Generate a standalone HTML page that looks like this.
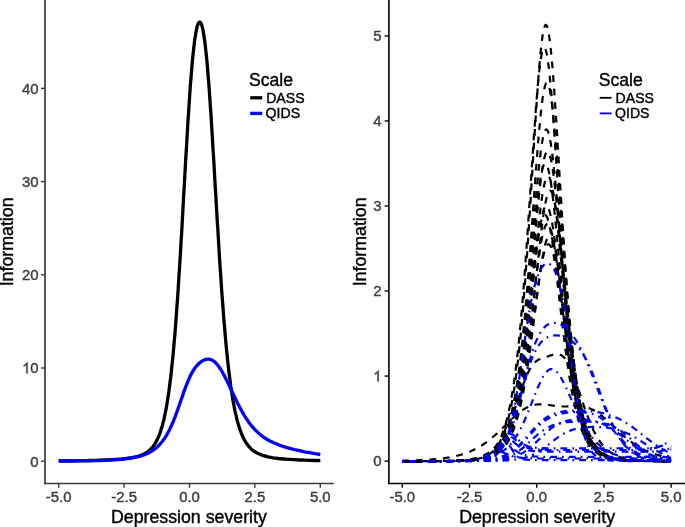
<!DOCTYPE html>
<html><head><meta charset="utf-8"><style>
html,body{margin:0;padding:0;background:#fff;width:685px;height:527px;overflow:hidden}
svg{display:block;font-family:"Liberation Sans", sans-serif}
text{filter:grayscale(1);stroke-width:0.4px}
</style></head><body>
<svg width="685" height="527" viewBox="0 0 685 527">
<rect width="685" height="527" fill="#fff"/>
<line x1="45.0" y1="0" x2="45.0" y2="484.3" stroke="#3a3a3a" stroke-width="1.7"/>
<line x1="44.15" y1="483.5" x2="333.8" y2="483.5" stroke="#3a3a3a" stroke-width="1.6"/>
<line x1="41" y1="461.20" x2="45.0" y2="461.20" stroke="#3a3a3a" stroke-width="1.4"/>
<text x="30.31" y="466.50" font-size="14.9" fill="#3d3d3d" stroke="#3d3d3d" text-anchor="start" >0</text>
<line x1="41" y1="368.00" x2="45.0" y2="368.00" stroke="#3a3a3a" stroke-width="1.4"/>
<path d="M763 0H583V1147Q518 1085 412 1023Q306 961 222 930V1104Q373 1175 486 1276Q599 1377 646 1472H763Z" transform="translate(22.03,373.30) scale(0.00728,-0.00728)" fill="#3d3d3d" stroke="#3d3d3d" stroke-width="0.4" vector-effect="non-scaling-stroke"/><text x="30.31" y="373.30" font-size="14.9" fill="#3d3d3d" stroke="#3d3d3d" text-anchor="start" >0</text>
<line x1="41" y1="274.80" x2="45.0" y2="274.80" stroke="#3a3a3a" stroke-width="1.4"/>
<text x="22.03" y="280.10" font-size="14.9" fill="#3d3d3d" stroke="#3d3d3d" text-anchor="start" >2</text><text x="30.31" y="280.10" font-size="14.9" fill="#3d3d3d" stroke="#3d3d3d" text-anchor="start" >0</text>
<line x1="41" y1="181.60" x2="45.0" y2="181.60" stroke="#3a3a3a" stroke-width="1.4"/>
<text x="22.03" y="186.90" font-size="14.9" fill="#3d3d3d" stroke="#3d3d3d" text-anchor="start" >3</text><text x="30.31" y="186.90" font-size="14.9" fill="#3d3d3d" stroke="#3d3d3d" text-anchor="start" >0</text>
<line x1="41" y1="88.40" x2="45.0" y2="88.40" stroke="#3a3a3a" stroke-width="1.4"/>
<text x="22.03" y="93.70" font-size="14.9" fill="#3d3d3d" stroke="#3d3d3d" text-anchor="start" >4</text><text x="30.31" y="93.70" font-size="14.9" fill="#3d3d3d" stroke="#3d3d3d" text-anchor="start" >0</text>
<line x1="58.70" y1="483.5" x2="58.70" y2="487.8" stroke="#3a3a3a" stroke-width="1.4"/>
<text x="58.70" y="502.0" font-size="14.9" fill="#3d3d3d" stroke="#3d3d3d" text-anchor="middle" >-5.0</text>
<line x1="124.10" y1="483.5" x2="124.10" y2="487.8" stroke="#3a3a3a" stroke-width="1.4"/>
<text x="124.10" y="502.0" font-size="14.9" fill="#3d3d3d" stroke="#3d3d3d" text-anchor="middle" >-2.5</text>
<line x1="189.50" y1="483.5" x2="189.50" y2="487.8" stroke="#3a3a3a" stroke-width="1.4"/>
<text x="189.50" y="502.0" font-size="14.9" fill="#3d3d3d" stroke="#3d3d3d" text-anchor="middle" >0.0</text>
<line x1="254.90" y1="483.5" x2="254.90" y2="487.8" stroke="#3a3a3a" stroke-width="1.4"/>
<text x="254.90" y="502.0" font-size="14.9" fill="#3d3d3d" stroke="#3d3d3d" text-anchor="middle" >2.5</text>
<line x1="320.30" y1="483.5" x2="320.30" y2="487.8" stroke="#3a3a3a" stroke-width="1.4"/>
<text x="320.30" y="502.0" font-size="14.9" fill="#3d3d3d" stroke="#3d3d3d" text-anchor="middle" >5.0</text>
<text x="188.9" y="523.2" font-size="17.75" fill="#000" stroke="#000" text-anchor="middle" >Depression severity</text>
<text transform="translate(13.4,241.9) rotate(-90)" font-size="17.8" fill="#000" stroke="#000" text-anchor="middle">Information</text>
<path d="M58.7 461.0L63.9 460.9L69.2 460.9L74.4 460.8L79.6 460.7L84.9 460.6L90.1 460.5L95.3 460.4L100.6 460.2L105.8 460.0L111.0 459.7L116.3 459.4L121.5 459.0L126.7 458.4L131.9 457.7L137.2 456.5L137.7 456.4L138.2 456.2L138.7 456.1L139.3 455.9L139.8 455.7L140.3 455.5L140.8 455.4L141.4 455.2L141.9 454.9L142.4 454.7L142.9 454.5L143.5 454.2L144.0 454.0L144.5 453.7L145.0 453.4L145.6 453.1L146.1 452.8L146.6 452.5L147.1 452.1L147.6 451.8L148.2 451.4L148.7 451.0L149.2 450.5L149.7 450.1L150.3 449.6L150.8 449.0L151.3 448.5L151.8 447.9L152.4 447.3L152.9 446.7L153.4 446.0L153.9 445.2L154.4 444.5L155.0 443.7L155.5 442.8L156.0 441.9L156.5 440.9L157.1 439.9L157.6 438.8L158.1 437.6L158.6 436.4L159.2 435.1L159.7 433.8L160.2 432.3L160.7 430.8L161.2 429.1L161.8 427.4L162.3 425.6L162.8 423.6L163.3 421.6L163.9 419.4L164.4 417.1L164.9 414.7L165.4 412.1L166.0 409.4L166.5 406.6L167.0 403.6L167.5 400.4L168.0 397.0L168.6 393.5L169.1 389.7L169.6 385.8L170.1 381.7L170.7 377.3L171.2 372.8L171.7 368.0L172.2 363.0L172.8 357.7L173.3 352.2L173.8 346.5L174.3 340.5L174.9 334.3L175.4 327.8L175.9 321.1L176.4 314.1L176.9 306.8L177.5 299.4L178.0 291.7L178.5 283.7L179.0 275.5L179.6 267.2L180.1 258.6L180.6 249.9L181.1 241.0L181.7 231.9L182.2 222.8L182.7 213.5L183.2 204.2L183.7 194.8L184.3 185.5L184.8 176.1L185.3 166.8L185.8 157.6L186.4 148.5L186.9 139.6L187.4 130.8L187.9 122.2L188.5 113.9L189.0 105.8L189.5 98.1L190.0 90.6L190.5 83.5L191.1 76.7L191.6 70.3L192.1 64.2L192.6 58.6L193.2 53.3L193.7 48.5L194.2 44.1L194.7 40.0L195.3 36.4L195.8 33.2L196.3 30.4L196.8 28.0L197.3 26.0L197.9 24.4L198.4 23.3L198.9 22.5L199.4 22.1L200.0 22.1L200.5 22.5L201.0 23.4L201.5 24.6L202.1 26.3L202.6 28.3L203.1 30.8L203.6 33.7L204.1 37.0L204.7 40.7L205.2 44.8L205.7 49.4L206.2 54.3L206.8 59.7L207.3 65.4L207.8 71.5L208.3 78.0L208.9 84.8L209.4 91.9L209.9 99.3L210.4 107.0L211.0 115.0L211.5 123.2L212.0 131.5L212.5 140.1L213.0 148.8L213.6 157.6L214.1 166.5L214.6 175.5L215.1 184.5L215.7 193.5L216.2 202.5L216.7 211.4L217.2 220.2L217.8 229.0L218.3 237.6L218.8 246.2L219.3 254.5L219.8 262.7L220.4 270.8L220.9 278.6L221.4 286.2L221.9 293.7L222.5 300.9L223.0 307.9L223.5 314.6L224.0 321.2L224.6 327.5L225.1 333.6L225.6 339.5L226.1 345.1L226.6 350.5L227.2 355.7L227.7 360.7L228.2 365.5L228.7 370.1L229.3 374.4L229.8 378.6L230.3 382.6L230.8 386.4L231.4 390.0L231.9 393.5L232.4 396.8L232.9 399.9L233.4 402.9L234.0 405.7L234.5 408.4L235.0 411.0L235.5 413.4L236.1 415.7L236.6 417.9L237.1 420.0L237.6 421.9L238.2 423.8L238.7 425.6L239.2 427.3L239.7 428.9L240.3 430.4L240.8 431.8L241.3 433.2L241.8 434.4L242.3 435.7L242.9 436.8L243.4 437.9L243.9 439.0L244.4 439.9L245.0 440.9L245.5 441.7L246.0 442.6L246.5 443.4L247.1 444.1L247.6 444.8L248.1 445.5L248.6 446.2L249.1 446.8L249.7 447.3L250.2 447.9L250.7 448.4L251.2 448.9L251.8 449.4L252.3 449.8L252.8 450.3L253.3 450.7L253.9 451.0L254.4 451.4L254.9 451.8L257.5 453.3L262.7 455.4L268.0 456.8L273.2 457.8L278.4 458.5L283.7 459.0L288.9 459.4L294.1 459.7L299.4 460.0L304.6 460.2L309.8 460.4L315.1 460.5L320.3 460.6" fill="none" stroke="#000" stroke-width="3.3" stroke-linejoin="round"/>
<path d="M58.7 461.0L63.9 461.0L69.2 461.0L74.4 460.9L79.6 460.9L84.9 460.8L90.1 460.7L95.3 460.6L100.6 460.5L105.8 460.3L111.0 460.0L116.3 459.7L121.5 459.3L126.7 458.7L131.9 458.0L137.2 456.9L137.7 456.8L138.2 456.6L138.7 456.5L139.3 456.4L139.8 456.2L140.3 456.1L140.8 455.9L141.4 455.7L141.9 455.6L142.4 455.4L142.9 455.2L143.5 455.0L144.0 454.9L144.5 454.7L145.0 454.5L145.6 454.2L146.1 454.0L146.6 453.8L147.1 453.6L147.6 453.3L148.2 453.1L148.7 452.8L149.2 452.5L149.7 452.3L150.3 452.0L150.8 451.7L151.3 451.4L151.8 451.0L152.4 450.7L152.9 450.4L153.4 450.0L153.9 449.6L154.4 449.2L155.0 448.8L155.5 448.4L156.0 448.0L156.5 447.5L157.1 447.1L157.6 446.6L158.1 446.1L158.6 445.6L159.2 445.1L159.7 444.5L160.2 443.9L160.7 443.3L161.2 442.7L161.8 442.1L162.3 441.4L162.8 440.7L163.3 440.0L163.9 439.3L164.4 438.6L164.9 437.8L165.4 437.0L166.0 436.1L166.5 435.3L167.0 434.4L167.5 433.4L168.0 432.5L168.6 431.5L169.1 430.5L169.6 429.4L170.1 428.4L170.7 427.3L171.2 426.1L171.7 425.0L172.2 423.8L172.8 422.5L173.3 421.3L173.8 420.0L174.3 418.7L174.9 417.3L175.4 416.0L175.9 414.6L176.4 413.2L176.9 411.7L177.5 410.3L178.0 408.8L178.5 407.3L179.0 405.8L179.6 404.3L180.1 402.8L180.6 401.2L181.1 399.7L181.7 398.2L182.2 396.7L182.7 395.2L183.2 393.7L183.7 392.2L184.3 390.7L184.8 389.3L185.3 387.9L185.8 386.5L186.4 385.1L186.9 383.8L187.4 382.5L187.9 381.2L188.5 380.0L189.0 378.8L189.5 377.6L190.0 376.5L190.5 375.4L191.1 374.4L191.6 373.4L192.1 372.5L192.6 371.6L193.2 370.7L193.7 369.9L194.2 369.1L194.7 368.3L195.3 367.6L195.8 366.9L196.3 366.3L196.8 365.7L197.3 365.1L197.9 364.5L198.4 364.0L198.9 363.5L199.4 363.1L200.0 362.6L200.5 362.2L201.0 361.8L201.5 361.4L202.1 361.1L202.6 360.8L203.1 360.5L203.6 360.2L204.1 360.0L204.7 359.8L205.2 359.6L205.7 359.5L206.2 359.3L206.8 359.3L207.3 359.2L207.8 359.2L208.3 359.2L208.9 359.2L209.4 359.3L209.9 359.4L210.4 359.5L211.0 359.7L211.5 359.9L212.0 360.1L212.5 360.4L213.0 360.7L213.6 361.1L214.1 361.4L214.6 361.9L215.1 362.3L215.7 362.8L216.2 363.4L216.7 363.9L217.2 364.5L217.8 365.2L218.3 365.8L218.8 366.6L219.3 367.3L219.8 368.1L220.4 368.9L220.9 369.7L221.4 370.5L221.9 371.4L222.5 372.3L223.0 373.3L223.5 374.2L224.0 375.2L224.6 376.2L225.1 377.2L225.6 378.2L226.1 379.3L226.6 380.3L227.2 381.4L227.7 382.5L228.2 383.5L228.7 384.6L229.3 385.7L229.8 386.8L230.3 388.0L230.8 389.1L231.4 390.2L231.9 391.3L232.4 392.4L232.9 393.5L233.4 394.6L234.0 395.7L234.5 396.8L235.0 397.9L235.5 399.0L236.1 400.1L236.6 401.1L237.1 402.2L237.6 403.2L238.2 404.3L238.7 405.3L239.2 406.3L239.7 407.3L240.3 408.3L240.8 409.2L241.3 410.2L241.8 411.1L242.3 412.1L242.9 413.0L243.4 413.9L243.9 414.8L244.4 415.6L245.0 416.5L245.5 417.3L246.0 418.1L246.5 418.9L247.1 419.7L247.6 420.5L248.1 421.2L248.6 422.0L249.1 422.7L249.7 423.4L250.2 424.1L250.7 424.8L251.2 425.4L251.8 426.1L252.3 426.7L252.8 427.3L253.3 427.9L253.9 428.5L254.4 429.1L254.9 429.6L257.5 432.2L262.7 436.6L268.0 440.0L273.2 442.6L278.4 444.8L283.7 446.6L288.9 448.1L294.1 449.5L299.4 450.7L304.6 451.8L309.8 452.7L315.1 453.7L320.3 454.5" fill="none" stroke="#0000ff" stroke-width="3.3" stroke-linejoin="round"/>
<text x="249.0" y="86.2" font-size="17.6" fill="#000" stroke="#000" text-anchor="start" >Scale</text>
<line x1="250.2" y1="97.8" x2="262.2" y2="97.8" stroke="#000" stroke-width="3.3"/>
<line x1="250.2" y1="113.4" x2="262.2" y2="113.4" stroke="#0000ff" stroke-width="3.3"/>
<text x="266.2" y="102.9" font-size="14.1" fill="#000" stroke="#000" text-anchor="start" >DASS</text>
<text x="265.6" y="118.4" font-size="14.1" fill="#000" stroke="#000" text-anchor="start" >QIDS</text>
<line x1="388.9" y1="0" x2="388.9" y2="484.3" stroke="#000" stroke-width="1.6"/>
<line x1="388.1" y1="483.5" x2="685" y2="483.5" stroke="#000" stroke-width="1.6"/>
<line x1="384.6" y1="461.10" x2="388.9" y2="461.10" stroke="#000" stroke-width="1.4"/>
<text x="373.21" y="466.40" font-size="14.9" fill="#3d3d3d" stroke="#3d3d3d" text-anchor="start" >0</text>
<line x1="384.6" y1="376.06" x2="388.9" y2="376.06" stroke="#000" stroke-width="1.4"/>
<path d="M763 0H583V1147Q518 1085 412 1023Q306 961 222 930V1104Q373 1175 486 1276Q599 1377 646 1472H763Z" transform="translate(373.21,381.36) scale(0.00728,-0.00728)" fill="#3d3d3d" stroke="#3d3d3d" stroke-width="0.4" vector-effect="non-scaling-stroke"/>
<line x1="384.6" y1="291.02" x2="388.9" y2="291.02" stroke="#000" stroke-width="1.4"/>
<text x="373.21" y="296.32" font-size="14.9" fill="#3d3d3d" stroke="#3d3d3d" text-anchor="start" >2</text>
<line x1="384.6" y1="205.98" x2="388.9" y2="205.98" stroke="#000" stroke-width="1.4"/>
<text x="373.21" y="211.28" font-size="14.9" fill="#3d3d3d" stroke="#3d3d3d" text-anchor="start" >3</text>
<line x1="384.6" y1="120.94" x2="388.9" y2="120.94" stroke="#000" stroke-width="1.4"/>
<text x="373.21" y="126.24" font-size="14.9" fill="#3d3d3d" stroke="#3d3d3d" text-anchor="start" >4</text>
<line x1="384.6" y1="35.90" x2="388.9" y2="35.90" stroke="#000" stroke-width="1.4"/>
<text x="373.21" y="41.20" font-size="14.9" fill="#3d3d3d" stroke="#3d3d3d" text-anchor="start" >5</text>
<line x1="402.30" y1="483.5" x2="402.30" y2="487.8" stroke="#000" stroke-width="1.4"/>
<text x="402.30" y="502.0" font-size="14.9" fill="#3d3d3d" stroke="#3d3d3d" text-anchor="middle" >-5.0</text>
<line x1="469.50" y1="483.5" x2="469.50" y2="487.8" stroke="#000" stroke-width="1.4"/>
<text x="469.50" y="502.0" font-size="14.9" fill="#3d3d3d" stroke="#3d3d3d" text-anchor="middle" >-2.5</text>
<line x1="536.70" y1="483.5" x2="536.70" y2="487.8" stroke="#000" stroke-width="1.4"/>
<text x="536.70" y="502.0" font-size="14.9" fill="#3d3d3d" stroke="#3d3d3d" text-anchor="middle" >0.0</text>
<line x1="603.90" y1="483.5" x2="603.90" y2="487.8" stroke="#000" stroke-width="1.4"/>
<text x="603.90" y="502.0" font-size="14.9" fill="#3d3d3d" stroke="#3d3d3d" text-anchor="middle" >2.5</text>
<line x1="671.10" y1="483.5" x2="671.10" y2="487.8" stroke="#000" stroke-width="1.4"/>
<text x="671.10" y="502.0" font-size="14.9" fill="#3d3d3d" stroke="#3d3d3d" text-anchor="middle" >5.0</text>
<text x="537.1" y="523.2" font-size="17.75" fill="#000" stroke="#000" text-anchor="middle" >Depression severity</text>
<text transform="translate(365.6,241.9) rotate(-90)" font-size="17.8" fill="#000" stroke="#000" text-anchor="middle">Information</text>
<path d="M402.3 461.1L403.0 461.1L403.6 461.1L404.3 461.1L405.0 461.1L405.7 461.1L406.3 461.1L407.0 461.1L407.7 461.1L408.3 461.1L409.0 461.1L409.7 461.1L410.4 461.1L411.0 461.1L411.7 461.1L412.4 461.1L413.1 461.1L413.7 461.1L414.4 461.1L415.1 461.1L415.7 461.1L416.4 461.1L417.1 461.1L417.8 461.1L418.4 461.1L419.1 461.1L419.8 461.1L420.4 461.1L421.1 461.1L421.8 461.1L422.5 461.1L423.1 461.1L423.8 461.1L424.5 461.1L425.1 461.1L425.8 461.1L426.5 461.1L427.2 461.1L427.8 461.1L428.5 461.1L429.2 461.1L429.9 461.1L430.5 461.1L431.2 461.1L431.9 461.1L432.5 461.1L433.2 461.1L433.9 461.1L434.6 461.1L435.2 461.1L435.9 461.1L436.6 461.1L437.2 461.1L437.9 461.1L438.6 461.1L439.3 461.0L439.9 461.0L440.6 461.0L441.3 461.0L441.9 461.0L442.6 461.0L443.3 461.0L444.0 461.0L444.6 461.0L445.3 461.0L446.0 461.0L446.7 461.0L447.3 461.0L448.0 461.0L448.7 461.0L449.3 461.0L450.0 461.0L450.7 460.9L451.4 460.9L452.0 460.9L452.7 460.9L453.4 460.9L454.0 460.9L454.7 460.9L455.4 460.9L456.1 460.8L456.7 460.8L457.4 460.8L458.1 460.8L458.7 460.8L459.4 460.7L460.1 460.7L460.8 460.7L461.4 460.7L462.1 460.6L462.8 460.6L463.5 460.6L464.1 460.5L464.8 460.5L465.5 460.4L466.1 460.4L466.8 460.3L467.5 460.3L468.2 460.2L468.8 460.2L469.5 460.1L470.2 460.0L470.8 460.0L471.5 459.9L472.2 459.8L472.9 459.7L473.5 459.6L474.2 459.5L474.9 459.4L475.5 459.3L476.2 459.2L476.9 459.1L477.6 458.9L478.2 458.8L478.9 458.6L479.6 458.4L480.3 458.3L480.9 458.1L481.6 457.9L482.3 457.7L482.9 457.4L483.6 457.2L484.3 456.9L485.0 456.6L485.6 456.3L486.3 456.0L487.0 455.7L487.6 455.3L488.3 454.9L489.0 454.5L489.7 454.0L490.3 453.5L491.0 453.0L491.7 452.5L492.3 451.9L493.0 451.3L493.7 450.6L494.4 449.9L495.0 449.2L495.7 448.4L496.4 447.5L497.1 446.6L497.7 445.7L498.4 444.6L499.1 443.5L499.7 442.4L500.4 441.1L501.1 439.8L501.8 438.4L502.4 436.9L503.1 435.3L503.8 433.6L504.4 431.8L505.1 429.9L505.8 427.8L506.5 425.7L507.1 423.4L507.8 420.9L508.5 418.3L509.1 415.6L509.8 412.7L510.5 409.6L511.2 406.3L511.8 402.8L512.5 399.2L513.2 395.3L513.9 391.2L514.5 386.8L515.2 382.3L515.9 377.4L516.5 372.4L517.2 367.0L517.9 361.4L518.6 355.5L519.2 349.3L519.9 342.8L520.6 336.0L521.2 328.9L521.9 321.5L522.6 313.8L523.3 305.7L523.9 297.4L524.6 288.7L525.3 279.7L525.9 270.4L526.6 260.9L527.3 251.1L528.0 241.0L528.6 230.7L529.3 220.2L530.0 209.5L530.7 198.7L531.3 187.7L532.0 176.7L532.7 165.6L533.3 154.6L534.0 143.7L534.7 132.8L535.4 122.2L536.0 111.8L536.7 101.7L537.4 92.0L538.0 82.7L538.7 73.9L539.4 65.6L540.1 58.0L540.7 51.0L541.4 44.8L542.1 39.3L542.7 34.7L543.4 30.9L544.1 28.0L544.8 26.1L545.4 25.0L546.1 24.9L546.8 25.8L547.5 27.6L548.1 30.3L548.8 33.9L549.5 38.3L550.1 43.6L550.8 49.7L551.5 56.5L552.2 64.0L552.8 72.2L553.5 80.9L554.2 90.1L554.8 99.7L555.5 109.8L556.2 120.1L556.9 130.7L557.5 141.5L558.2 152.4L558.9 163.4L559.5 174.5L560.2 185.5L560.9 196.5L561.6 207.3L562.2 218.1L562.9 228.6L563.6 239.0L564.3 249.1L564.9 259.0L565.6 268.6L566.3 277.9L566.9 286.9L567.6 295.6L568.3 304.1L569.0 312.2L569.6 320.0L570.3 327.4L571.0 334.6L571.6 341.5L572.3 348.0L573.0 354.3L573.7 360.2L574.3 365.9L575.0 371.3L575.7 376.5L576.3 381.3L577.0 385.9L577.7 390.3L578.4 394.5L579.0 398.4L579.7 402.1L580.4 405.6L581.1 408.9L581.7 412.1L582.4 415.0L583.1 417.8L583.7 420.4L584.4 422.9L585.1 425.2L585.8 427.4L586.4 429.5L587.1 431.4L587.8 433.3L588.4 435.0L589.1 436.6L589.8 438.1L590.5 439.5L591.1 440.9L591.8 442.1L592.5 443.3L593.1 444.4L593.8 445.5L594.5 446.5L595.2 447.4L595.8 448.2L596.5 449.0L597.2 449.8L597.9 450.5L598.5 451.2L599.2 451.8L599.9 452.4L600.5 452.9L601.2 453.5L601.9 453.9L602.6 454.4L603.2 454.8L603.9 455.2L604.6 455.6L605.2 455.9L605.9 456.3L606.6 456.6L607.3 456.9L607.9 457.1L608.6 457.4L609.3 457.6L609.9 457.8L610.6 458.0L611.3 458.2L612.0 458.4L612.6 458.6L613.3 458.7L614.0 458.9L614.7 459.0L615.3 459.2L616.0 459.3L616.7 459.4L617.3 459.5L618.0 459.6L618.7 459.7L619.4 459.8L620.0 459.9L620.7 460.0L621.4 460.0L622.0 460.1L622.7 460.2L623.4 460.2L624.1 460.3L624.7 460.3L625.4 460.4L626.1 460.4L626.7 460.5L627.4 460.5L628.1 460.5L628.8 460.6L629.4 460.6L630.1 460.6L630.8 460.7L631.5 460.7L632.1 460.7L632.8 460.7L633.5 460.8L634.1 460.8L634.8 460.8L635.5 460.8L636.2 460.8L636.8 460.9L637.5 460.9L638.2 460.9L638.8 460.9L639.5 460.9L640.2 460.9L640.9 460.9L641.5 461.0L642.2 461.0L642.9 461.0L643.5 461.0L644.2 461.0L644.9 461.0L645.6 461.0L646.2 461.0L646.9 461.0L647.6 461.0L648.3 461.0L648.9 461.0L649.6 461.0L650.3 461.0L650.9 461.0L651.6 461.0L652.3 461.0L653.0 461.1L653.6 461.1L654.3 461.1L655.0 461.1L655.6 461.1L656.3 461.1L657.0 461.1L657.7 461.1L658.3 461.1L659.0 461.1L659.7 461.1L660.3 461.1L661.0 461.1L661.7 461.1L662.4 461.1L663.0 461.1L663.7 461.1L664.4 461.1L665.1 461.1L665.7 461.1L666.4 461.1L667.1 461.1L667.7 461.1L668.4 461.1L669.1 461.1L669.8 461.1L670.4 461.1L671.1 461.1" fill="none" stroke="#000" stroke-width="2.2" stroke-dasharray="6.80 6.80" stroke-dashoffset="7.84"/>
<path d="M402.3 461.1L403.0 461.1L403.6 461.1L404.3 461.1L405.0 461.1L405.7 461.1L406.3 461.1L407.0 461.1L407.7 461.1L408.3 461.1L409.0 461.1L409.7 461.1L410.4 461.1L411.0 461.1L411.7 461.1L412.4 461.1L413.1 461.1L413.7 461.1L414.4 461.1L415.1 461.1L415.7 461.1L416.4 461.1L417.1 461.1L417.8 461.1L418.4 461.1L419.1 461.1L419.8 461.1L420.4 461.1L421.1 461.1L421.8 461.1L422.5 461.1L423.1 461.1L423.8 461.1L424.5 461.1L425.1 461.1L425.8 461.1L426.5 461.1L427.2 461.1L427.8 461.1L428.5 461.1L429.2 461.1L429.9 461.1L430.5 461.1L431.2 461.1L431.9 461.1L432.5 461.1L433.2 461.1L433.9 461.1L434.6 461.1L435.2 461.1L435.9 461.1L436.6 461.1L437.2 461.0L437.9 461.0L438.6 461.0L439.3 461.0L439.9 461.0L440.6 461.0L441.3 461.0L441.9 461.0L442.6 461.0L443.3 461.0L444.0 461.0L444.6 461.0L445.3 461.0L446.0 461.0L446.7 461.0L447.3 461.0L448.0 461.0L448.7 460.9L449.3 460.9L450.0 460.9L450.7 460.9L451.4 460.9L452.0 460.9L452.7 460.9L453.4 460.9L454.0 460.8L454.7 460.8L455.4 460.8L456.1 460.8L456.7 460.8L457.4 460.7L458.1 460.7L458.7 460.7L459.4 460.7L460.1 460.6L460.8 460.6L461.4 460.6L462.1 460.5L462.8 460.5L463.5 460.5L464.1 460.4L464.8 460.4L465.5 460.3L466.1 460.3L466.8 460.2L467.5 460.1L468.2 460.1L468.8 460.0L469.5 459.9L470.2 459.9L470.8 459.8L471.5 459.7L472.2 459.6L472.9 459.5L473.5 459.4L474.2 459.3L474.9 459.1L475.5 459.0L476.2 458.9L476.9 458.7L477.6 458.6L478.2 458.4L478.9 458.2L479.6 458.0L480.3 457.8L480.9 457.6L481.6 457.3L482.3 457.1L482.9 456.8L483.6 456.5L484.3 456.2L485.0 455.9L485.6 455.6L486.3 455.2L487.0 454.8L487.6 454.4L488.3 453.9L489.0 453.4L489.7 452.9L490.3 452.4L491.0 451.8L491.7 451.2L492.3 450.5L493.0 449.8L493.7 449.1L494.4 448.3L495.0 447.4L495.7 446.5L496.4 445.5L497.1 444.5L497.7 443.4L498.4 442.2L499.1 441.0L499.7 439.7L500.4 438.3L501.1 436.8L501.8 435.2L502.4 433.5L503.1 431.7L503.8 429.8L504.4 427.8L505.1 425.6L505.8 423.4L506.5 420.9L507.1 418.4L507.8 415.7L508.5 412.8L509.1 409.7L509.8 406.5L510.5 403.1L511.2 399.5L511.8 395.7L512.5 391.7L513.2 387.4L513.9 382.9L514.5 378.2L515.2 373.3L515.9 368.0L516.5 362.6L517.2 356.8L517.9 350.8L518.6 344.5L519.2 337.9L519.9 331.0L520.6 323.8L521.2 316.4L521.9 308.6L522.6 300.6L523.3 292.2L523.9 283.6L524.6 274.7L525.3 265.6L525.9 256.2L526.6 246.6L527.3 236.8L528.0 226.8L528.6 216.7L529.3 206.5L530.0 196.1L530.7 185.8L531.3 175.4L532.0 165.1L532.7 154.8L533.3 144.7L534.0 134.8L534.7 125.2L535.4 115.9L536.0 106.9L536.7 98.4L537.4 90.4L538.0 82.9L538.7 76.0L539.4 69.8L540.1 64.3L540.7 59.5L541.4 55.5L542.1 52.3L542.7 49.9L543.4 48.4L544.1 47.8L544.8 48.1L545.4 49.2L546.1 51.2L546.8 54.1L547.5 57.8L548.1 62.3L548.8 67.5L549.5 73.5L550.1 80.1L550.8 87.3L551.5 95.2L552.2 103.5L552.8 112.3L553.5 121.4L554.2 131.0L554.8 140.8L555.5 150.8L556.2 160.9L556.9 171.2L557.5 181.6L558.2 192.0L558.9 202.3L559.5 212.6L560.2 222.8L560.9 232.8L561.6 242.7L562.2 252.4L562.9 261.9L563.6 271.1L564.3 280.1L564.9 288.8L565.6 297.3L566.3 305.4L566.9 313.3L567.6 320.9L568.3 328.2L569.0 335.2L569.6 341.9L570.3 348.3L571.0 354.4L571.6 360.3L572.3 365.9L573.0 371.2L573.7 376.3L574.3 381.1L575.0 385.6L575.7 390.0L576.3 394.1L577.0 398.0L577.7 401.7L578.4 405.2L579.0 408.5L579.7 411.6L580.4 414.5L581.1 417.3L581.7 419.9L582.4 422.4L583.1 424.7L583.7 426.9L584.4 429.0L585.1 431.0L585.8 432.8L586.4 434.5L587.1 436.2L587.8 437.7L588.4 439.1L589.1 440.5L589.8 441.8L590.5 443.0L591.1 444.1L591.8 445.1L592.5 446.1L593.1 447.0L593.8 447.9L594.5 448.7L595.2 449.5L595.8 450.2L596.5 450.9L597.2 451.5L597.9 452.1L598.5 452.7L599.2 453.2L599.9 453.7L600.5 454.2L601.2 454.6L601.9 455.0L602.6 455.4L603.2 455.8L603.9 456.1L604.6 456.4L605.2 456.7L605.9 457.0L606.6 457.2L607.3 457.5L607.9 457.7L608.6 457.9L609.3 458.1L609.9 458.3L610.6 458.5L611.3 458.7L612.0 458.8L612.6 459.0L613.3 459.1L614.0 459.2L614.7 459.3L615.3 459.4L616.0 459.5L616.7 459.6L617.3 459.7L618.0 459.8L618.7 459.9L619.4 460.0L620.0 460.1L620.7 460.1L621.4 460.2L622.0 460.2L622.7 460.3L623.4 460.3L624.1 460.4L624.7 460.4L625.4 460.5L626.1 460.5L626.7 460.6L627.4 460.6L628.1 460.6L628.8 460.7L629.4 460.7L630.1 460.7L630.8 460.7L631.5 460.8L632.1 460.8L632.8 460.8L633.5 460.8L634.1 460.8L634.8 460.8L635.5 460.9L636.2 460.9L636.8 460.9L637.5 460.9L638.2 460.9L638.8 460.9L639.5 460.9L640.2 461.0L640.9 461.0L641.5 461.0L642.2 461.0L642.9 461.0L643.5 461.0L644.2 461.0L644.9 461.0L645.6 461.0L646.2 461.0L646.9 461.0L647.6 461.0L648.3 461.0L648.9 461.0L649.6 461.0L650.3 461.0L650.9 461.0L651.6 461.1L652.3 461.1L653.0 461.1L653.6 461.1L654.3 461.1L655.0 461.1L655.6 461.1L656.3 461.1L657.0 461.1L657.7 461.1L658.3 461.1L659.0 461.1L659.7 461.1L660.3 461.1L661.0 461.1L661.7 461.1L662.4 461.1L663.0 461.1L663.7 461.1L664.4 461.1L665.1 461.1L665.7 461.1L666.4 461.1L667.1 461.1L667.7 461.1L668.4 461.1L669.1 461.1L669.8 461.1L670.4 461.1L671.1 461.1" fill="none" stroke="#000" stroke-width="2.2" stroke-dasharray="6.80 6.80"/>
<path d="M402.3 461.1L403.0 461.1L403.6 461.1L404.3 461.1L405.0 461.1L405.7 461.1L406.3 461.1L407.0 461.1L407.7 461.1L408.3 461.1L409.0 461.1L409.7 461.1L410.4 461.1L411.0 461.1L411.7 461.1L412.4 461.1L413.1 461.1L413.7 461.1L414.4 461.1L415.1 461.1L415.7 461.1L416.4 461.1L417.1 461.1L417.8 461.1L418.4 461.1L419.1 461.1L419.8 461.1L420.4 461.1L421.1 461.1L421.8 461.1L422.5 461.1L423.1 461.1L423.8 461.1L424.5 461.1L425.1 461.1L425.8 461.1L426.5 461.1L427.2 461.1L427.8 461.1L428.5 461.1L429.2 461.1L429.9 461.1L430.5 461.1L431.2 461.1L431.9 461.1L432.5 461.1L433.2 461.1L433.9 461.1L434.6 461.1L435.2 461.1L435.9 461.1L436.6 461.1L437.2 461.1L437.9 461.1L438.6 461.1L439.3 461.1L439.9 461.0L440.6 461.0L441.3 461.0L441.9 461.0L442.6 461.0L443.3 461.0L444.0 461.0L444.6 461.0L445.3 461.0L446.0 461.0L446.7 461.0L447.3 461.0L448.0 461.0L448.7 461.0L449.3 461.0L450.0 461.0L450.7 461.0L451.4 460.9L452.0 460.9L452.7 460.9L453.4 460.9L454.0 460.9L454.7 460.9L455.4 460.9L456.1 460.9L456.7 460.8L457.4 460.8L458.1 460.8L458.7 460.8L459.4 460.8L460.1 460.7L460.8 460.7L461.4 460.7L462.1 460.7L462.8 460.6L463.5 460.6L464.1 460.6L464.8 460.5L465.5 460.5L466.1 460.4L466.8 460.4L467.5 460.4L468.2 460.3L468.8 460.3L469.5 460.2L470.2 460.1L470.8 460.1L471.5 460.0L472.2 459.9L472.9 459.9L473.5 459.8L474.2 459.7L474.9 459.6L475.5 459.5L476.2 459.4L476.9 459.3L477.6 459.2L478.2 459.0L478.9 458.9L479.6 458.7L480.3 458.6L480.9 458.4L481.6 458.2L482.3 458.0L482.9 457.8L483.6 457.6L484.3 457.4L485.0 457.1L485.6 456.9L486.3 456.6L487.0 456.3L487.6 456.0L488.3 455.7L489.0 455.3L489.7 454.9L490.3 454.5L491.0 454.1L491.7 453.6L492.3 453.1L493.0 452.6L493.7 452.0L494.4 451.4L495.0 450.8L495.7 450.1L496.4 449.4L497.1 448.6L497.7 447.8L498.4 447.0L499.1 446.0L499.7 445.0L500.4 444.0L501.1 442.9L501.8 441.7L502.4 440.5L503.1 439.1L503.8 437.7L504.4 436.2L505.1 434.6L505.8 432.9L506.5 431.1L507.1 429.2L507.8 427.2L508.5 425.0L509.1 422.7L509.8 420.3L510.5 417.8L511.2 415.1L511.8 412.2L512.5 409.2L513.2 406.0L513.9 402.6L514.5 399.1L515.2 395.3L515.9 391.3L516.5 387.2L517.2 382.8L517.9 378.2L518.6 373.3L519.2 368.3L519.9 362.9L520.6 357.4L521.2 351.5L521.9 345.5L522.6 339.1L523.3 332.5L523.9 325.7L524.6 318.5L525.3 311.1L525.9 303.5L526.6 295.6L527.3 287.5L528.0 279.2L528.6 270.6L529.3 261.9L530.0 252.9L530.7 243.9L531.3 234.7L532.0 225.4L532.7 216.0L533.3 206.6L534.0 197.3L534.7 187.9L535.4 178.7L536.0 169.6L536.7 160.7L537.4 152.0L538.0 143.7L538.7 135.6L539.4 128.0L540.1 120.8L540.7 114.1L541.4 107.9L542.1 102.3L542.7 97.4L543.4 93.1L544.1 89.5L544.8 86.7L545.4 84.6L546.1 83.2L546.8 82.7L547.5 82.9L548.1 83.9L548.8 85.7L549.5 88.3L550.1 91.6L550.8 95.6L551.5 100.3L552.2 105.6L552.8 111.6L553.5 118.0L554.2 125.1L554.8 132.5L555.5 140.4L556.2 148.7L556.9 157.2L557.5 166.0L558.2 175.1L558.9 184.2L559.5 193.5L560.2 202.9L560.9 212.3L561.6 221.7L562.2 231.0L562.9 240.2L563.6 249.3L564.3 258.3L564.9 267.1L565.6 275.8L566.3 284.2L566.9 292.4L567.6 300.4L568.3 308.1L569.0 315.6L569.6 322.8L570.3 329.8L571.0 336.5L571.6 343.0L572.3 349.1L573.0 355.1L573.7 360.7L574.3 366.2L575.0 371.3L575.7 376.3L576.3 381.0L577.0 385.4L577.7 389.7L578.4 393.7L579.0 397.6L579.7 401.2L580.4 404.7L581.1 407.9L581.7 411.0L582.4 413.9L583.1 416.7L583.7 419.3L584.4 421.8L585.1 424.1L585.8 426.3L586.4 428.4L587.1 430.4L587.8 432.2L588.4 433.9L589.1 435.6L589.8 437.1L590.5 438.6L591.1 439.9L591.8 441.2L592.5 442.4L593.1 443.6L593.8 444.6L594.5 445.6L595.2 446.6L595.8 447.5L596.5 448.3L597.2 449.1L597.9 449.8L598.5 450.5L599.2 451.2L599.9 451.8L600.5 452.4L601.2 452.9L601.9 453.4L602.6 453.9L603.2 454.3L603.9 454.8L604.6 455.1L605.2 455.5L605.9 455.9L606.6 456.2L607.3 456.5L607.9 456.8L608.6 457.0L609.3 457.3L609.9 457.5L610.6 457.8L611.3 458.0L612.0 458.2L612.6 458.3L613.3 458.5L614.0 458.7L614.7 458.8L615.3 459.0L616.0 459.1L616.7 459.2L617.3 459.3L618.0 459.5L618.7 459.6L619.4 459.6L620.0 459.7L620.7 459.8L621.4 459.9L622.0 460.0L622.7 460.0L623.4 460.1L624.1 460.2L624.7 460.2L625.4 460.3L626.1 460.3L626.7 460.4L627.4 460.4L628.1 460.5L628.8 460.5L629.4 460.5L630.1 460.6L630.8 460.6L631.5 460.6L632.1 460.7L632.8 460.7L633.5 460.7L634.1 460.7L634.8 460.8L635.5 460.8L636.2 460.8L636.8 460.8L637.5 460.8L638.2 460.9L638.8 460.9L639.5 460.9L640.2 460.9L640.9 460.9L641.5 460.9L642.2 460.9L642.9 460.9L643.5 461.0L644.2 461.0L644.9 461.0L645.6 461.0L646.2 461.0L646.9 461.0L647.6 461.0L648.3 461.0L648.9 461.0L649.6 461.0L650.3 461.0L650.9 461.0L651.6 461.0L652.3 461.0L653.0 461.0L653.6 461.0L654.3 461.0L655.0 461.1L655.6 461.1L656.3 461.1L657.0 461.1L657.7 461.1L658.3 461.1L659.0 461.1L659.7 461.1L660.3 461.1L661.0 461.1L661.7 461.1L662.4 461.1L663.0 461.1L663.7 461.1L664.4 461.1L665.1 461.1L665.7 461.1L666.4 461.1L667.1 461.1L667.7 461.1L668.4 461.1L669.1 461.1L669.8 461.1L670.4 461.1L671.1 461.1" fill="none" stroke="#000" stroke-width="2.2" stroke-dasharray="6.80 6.80"/>
<path d="M402.3 461.1L403.0 461.1L403.6 461.1L404.3 461.1L405.0 461.1L405.7 461.1L406.3 461.1L407.0 461.1L407.7 461.1L408.3 461.1L409.0 461.1L409.7 461.1L410.4 461.1L411.0 461.1L411.7 461.1L412.4 461.1L413.1 461.1L413.7 461.1L414.4 461.1L415.1 461.1L415.7 461.1L416.4 461.1L417.1 461.1L417.8 461.1L418.4 461.1L419.1 461.1L419.8 461.1L420.4 461.1L421.1 461.1L421.8 461.1L422.5 461.1L423.1 461.1L423.8 461.1L424.5 461.1L425.1 461.1L425.8 461.1L426.5 461.1L427.2 461.1L427.8 461.1L428.5 461.1L429.2 461.1L429.9 461.1L430.5 461.1L431.2 461.1L431.9 461.1L432.5 461.1L433.2 461.1L433.9 461.1L434.6 461.1L435.2 461.1L435.9 461.1L436.6 461.1L437.2 461.1L437.9 461.1L438.6 461.0L439.3 461.0L439.9 461.0L440.6 461.0L441.3 461.0L441.9 461.0L442.6 461.0L443.3 461.0L444.0 461.0L444.6 461.0L445.3 461.0L446.0 461.0L446.7 461.0L447.3 461.0L448.0 461.0L448.7 461.0L449.3 461.0L450.0 461.0L450.7 460.9L451.4 460.9L452.0 460.9L452.7 460.9L453.4 460.9L454.0 460.9L454.7 460.9L455.4 460.9L456.1 460.8L456.7 460.8L457.4 460.8L458.1 460.8L458.7 460.8L459.4 460.7L460.1 460.7L460.8 460.7L461.4 460.7L462.1 460.6L462.8 460.6L463.5 460.6L464.1 460.5L464.8 460.5L465.5 460.5L466.1 460.4L466.8 460.4L467.5 460.3L468.2 460.3L468.8 460.2L469.5 460.2L470.2 460.1L470.8 460.0L471.5 460.0L472.2 459.9L472.9 459.8L473.5 459.7L474.2 459.6L474.9 459.5L475.5 459.4L476.2 459.3L476.9 459.2L477.6 459.1L478.2 459.0L478.9 458.8L479.6 458.7L480.3 458.5L480.9 458.4L481.6 458.2L482.3 458.0L482.9 457.8L483.6 457.6L484.3 457.3L485.0 457.1L485.6 456.8L486.3 456.6L487.0 456.3L487.6 455.9L488.3 455.6L489.0 455.3L489.7 454.9L490.3 454.5L491.0 454.0L491.7 453.6L492.3 453.1L493.0 452.6L493.7 452.0L494.4 451.5L495.0 450.8L495.7 450.2L496.4 449.5L497.1 448.7L497.7 447.9L498.4 447.1L499.1 446.2L499.7 445.2L500.4 444.2L501.1 443.1L501.8 442.0L502.4 440.8L503.1 439.5L503.8 438.1L504.4 436.7L505.1 435.2L505.8 433.5L506.5 431.8L507.1 430.0L507.8 428.0L508.5 426.0L509.1 423.8L509.8 421.5L510.5 419.1L511.2 416.6L511.8 413.9L512.5 411.0L513.2 408.0L513.9 404.8L514.5 401.5L515.2 398.0L515.9 394.3L516.5 390.4L517.2 386.3L517.9 382.1L518.6 377.6L519.2 372.9L519.9 368.0L520.6 362.9L521.2 357.6L521.9 352.0L522.6 346.2L523.3 340.2L523.9 334.0L524.6 327.6L525.3 320.9L525.9 314.0L526.6 307.0L527.3 299.7L528.0 292.3L528.6 284.7L529.3 277.0L530.0 269.2L530.7 261.2L531.3 253.2L532.0 245.1L532.7 237.0L533.3 229.0L534.0 220.9L534.7 213.0L535.4 205.1L536.0 197.5L536.7 190.0L537.4 182.8L538.0 175.9L538.7 169.3L539.4 163.1L540.1 157.3L540.7 151.9L541.4 147.1L542.1 142.7L542.7 139.0L543.4 135.8L544.1 133.3L544.8 131.4L545.4 130.1L546.1 129.5L546.8 129.6L547.5 130.3L548.1 131.7L548.8 133.7L549.5 136.4L550.1 139.7L550.8 143.6L551.5 148.0L552.2 152.9L552.8 158.4L553.5 164.3L554.2 170.6L554.8 177.2L555.5 184.2L556.2 191.5L556.9 199.0L557.5 206.7L558.2 214.6L558.9 222.5L559.5 230.6L560.2 238.7L560.9 246.7L561.6 254.8L562.2 262.8L562.9 270.8L563.6 278.6L564.3 286.3L564.9 293.8L565.6 301.2L566.3 308.4L566.9 315.4L567.6 322.2L568.3 328.9L569.0 335.3L569.6 341.4L570.3 347.4L571.0 353.1L571.6 358.6L572.3 363.9L573.0 369.0L573.7 373.9L574.3 378.5L575.0 382.9L575.7 387.2L576.3 391.2L577.0 395.0L577.7 398.7L578.4 402.2L579.0 405.5L579.7 408.6L580.4 411.6L581.1 414.4L581.7 417.1L582.4 419.6L583.1 422.0L583.7 424.3L584.4 426.4L585.1 428.4L585.8 430.4L586.4 432.2L587.1 433.9L587.8 435.5L588.4 437.0L589.1 438.4L589.8 439.8L590.5 441.0L591.1 442.2L591.8 443.4L592.5 444.4L593.1 445.4L593.8 446.4L594.5 447.3L595.2 448.1L595.8 448.9L596.5 449.6L597.2 450.3L597.9 451.0L598.5 451.6L599.2 452.1L599.9 452.7L600.5 453.2L601.2 453.7L601.9 454.1L602.6 454.6L603.2 455.0L603.9 455.3L604.6 455.7L605.2 456.0L605.9 456.3L606.6 456.6L607.3 456.9L607.9 457.1L608.6 457.4L609.3 457.6L609.9 457.8L610.6 458.0L611.3 458.2L612.0 458.4L612.6 458.6L613.3 458.7L614.0 458.9L614.7 459.0L615.3 459.1L616.0 459.2L616.7 459.4L617.3 459.5L618.0 459.6L618.7 459.7L619.4 459.7L620.0 459.8L620.7 459.9L621.4 460.0L622.0 460.1L622.7 460.1L623.4 460.2L624.1 460.2L624.7 460.3L625.4 460.3L626.1 460.4L626.7 460.4L627.4 460.5L628.1 460.5L628.8 460.5L629.4 460.6L630.1 460.6L630.8 460.6L631.5 460.7L632.1 460.7L632.8 460.7L633.5 460.7L634.1 460.8L634.8 460.8L635.5 460.8L636.2 460.8L636.8 460.8L637.5 460.9L638.2 460.9L638.8 460.9L639.5 460.9L640.2 460.9L640.9 460.9L641.5 460.9L642.2 460.9L642.9 461.0L643.5 461.0L644.2 461.0L644.9 461.0L645.6 461.0L646.2 461.0L646.9 461.0L647.6 461.0L648.3 461.0L648.9 461.0L649.6 461.0L650.3 461.0L650.9 461.0L651.6 461.0L652.3 461.0L653.0 461.0L653.6 461.0L654.3 461.0L655.0 461.1L655.6 461.1L656.3 461.1L657.0 461.1L657.7 461.1L658.3 461.1L659.0 461.1L659.7 461.1L660.3 461.1L661.0 461.1L661.7 461.1L662.4 461.1L663.0 461.1L663.7 461.1L664.4 461.1L665.1 461.1L665.7 461.1L666.4 461.1L667.1 461.1L667.7 461.1L668.4 461.1L669.1 461.1L669.8 461.1L670.4 461.1L671.1 461.1" fill="none" stroke="#000" stroke-width="2.2" stroke-dasharray="6.80 6.80"/>
<path d="M402.3 461.1L403.0 461.1L403.6 461.1L404.3 461.1L405.0 461.1L405.7 461.1L406.3 461.1L407.0 461.1L407.7 461.1L408.3 461.1L409.0 461.1L409.7 461.1L410.4 461.1L411.0 461.1L411.7 461.1L412.4 461.1L413.1 461.1L413.7 461.1L414.4 461.1L415.1 461.1L415.7 461.1L416.4 461.1L417.1 461.1L417.8 461.1L418.4 461.1L419.1 461.1L419.8 461.1L420.4 461.1L421.1 461.1L421.8 461.1L422.5 461.1L423.1 461.1L423.8 461.1L424.5 461.1L425.1 461.1L425.8 461.1L426.5 461.1L427.2 461.1L427.8 461.1L428.5 461.1L429.2 461.1L429.9 461.1L430.5 461.1L431.2 461.1L431.9 461.1L432.5 461.1L433.2 461.1L433.9 461.1L434.6 461.1L435.2 461.1L435.9 461.1L436.6 461.1L437.2 461.1L437.9 461.1L438.6 461.1L439.3 461.1L439.9 461.0L440.6 461.0L441.3 461.0L441.9 461.0L442.6 461.0L443.3 461.0L444.0 461.0L444.6 461.0L445.3 461.0L446.0 461.0L446.7 461.0L447.3 461.0L448.0 461.0L448.7 461.0L449.3 461.0L450.0 461.0L450.7 461.0L451.4 460.9L452.0 460.9L452.7 460.9L453.4 460.9L454.0 460.9L454.7 460.9L455.4 460.9L456.1 460.9L456.7 460.8L457.4 460.8L458.1 460.8L458.7 460.8L459.4 460.8L460.1 460.8L460.8 460.7L461.4 460.7L462.1 460.7L462.8 460.7L463.5 460.6L464.1 460.6L464.8 460.6L465.5 460.5L466.1 460.5L466.8 460.5L467.5 460.4L468.2 460.4L468.8 460.3L469.5 460.3L470.2 460.2L470.8 460.2L471.5 460.1L472.2 460.0L472.9 460.0L473.5 459.9L474.2 459.8L474.9 459.7L475.5 459.6L476.2 459.5L476.9 459.4L477.6 459.3L478.2 459.2L478.9 459.1L479.6 459.0L480.3 458.8L480.9 458.7L481.6 458.5L482.3 458.4L482.9 458.2L483.6 458.0L484.3 457.8L485.0 457.6L485.6 457.3L486.3 457.1L487.0 456.8L487.6 456.6L488.3 456.3L489.0 456.0L489.7 455.6L490.3 455.3L491.0 454.9L491.7 454.5L492.3 454.1L493.0 453.6L493.7 453.2L494.4 452.6L495.0 452.1L495.7 451.5L496.4 450.9L497.1 450.3L497.7 449.6L498.4 448.8L499.1 448.1L499.7 447.2L500.4 446.4L501.1 445.4L501.8 444.4L502.4 443.4L503.1 442.3L503.8 441.1L504.4 439.8L505.1 438.5L505.8 437.1L506.5 435.6L507.1 434.0L507.8 432.3L508.5 430.5L509.1 428.7L509.8 426.7L510.5 424.6L511.2 422.4L511.8 420.0L512.5 417.5L513.2 414.9L513.9 412.2L514.5 409.3L515.2 406.2L515.9 403.0L516.5 399.6L517.2 396.1L517.9 392.4L518.6 388.5L519.2 384.4L519.9 380.1L520.6 375.6L521.2 370.9L521.9 366.0L522.6 361.0L523.3 355.7L523.9 350.2L524.6 344.5L525.3 338.6L525.9 332.5L526.6 326.2L527.3 319.7L528.0 313.1L528.6 306.3L529.3 299.3L530.0 292.2L530.7 285.0L531.3 277.7L532.0 270.3L532.7 262.8L533.3 255.3L534.0 247.8L534.7 240.3L535.4 232.9L536.0 225.6L536.7 218.5L537.4 211.4L538.0 204.6L538.7 198.1L539.4 191.8L540.1 185.9L540.7 180.3L541.4 175.1L542.1 170.4L542.7 166.1L543.4 162.3L544.1 159.1L544.8 156.4L545.4 154.3L546.1 152.8L546.8 151.9L547.5 151.6L548.1 151.9L548.8 152.8L549.5 154.3L550.1 156.4L550.8 159.1L551.5 162.3L552.2 166.1L552.8 170.4L553.5 175.1L554.2 180.3L554.8 185.9L555.5 191.8L556.2 198.1L556.9 204.6L557.5 211.4L558.2 218.5L558.9 225.6L559.5 232.9L560.2 240.3L560.9 247.8L561.6 255.3L562.2 262.8L562.9 270.3L563.6 277.7L564.3 285.0L564.9 292.2L565.6 299.3L566.3 306.3L566.9 313.1L567.6 319.7L568.3 326.2L569.0 332.5L569.6 338.6L570.3 344.5L571.0 350.2L571.6 355.7L572.3 361.0L573.0 366.0L573.7 370.9L574.3 375.6L575.0 380.1L575.7 384.4L576.3 388.5L577.0 392.4L577.7 396.1L578.4 399.6L579.0 403.0L579.7 406.2L580.4 409.3L581.1 412.2L581.7 414.9L582.4 417.5L583.1 420.0L583.7 422.4L584.4 424.6L585.1 426.7L585.8 428.7L586.4 430.5L587.1 432.3L587.8 434.0L588.4 435.6L589.1 437.1L589.8 438.5L590.5 439.8L591.1 441.1L591.8 442.3L592.5 443.4L593.1 444.4L593.8 445.4L594.5 446.4L595.2 447.2L595.8 448.1L596.5 448.8L597.2 449.6L597.9 450.3L598.5 450.9L599.2 451.5L599.9 452.1L600.5 452.6L601.2 453.2L601.9 453.6L602.6 454.1L603.2 454.5L603.9 454.9L604.6 455.3L605.2 455.6L605.9 456.0L606.6 456.3L607.3 456.6L607.9 456.8L608.6 457.1L609.3 457.3L609.9 457.6L610.6 457.8L611.3 458.0L612.0 458.2L612.6 458.4L613.3 458.5L614.0 458.7L614.7 458.8L615.3 459.0L616.0 459.1L616.7 459.2L617.3 459.3L618.0 459.4L618.7 459.5L619.4 459.6L620.0 459.7L620.7 459.8L621.4 459.9L622.0 460.0L622.7 460.0L623.4 460.1L624.1 460.2L624.7 460.2L625.4 460.3L626.1 460.3L626.7 460.4L627.4 460.4L628.1 460.5L628.8 460.5L629.4 460.5L630.1 460.6L630.8 460.6L631.5 460.6L632.1 460.7L632.8 460.7L633.5 460.7L634.1 460.7L634.8 460.8L635.5 460.8L636.2 460.8L636.8 460.8L637.5 460.8L638.2 460.8L638.8 460.9L639.5 460.9L640.2 460.9L640.9 460.9L641.5 460.9L642.2 460.9L642.9 460.9L643.5 460.9L644.2 461.0L644.9 461.0L645.6 461.0L646.2 461.0L646.9 461.0L647.6 461.0L648.3 461.0L648.9 461.0L649.6 461.0L650.3 461.0L650.9 461.0L651.6 461.0L652.3 461.0L653.0 461.0L653.6 461.0L654.3 461.0L655.0 461.0L655.6 461.1L656.3 461.1L657.0 461.1L657.7 461.1L658.3 461.1L659.0 461.1L659.7 461.1L660.3 461.1L661.0 461.1L661.7 461.1L662.4 461.1L663.0 461.1L663.7 461.1L664.4 461.1L665.1 461.1L665.7 461.1L666.4 461.1L667.1 461.1L667.7 461.1L668.4 461.1L669.1 461.1L669.8 461.1L670.4 461.1L671.1 461.1" fill="none" stroke="#000" stroke-width="2.2" stroke-dasharray="6.80 6.80"/>
<path d="M402.3 461.1L403.0 461.1L403.6 461.1L404.3 461.1L405.0 461.1L405.7 461.1L406.3 461.1L407.0 461.1L407.7 461.1L408.3 461.1L409.0 461.1L409.7 461.1L410.4 461.1L411.0 461.1L411.7 461.1L412.4 461.1L413.1 461.1L413.7 461.1L414.4 461.1L415.1 461.1L415.7 461.1L416.4 461.1L417.1 461.1L417.8 461.1L418.4 461.1L419.1 461.1L419.8 461.1L420.4 461.1L421.1 461.1L421.8 461.1L422.5 461.1L423.1 461.1L423.8 461.1L424.5 461.1L425.1 461.1L425.8 461.1L426.5 461.1L427.2 461.1L427.8 461.1L428.5 461.1L429.2 461.1L429.9 461.1L430.5 461.1L431.2 461.1L431.9 461.1L432.5 461.1L433.2 461.1L433.9 461.1L434.6 461.1L435.2 461.1L435.9 461.1L436.6 461.1L437.2 461.1L437.9 461.0L438.6 461.0L439.3 461.0L439.9 461.0L440.6 461.0L441.3 461.0L441.9 461.0L442.6 461.0L443.3 461.0L444.0 461.0L444.6 461.0L445.3 461.0L446.0 461.0L446.7 461.0L447.3 461.0L448.0 461.0L448.7 461.0L449.3 460.9L450.0 460.9L450.7 460.9L451.4 460.9L452.0 460.9L452.7 460.9L453.4 460.9L454.0 460.9L454.7 460.8L455.4 460.8L456.1 460.8L456.7 460.8L457.4 460.8L458.1 460.8L458.7 460.7L459.4 460.7L460.1 460.7L460.8 460.7L461.4 460.6L462.1 460.6L462.8 460.6L463.5 460.5L464.1 460.5L464.8 460.4L465.5 460.4L466.1 460.4L466.8 460.3L467.5 460.3L468.2 460.2L468.8 460.2L469.5 460.1L470.2 460.0L470.8 460.0L471.5 459.9L472.2 459.8L472.9 459.7L473.5 459.6L474.2 459.5L474.9 459.4L475.5 459.3L476.2 459.2L476.9 459.1L477.6 459.0L478.2 458.8L478.9 458.7L479.6 458.5L480.3 458.4L480.9 458.2L481.6 458.0L482.3 457.8L482.9 457.6L483.6 457.4L484.3 457.1L485.0 456.9L485.6 456.6L486.3 456.3L487.0 456.0L487.6 455.7L488.3 455.3L489.0 454.9L489.7 454.5L490.3 454.1L491.0 453.7L491.7 453.2L492.3 452.7L493.0 452.2L493.7 451.6L494.4 451.0L495.0 450.4L495.7 449.7L496.4 448.9L497.1 448.2L497.7 447.4L498.4 446.5L499.1 445.6L499.7 444.6L500.4 443.6L501.1 442.5L501.8 441.3L502.4 440.1L503.1 438.8L503.8 437.4L504.4 435.9L505.1 434.3L505.8 432.7L506.5 430.9L507.1 429.1L507.8 427.2L508.5 425.1L509.1 422.9L509.8 420.6L510.5 418.2L511.2 415.7L511.8 413.0L512.5 410.1L513.2 407.1L513.9 404.0L514.5 400.7L515.2 397.2L515.9 393.6L516.5 389.8L517.2 385.8L517.9 381.6L518.6 377.3L519.2 372.7L519.9 368.0L520.6 363.1L521.2 357.9L521.9 352.6L522.6 347.1L523.3 341.4L523.9 335.5L524.6 329.4L525.3 323.1L525.9 316.7L526.6 310.2L527.3 303.5L528.0 296.6L528.6 289.7L529.3 282.6L530.0 275.5L530.7 268.4L531.3 261.2L532.0 254.0L532.7 246.9L533.3 239.8L534.0 232.8L534.7 226.0L535.4 219.3L536.0 212.9L536.7 206.7L537.4 200.7L538.0 195.1L538.7 189.9L539.4 185.0L540.1 180.6L540.7 176.6L541.4 173.1L542.1 170.1L542.7 167.6L543.4 165.7L544.1 164.4L544.8 163.6L545.4 163.5L546.1 163.9L546.8 164.9L547.5 166.4L548.1 168.6L548.8 171.2L549.5 174.4L550.1 178.1L550.8 182.3L551.5 186.9L552.2 191.9L552.8 197.3L553.5 203.1L554.2 209.1L554.8 215.4L555.5 222.0L556.2 228.7L556.9 235.6L557.5 242.6L558.2 249.7L558.9 256.9L559.5 264.0L560.2 271.2L560.9 278.4L561.6 285.4L562.2 292.5L562.9 299.4L563.6 306.2L564.3 312.8L564.9 319.3L565.6 325.7L566.3 331.8L566.9 337.9L567.6 343.7L568.3 349.3L569.0 354.7L569.6 360.0L570.3 365.0L571.0 369.9L571.6 374.6L572.3 379.0L573.0 383.3L573.7 387.4L574.3 391.3L575.0 395.1L575.7 398.6L576.3 402.0L577.0 405.3L577.7 408.4L578.4 411.3L579.0 414.1L579.7 416.7L580.4 419.2L581.1 421.6L581.7 423.8L582.4 425.9L583.1 428.0L583.7 429.9L584.4 431.7L585.1 433.4L585.8 435.0L586.4 436.5L587.1 437.9L587.8 439.3L588.4 440.6L589.1 441.8L589.8 442.9L590.5 444.0L591.1 445.0L591.8 445.9L592.5 446.8L593.1 447.7L593.8 448.5L594.5 449.2L595.2 449.9L595.8 450.6L596.5 451.2L597.2 451.8L597.9 452.4L598.5 452.9L599.2 453.4L599.9 453.9L600.5 454.3L601.2 454.7L601.9 455.1L602.6 455.4L603.2 455.8L603.9 456.1L604.6 456.4L605.2 456.7L605.9 457.0L606.6 457.2L607.3 457.4L607.9 457.7L608.6 457.9L609.3 458.1L609.9 458.3L610.6 458.4L611.3 458.6L612.0 458.7L612.6 458.9L613.3 459.0L614.0 459.1L614.7 459.3L615.3 459.4L616.0 459.5L616.7 459.6L617.3 459.7L618.0 459.8L618.7 459.8L619.4 459.9L620.0 460.0L620.7 460.1L621.4 460.1L622.0 460.2L622.7 460.2L623.4 460.3L624.1 460.3L624.7 460.4L625.4 460.4L626.1 460.5L626.7 460.5L627.4 460.5L628.1 460.6L628.8 460.6L629.4 460.6L630.1 460.7L630.8 460.7L631.5 460.7L632.1 460.7L632.8 460.8L633.5 460.8L634.1 460.8L634.8 460.8L635.5 460.8L636.2 460.9L636.8 460.9L637.5 460.9L638.2 460.9L638.8 460.9L639.5 460.9L640.2 460.9L640.9 460.9L641.5 460.9L642.2 461.0L642.9 461.0L643.5 461.0L644.2 461.0L644.9 461.0L645.6 461.0L646.2 461.0L646.9 461.0L647.6 461.0L648.3 461.0L648.9 461.0L649.6 461.0L650.3 461.0L650.9 461.0L651.6 461.0L652.3 461.0L653.0 461.0L653.6 461.1L654.3 461.1L655.0 461.1L655.6 461.1L656.3 461.1L657.0 461.1L657.7 461.1L658.3 461.1L659.0 461.1L659.7 461.1L660.3 461.1L661.0 461.1L661.7 461.1L662.4 461.1L663.0 461.1L663.7 461.1L664.4 461.1L665.1 461.1L665.7 461.1L666.4 461.1L667.1 461.1L667.7 461.1L668.4 461.1L669.1 461.1L669.8 461.1L670.4 461.1L671.1 461.1" fill="none" stroke="#000" stroke-width="2.2" stroke-dasharray="6.80 6.80"/>
<path d="M402.3 461.1L403.0 461.1L403.6 461.1L404.3 461.1L405.0 461.1L405.7 461.1L406.3 461.1L407.0 461.1L407.7 461.1L408.3 461.1L409.0 461.1L409.7 461.1L410.4 461.1L411.0 461.1L411.7 461.1L412.4 461.1L413.1 461.1L413.7 461.1L414.4 461.1L415.1 461.1L415.7 461.1L416.4 461.1L417.1 461.1L417.8 461.1L418.4 461.1L419.1 461.1L419.8 461.1L420.4 461.1L421.1 461.1L421.8 461.1L422.5 461.1L423.1 461.1L423.8 461.1L424.5 461.1L425.1 461.1L425.8 461.1L426.5 461.1L427.2 461.1L427.8 461.1L428.5 461.1L429.2 461.1L429.9 461.1L430.5 461.1L431.2 461.1L431.9 461.1L432.5 461.1L433.2 461.1L433.9 461.1L434.6 461.1L435.2 461.1L435.9 461.1L436.6 461.1L437.2 461.1L437.9 461.1L438.6 461.1L439.3 461.1L439.9 461.1L440.6 461.0L441.3 461.0L441.9 461.0L442.6 461.0L443.3 461.0L444.0 461.0L444.6 461.0L445.3 461.0L446.0 461.0L446.7 461.0L447.3 461.0L448.0 461.0L448.7 461.0L449.3 461.0L450.0 461.0L450.7 461.0L451.4 461.0L452.0 460.9L452.7 460.9L453.4 460.9L454.0 460.9L454.7 460.9L455.4 460.9L456.1 460.9L456.7 460.9L457.4 460.8L458.1 460.8L458.7 460.8L459.4 460.8L460.1 460.8L460.8 460.8L461.4 460.7L462.1 460.7L462.8 460.7L463.5 460.7L464.1 460.6L464.8 460.6L465.5 460.6L466.1 460.5L466.8 460.5L467.5 460.5L468.2 460.4L468.8 460.4L469.5 460.3L470.2 460.3L470.8 460.2L471.5 460.2L472.2 460.1L472.9 460.0L473.5 460.0L474.2 459.9L474.9 459.8L475.5 459.7L476.2 459.7L476.9 459.6L477.6 459.5L478.2 459.4L478.9 459.2L479.6 459.1L480.3 459.0L480.9 458.9L481.6 458.7L482.3 458.6L482.9 458.4L483.6 458.2L484.3 458.0L485.0 457.9L485.6 457.6L486.3 457.4L487.0 457.2L487.6 456.9L488.3 456.7L489.0 456.4L489.7 456.1L490.3 455.8L491.0 455.4L491.7 455.1L492.3 454.7L493.0 454.3L493.7 453.8L494.4 453.4L495.0 452.9L495.7 452.4L496.4 451.8L497.1 451.2L497.7 450.6L498.4 449.9L499.1 449.2L499.7 448.5L500.4 447.7L501.1 446.9L501.8 446.0L502.4 445.0L503.1 444.0L503.8 442.9L504.4 441.8L505.1 440.6L505.8 439.4L506.5 438.0L507.1 436.6L507.8 435.1L508.5 433.5L509.1 431.8L509.8 430.0L510.5 428.1L511.2 426.2L511.8 424.1L512.5 421.8L513.2 419.5L513.9 417.0L514.5 414.5L515.2 411.7L515.9 408.8L516.5 405.8L517.2 402.6L517.9 399.3L518.6 395.8L519.2 392.2L519.9 388.3L520.6 384.3L521.2 380.1L521.9 375.8L522.6 371.2L523.3 366.5L523.9 361.6L524.6 356.5L525.3 351.2L525.9 345.7L526.6 340.1L527.3 334.3L528.0 328.3L528.6 322.1L529.3 315.9L530.0 309.5L530.7 302.9L531.3 296.3L532.0 289.6L532.7 282.8L533.3 276.0L534.0 269.1L534.7 262.3L535.4 255.5L536.0 248.8L536.7 242.1L537.4 235.6L538.0 229.3L538.7 223.1L539.4 217.2L540.1 211.6L540.7 206.3L541.4 201.3L542.1 196.7L542.7 192.5L543.4 188.7L544.1 185.3L544.8 182.5L545.4 180.2L546.1 178.4L546.8 177.1L547.5 176.4L548.1 176.2L548.8 176.6L549.5 177.6L550.1 179.0L550.8 181.1L551.5 183.6L552.2 186.6L552.8 190.1L553.5 194.1L554.2 198.5L554.8 203.2L555.5 208.4L556.2 213.8L556.9 219.6L557.5 225.6L558.2 231.8L558.9 238.2L559.5 244.8L560.2 251.4L560.9 258.2L561.6 265.0L562.2 271.9L562.9 278.7L563.6 285.5L564.3 292.3L564.9 299.0L565.6 305.6L566.3 312.0L566.9 318.4L567.6 324.6L568.3 330.7L569.0 336.6L569.6 342.3L570.3 347.9L571.0 353.3L571.6 358.5L572.3 363.6L573.0 368.4L573.7 373.1L574.3 377.5L575.0 381.8L575.7 385.9L576.3 389.9L577.0 393.6L577.7 397.2L578.4 400.7L579.0 403.9L579.7 407.0L580.4 410.0L581.1 412.8L581.7 415.5L582.4 418.0L583.1 420.5L583.7 422.7L584.4 424.9L585.1 427.0L585.8 428.9L586.4 430.8L587.1 432.5L587.8 434.1L588.4 435.7L589.1 437.2L589.8 438.6L590.5 439.9L591.1 441.1L591.8 442.3L592.5 443.4L593.1 444.4L593.8 445.4L594.5 446.3L595.2 447.2L595.8 448.0L596.5 448.8L597.2 449.5L597.9 450.2L598.5 450.9L599.2 451.5L599.9 452.0L600.5 452.6L601.2 453.1L601.9 453.6L602.6 454.0L603.2 454.4L603.9 454.8L604.6 455.2L605.2 455.6L605.9 455.9L606.6 456.2L607.3 456.5L607.9 456.8L608.6 457.0L609.3 457.3L609.9 457.5L610.6 457.7L611.3 457.9L612.0 458.1L612.6 458.3L613.3 458.5L614.0 458.6L614.7 458.8L615.3 458.9L616.0 459.0L616.7 459.2L617.3 459.3L618.0 459.4L618.7 459.5L619.4 459.6L620.0 459.7L620.7 459.8L621.4 459.9L622.0 459.9L622.7 460.0L623.4 460.1L624.1 460.1L624.7 460.2L625.4 460.2L626.1 460.3L626.7 460.3L627.4 460.4L628.1 460.4L628.8 460.5L629.4 460.5L630.1 460.5L630.8 460.6L631.5 460.6L632.1 460.6L632.8 460.7L633.5 460.7L634.1 460.7L634.8 460.7L635.5 460.8L636.2 460.8L636.8 460.8L637.5 460.8L638.2 460.8L638.8 460.9L639.5 460.9L640.2 460.9L640.9 460.9L641.5 460.9L642.2 460.9L642.9 460.9L643.5 460.9L644.2 461.0L644.9 461.0L645.6 461.0L646.2 461.0L646.9 461.0L647.6 461.0L648.3 461.0L648.9 461.0L649.6 461.0L650.3 461.0L650.9 461.0L651.6 461.0L652.3 461.0L653.0 461.0L653.6 461.0L654.3 461.0L655.0 461.0L655.6 461.0L656.3 461.1L657.0 461.1L657.7 461.1L658.3 461.1L659.0 461.1L659.7 461.1L660.3 461.1L661.0 461.1L661.7 461.1L662.4 461.1L663.0 461.1L663.7 461.1L664.4 461.1L665.1 461.1L665.7 461.1L666.4 461.1L667.1 461.1L667.7 461.1L668.4 461.1L669.1 461.1L669.8 461.1L670.4 461.1L671.1 461.1" fill="none" stroke="#000" stroke-width="2.2" stroke-dasharray="6.80 6.80"/>
<path d="M402.3 461.1L403.0 461.1L403.6 461.1L404.3 461.1L405.0 461.1L405.7 461.1L406.3 461.1L407.0 461.1L407.7 461.1L408.3 461.1L409.0 461.1L409.7 461.1L410.4 461.1L411.0 461.1L411.7 461.1L412.4 461.1L413.1 461.1L413.7 461.1L414.4 461.1L415.1 461.1L415.7 461.1L416.4 461.1L417.1 461.1L417.8 461.1L418.4 461.1L419.1 461.1L419.8 461.1L420.4 461.1L421.1 461.1L421.8 461.1L422.5 461.1L423.1 461.1L423.8 461.1L424.5 461.1L425.1 461.1L425.8 461.1L426.5 461.1L427.2 461.1L427.8 461.1L428.5 461.1L429.2 461.1L429.9 461.1L430.5 461.1L431.2 461.1L431.9 461.1L432.5 461.1L433.2 461.1L433.9 461.1L434.6 461.1L435.2 461.1L435.9 461.1L436.6 461.1L437.2 461.1L437.9 461.1L438.6 461.1L439.3 461.1L439.9 461.1L440.6 461.1L441.3 461.1L441.9 461.1L442.6 461.0L443.3 461.0L444.0 461.0L444.6 461.0L445.3 461.0L446.0 461.0L446.7 461.0L447.3 461.0L448.0 461.0L448.7 461.0L449.3 461.0L450.0 461.0L450.7 461.0L451.4 461.0L452.0 461.0L452.7 461.0L453.4 461.0L454.0 460.9L454.7 460.9L455.4 460.9L456.1 460.9L456.7 460.9L457.4 460.9L458.1 460.9L458.7 460.9L459.4 460.9L460.1 460.8L460.8 460.8L461.4 460.8L462.1 460.8L462.8 460.8L463.5 460.7L464.1 460.7L464.8 460.7L465.5 460.7L466.1 460.6L466.8 460.6L467.5 460.6L468.2 460.5L468.8 460.5L469.5 460.5L470.2 460.4L470.8 460.4L471.5 460.3L472.2 460.3L472.9 460.2L473.5 460.2L474.2 460.1L474.9 460.1L475.5 460.0L476.2 459.9L476.9 459.9L477.6 459.8L478.2 459.7L478.9 459.6L479.6 459.5L480.3 459.4L480.9 459.3L481.6 459.2L482.3 459.1L482.9 458.9L483.6 458.8L484.3 458.7L485.0 458.5L485.6 458.3L486.3 458.2L487.0 458.0L487.6 457.8L488.3 457.6L489.0 457.3L489.7 457.1L490.3 456.8L491.0 456.6L491.7 456.3L492.3 456.0L493.0 455.6L493.7 455.3L494.4 454.9L495.0 454.5L495.7 454.1L496.4 453.7L497.1 453.2L497.7 452.7L498.4 452.2L499.1 451.6L499.7 451.0L500.4 450.4L501.1 449.7L501.8 449.0L502.4 448.3L503.1 447.5L503.8 446.6L504.4 445.7L505.1 444.8L505.8 443.7L506.5 442.7L507.1 441.5L507.8 440.3L508.5 439.1L509.1 437.7L509.8 436.3L510.5 434.8L511.2 433.2L511.8 431.5L512.5 429.7L513.2 427.8L513.9 425.8L514.5 423.7L515.2 421.5L515.9 419.2L516.5 416.7L517.2 414.1L517.9 411.4L518.6 408.5L519.2 405.5L519.9 402.4L520.6 399.1L521.2 395.6L521.9 392.0L522.6 388.2L523.3 384.3L523.9 380.1L524.6 375.8L525.3 371.4L525.9 366.7L526.6 361.9L527.3 356.9L528.0 351.8L528.6 346.4L529.3 341.0L530.0 335.3L530.7 329.5L531.3 323.6L532.0 317.6L532.7 311.4L533.3 305.2L534.0 298.8L534.7 292.4L535.4 286.0L536.0 279.5L536.7 273.0L537.4 266.6L538.0 260.3L538.7 254.0L539.4 247.8L540.1 241.8L540.7 236.0L541.4 230.4L542.1 225.0L542.7 219.9L543.4 215.2L544.1 210.7L544.8 206.7L545.4 203.1L546.1 199.8L546.8 197.1L547.5 194.8L548.1 193.0L548.8 191.7L549.5 190.9L550.1 190.7L550.8 190.9L551.5 191.7L552.2 193.0L552.8 194.8L553.5 197.1L554.2 199.8L554.8 203.1L555.5 206.7L556.2 210.7L556.9 215.2L557.5 219.9L558.2 225.0L558.9 230.4L559.5 236.0L560.2 241.8L560.9 247.8L561.6 254.0L562.2 260.3L562.9 266.6L563.6 273.0L564.3 279.5L564.9 286.0L565.6 292.4L566.3 298.8L566.9 305.2L567.6 311.4L568.3 317.6L569.0 323.6L569.6 329.5L570.3 335.3L571.0 341.0L571.6 346.4L572.3 351.8L573.0 356.9L573.7 361.9L574.3 366.7L575.0 371.4L575.7 375.8L576.3 380.1L577.0 384.3L577.7 388.2L578.4 392.0L579.0 395.6L579.7 399.1L580.4 402.4L581.1 405.5L581.7 408.5L582.4 411.4L583.1 414.1L583.7 416.7L584.4 419.2L585.1 421.5L585.8 423.7L586.4 425.8L587.1 427.8L587.8 429.7L588.4 431.5L589.1 433.2L589.8 434.8L590.5 436.3L591.1 437.7L591.8 439.1L592.5 440.3L593.1 441.5L593.8 442.7L594.5 443.7L595.2 444.8L595.8 445.7L596.5 446.6L597.2 447.5L597.9 448.3L598.5 449.0L599.2 449.7L599.9 450.4L600.5 451.0L601.2 451.6L601.9 452.2L602.6 452.7L603.2 453.2L603.9 453.7L604.6 454.1L605.2 454.5L605.9 454.9L606.6 455.3L607.3 455.6L607.9 456.0L608.6 456.3L609.3 456.6L609.9 456.8L610.6 457.1L611.3 457.3L612.0 457.6L612.6 457.8L613.3 458.0L614.0 458.2L614.7 458.3L615.3 458.5L616.0 458.7L616.7 458.8L617.3 458.9L618.0 459.1L618.7 459.2L619.4 459.3L620.0 459.4L620.7 459.5L621.4 459.6L622.0 459.7L622.7 459.8L623.4 459.9L624.1 459.9L624.7 460.0L625.4 460.1L626.1 460.1L626.7 460.2L627.4 460.2L628.1 460.3L628.8 460.3L629.4 460.4L630.1 460.4L630.8 460.5L631.5 460.5L632.1 460.5L632.8 460.6L633.5 460.6L634.1 460.6L634.8 460.7L635.5 460.7L636.2 460.7L636.8 460.7L637.5 460.8L638.2 460.8L638.8 460.8L639.5 460.8L640.2 460.8L640.9 460.9L641.5 460.9L642.2 460.9L642.9 460.9L643.5 460.9L644.2 460.9L644.9 460.9L645.6 460.9L646.2 460.9L646.9 461.0L647.6 461.0L648.3 461.0L648.9 461.0L649.6 461.0L650.3 461.0L650.9 461.0L651.6 461.0L652.3 461.0L653.0 461.0L653.6 461.0L654.3 461.0L655.0 461.0L655.6 461.0L656.3 461.0L657.0 461.0L657.7 461.0L658.3 461.1L659.0 461.1L659.7 461.1L660.3 461.1L661.0 461.1L661.7 461.1L662.4 461.1L663.0 461.1L663.7 461.1L664.4 461.1L665.1 461.1L665.7 461.1L666.4 461.1L667.1 461.1L667.7 461.1L668.4 461.1L669.1 461.1L669.8 461.1L670.4 461.1L671.1 461.1" fill="none" stroke="#000" stroke-width="2.2" stroke-dasharray="6.80 6.80"/>
<path d="M402.3 461.1L403.0 461.1L403.6 461.1L404.3 461.1L405.0 461.1L405.7 461.1L406.3 461.1L407.0 461.1L407.7 461.1L408.3 461.1L409.0 461.1L409.7 461.1L410.4 461.1L411.0 461.1L411.7 461.1L412.4 461.1L413.1 461.1L413.7 461.1L414.4 461.1L415.1 461.1L415.7 461.1L416.4 461.1L417.1 461.1L417.8 461.1L418.4 461.1L419.1 461.1L419.8 461.1L420.4 461.1L421.1 461.1L421.8 461.1L422.5 461.1L423.1 461.1L423.8 461.1L424.5 461.1L425.1 461.1L425.8 461.1L426.5 461.1L427.2 461.1L427.8 461.1L428.5 461.1L429.2 461.1L429.9 461.1L430.5 461.1L431.2 461.1L431.9 461.1L432.5 461.1L433.2 461.1L433.9 461.1L434.6 461.1L435.2 461.1L435.9 461.1L436.6 461.1L437.2 461.1L437.9 461.1L438.6 461.0L439.3 461.0L439.9 461.0L440.6 461.0L441.3 461.0L441.9 461.0L442.6 461.0L443.3 461.0L444.0 461.0L444.6 461.0L445.3 461.0L446.0 461.0L446.7 461.0L447.3 461.0L448.0 461.0L448.7 461.0L449.3 461.0L450.0 461.0L450.7 460.9L451.4 460.9L452.0 460.9L452.7 460.9L453.4 460.9L454.0 460.9L454.7 460.9L455.4 460.9L456.1 460.8L456.7 460.8L457.4 460.8L458.1 460.8L458.7 460.8L459.4 460.8L460.1 460.7L460.8 460.7L461.4 460.7L462.1 460.7L462.8 460.6L463.5 460.6L464.1 460.6L464.8 460.5L465.5 460.5L466.1 460.5L466.8 460.4L467.5 460.4L468.2 460.3L468.8 460.3L469.5 460.2L470.2 460.2L470.8 460.1L471.5 460.1L472.2 460.0L472.9 459.9L473.5 459.8L474.2 459.8L474.9 459.7L475.5 459.6L476.2 459.5L476.9 459.4L477.6 459.3L478.2 459.2L478.9 459.0L479.6 458.9L480.3 458.8L480.9 458.6L481.6 458.5L482.3 458.3L482.9 458.1L483.6 457.9L484.3 457.7L485.0 457.5L485.6 457.3L486.3 457.1L487.0 456.8L487.6 456.5L488.3 456.2L489.0 455.9L489.7 455.6L490.3 455.3L491.0 454.9L491.7 454.5L492.3 454.1L493.0 453.7L493.7 453.2L494.4 452.7L495.0 452.2L495.7 451.6L496.4 451.0L497.1 450.4L497.7 449.7L498.4 449.0L499.1 448.3L499.7 447.5L500.4 446.6L501.1 445.7L501.8 444.8L502.4 443.8L503.1 442.7L503.8 441.6L504.4 440.4L505.1 439.1L505.8 437.8L506.5 436.4L507.1 434.9L507.8 433.3L508.5 431.7L509.1 429.9L509.8 428.0L510.5 426.1L511.2 424.0L511.8 421.8L512.5 419.6L513.2 417.1L513.9 414.6L514.5 411.9L515.2 409.2L515.9 406.2L516.5 403.1L517.2 399.9L517.9 396.5L518.6 393.0L519.2 389.3L519.9 385.5L520.6 381.5L521.2 377.3L521.9 373.0L522.6 368.5L523.3 363.9L523.9 359.1L524.6 354.1L525.3 349.0L525.9 343.8L526.6 338.4L527.3 332.8L528.0 327.2L528.6 321.4L529.3 315.6L530.0 309.6L530.7 303.7L531.3 297.6L532.0 291.6L532.7 285.5L533.3 279.4L534.0 273.4L534.7 267.5L535.4 261.7L536.0 256.0L536.7 250.5L537.4 245.2L538.0 240.0L538.7 235.2L539.4 230.6L540.1 226.3L540.7 222.4L541.4 218.9L542.1 215.7L542.7 213.0L543.4 210.6L544.1 208.8L544.8 207.4L545.4 206.5L546.1 206.0L546.8 206.1L547.5 206.6L548.1 207.6L548.8 209.1L549.5 211.1L550.1 213.5L550.8 216.3L551.5 219.5L552.2 223.2L552.8 227.2L553.5 231.5L554.2 236.1L554.8 241.0L555.5 246.2L556.2 251.6L556.9 257.1L557.5 262.9L558.2 268.7L558.9 274.6L559.5 280.6L560.2 286.7L560.9 292.8L561.6 298.8L562.2 304.9L562.9 310.8L563.6 316.8L564.3 322.6L564.9 328.3L565.6 333.9L566.3 339.5L566.9 344.8L567.6 350.0L568.3 355.1L569.0 360.1L569.6 364.8L570.3 369.4L571.0 373.9L571.6 378.2L572.3 382.3L573.0 386.3L573.7 390.1L574.3 393.7L575.0 397.2L575.7 400.6L576.3 403.8L577.0 406.8L577.7 409.7L578.4 412.5L579.0 415.1L579.7 417.6L580.4 420.0L581.1 422.3L581.7 424.4L582.4 426.5L583.1 428.4L583.7 430.3L584.4 432.0L585.1 433.6L585.8 435.2L586.4 436.7L587.1 438.1L587.8 439.4L588.4 440.6L589.1 441.8L589.8 442.9L590.5 444.0L591.1 445.0L591.8 445.9L592.5 446.8L593.1 447.6L593.8 448.4L594.5 449.2L595.2 449.9L595.8 450.5L596.5 451.1L597.2 451.7L597.9 452.3L598.5 452.8L599.2 453.3L599.9 453.7L600.5 454.2L601.2 454.6L601.9 455.0L602.6 455.3L603.2 455.7L603.9 456.0L604.6 456.3L605.2 456.6L605.9 456.9L606.6 457.1L607.3 457.3L607.9 457.6L608.6 457.8L609.3 458.0L609.9 458.2L610.6 458.3L611.3 458.5L612.0 458.7L612.6 458.8L613.3 458.9L614.0 459.1L614.7 459.2L615.3 459.3L616.0 459.4L616.7 459.5L617.3 459.6L618.0 459.7L618.7 459.8L619.4 459.9L620.0 459.9L620.7 460.0L621.4 460.1L622.0 460.1L622.7 460.2L623.4 460.2L624.1 460.3L624.7 460.3L625.4 460.4L626.1 460.4L626.7 460.5L627.4 460.5L628.1 460.5L628.8 460.6L629.4 460.6L630.1 460.6L630.8 460.7L631.5 460.7L632.1 460.7L632.8 460.7L633.5 460.8L634.1 460.8L634.8 460.8L635.5 460.8L636.2 460.8L636.8 460.9L637.5 460.9L638.2 460.9L638.8 460.9L639.5 460.9L640.2 460.9L640.9 460.9L641.5 460.9L642.2 460.9L642.9 461.0L643.5 461.0L644.2 461.0L644.9 461.0L645.6 461.0L646.2 461.0L646.9 461.0L647.6 461.0L648.3 461.0L648.9 461.0L649.6 461.0L650.3 461.0L650.9 461.0L651.6 461.0L652.3 461.0L653.0 461.0L653.6 461.0L654.3 461.1L655.0 461.1L655.6 461.1L656.3 461.1L657.0 461.1L657.7 461.1L658.3 461.1L659.0 461.1L659.7 461.1L660.3 461.1L661.0 461.1L661.7 461.1L662.4 461.1L663.0 461.1L663.7 461.1L664.4 461.1L665.1 461.1L665.7 461.1L666.4 461.1L667.1 461.1L667.7 461.1L668.4 461.1L669.1 461.1L669.8 461.1L670.4 461.1L671.1 461.1" fill="none" stroke="#000" stroke-width="2.2" stroke-dasharray="6.80 6.80"/>
<path d="M402.3 461.1L403.0 461.1L403.6 461.1L404.3 461.1L405.0 461.1L405.7 461.1L406.3 461.1L407.0 461.1L407.7 461.1L408.3 461.1L409.0 461.1L409.7 461.1L410.4 461.1L411.0 461.1L411.7 461.1L412.4 461.1L413.1 461.1L413.7 461.1L414.4 461.1L415.1 461.1L415.7 461.1L416.4 461.1L417.1 461.1L417.8 461.1L418.4 461.1L419.1 461.1L419.8 461.1L420.4 461.1L421.1 461.1L421.8 461.1L422.5 461.1L423.1 461.1L423.8 461.1L424.5 461.1L425.1 461.1L425.8 461.1L426.5 461.1L427.2 461.1L427.8 461.1L428.5 461.1L429.2 461.1L429.9 461.1L430.5 461.1L431.2 461.1L431.9 461.1L432.5 461.1L433.2 461.1L433.9 461.1L434.6 461.1L435.2 461.1L435.9 461.1L436.6 461.1L437.2 461.1L437.9 461.1L438.6 461.1L439.3 461.1L439.9 461.0L440.6 461.0L441.3 461.0L441.9 461.0L442.6 461.0L443.3 461.0L444.0 461.0L444.6 461.0L445.3 461.0L446.0 461.0L446.7 461.0L447.3 461.0L448.0 461.0L448.7 461.0L449.3 461.0L450.0 461.0L450.7 461.0L451.4 461.0L452.0 460.9L452.7 460.9L453.4 460.9L454.0 460.9L454.7 460.9L455.4 460.9L456.1 460.9L456.7 460.9L457.4 460.8L458.1 460.8L458.7 460.8L459.4 460.8L460.1 460.8L460.8 460.8L461.4 460.7L462.1 460.7L462.8 460.7L463.5 460.7L464.1 460.6L464.8 460.6L465.5 460.6L466.1 460.5L466.8 460.5L467.5 460.5L468.2 460.4L468.8 460.4L469.5 460.3L470.2 460.3L470.8 460.2L471.5 460.2L472.2 460.1L472.9 460.1L473.5 460.0L474.2 459.9L474.9 459.9L475.5 459.8L476.2 459.7L476.9 459.6L477.6 459.5L478.2 459.4L478.9 459.3L479.6 459.2L480.3 459.1L480.9 458.9L481.6 458.8L482.3 458.7L482.9 458.5L483.6 458.3L484.3 458.2L485.0 458.0L485.6 457.8L486.3 457.6L487.0 457.4L487.6 457.1L488.3 456.9L489.0 456.6L489.7 456.3L490.3 456.0L491.0 455.7L491.7 455.4L492.3 455.0L493.0 454.6L493.7 454.2L494.4 453.8L495.0 453.3L495.7 452.9L496.4 452.4L497.1 451.8L497.7 451.2L498.4 450.6L499.1 450.0L499.7 449.3L500.4 448.6L501.1 447.8L501.8 447.0L502.4 446.1L503.1 445.2L503.8 444.2L504.4 443.2L505.1 442.1L505.8 440.9L506.5 439.7L507.1 438.4L507.8 437.1L508.5 435.6L509.1 434.1L509.8 432.5L510.5 430.8L511.2 429.1L511.8 427.2L512.5 425.2L513.2 423.1L513.9 420.9L514.5 418.6L515.2 416.2L515.9 413.6L516.5 411.0L517.2 408.2L517.9 405.2L518.6 402.2L519.2 399.0L519.9 395.6L520.6 392.1L521.2 388.5L521.9 384.7L522.6 380.7L523.3 376.6L523.9 372.4L524.6 368.0L525.3 363.5L525.9 358.8L526.6 354.0L527.3 349.1L528.0 344.0L528.6 338.8L529.3 333.6L530.0 328.2L530.7 322.7L531.3 317.2L532.0 311.7L532.7 306.1L533.3 300.5L534.0 294.9L534.7 289.3L535.4 283.8L536.0 278.4L536.7 273.0L537.4 267.8L538.0 262.8L538.7 258.0L539.4 253.4L540.1 249.0L540.7 244.9L541.4 241.1L542.1 237.6L542.7 234.5L543.4 231.7L544.1 229.3L544.8 227.4L545.4 225.8L546.1 224.7L546.8 224.1L547.5 223.8L548.1 224.1L548.8 224.7L549.5 225.8L550.1 227.4L550.8 229.3L551.5 231.7L552.2 234.5L552.8 237.6L553.5 241.1L554.2 244.9L554.8 249.0L555.5 253.4L556.2 258.0L556.9 262.8L557.5 267.8L558.2 273.0L558.9 278.4L559.5 283.8L560.2 289.3L560.9 294.9L561.6 300.5L562.2 306.1L562.9 311.7L563.6 317.2L564.3 322.7L564.9 328.2L565.6 333.6L566.3 338.8L566.9 344.0L567.6 349.1L568.3 354.0L569.0 358.8L569.6 363.5L570.3 368.0L571.0 372.4L571.6 376.6L572.3 380.7L573.0 384.7L573.7 388.5L574.3 392.1L575.0 395.6L575.7 399.0L576.3 402.2L577.0 405.2L577.7 408.2L578.4 411.0L579.0 413.6L579.7 416.2L580.4 418.6L581.1 420.9L581.7 423.1L582.4 425.2L583.1 427.2L583.7 429.1L584.4 430.8L585.1 432.5L585.8 434.1L586.4 435.6L587.1 437.1L587.8 438.4L588.4 439.7L589.1 440.9L589.8 442.1L590.5 443.2L591.1 444.2L591.8 445.2L592.5 446.1L593.1 447.0L593.8 447.8L594.5 448.6L595.2 449.3L595.8 450.0L596.5 450.6L597.2 451.2L597.9 451.8L598.5 452.4L599.2 452.9L599.9 453.3L600.5 453.8L601.2 454.2L601.9 454.6L602.6 455.0L603.2 455.4L603.9 455.7L604.6 456.0L605.2 456.3L605.9 456.6L606.6 456.9L607.3 457.1L607.9 457.4L608.6 457.6L609.3 457.8L609.9 458.0L610.6 458.2L611.3 458.3L612.0 458.5L612.6 458.7L613.3 458.8L614.0 458.9L614.7 459.1L615.3 459.2L616.0 459.3L616.7 459.4L617.3 459.5L618.0 459.6L618.7 459.7L619.4 459.8L620.0 459.9L620.7 459.9L621.4 460.0L622.0 460.1L622.7 460.1L623.4 460.2L624.1 460.2L624.7 460.3L625.4 460.3L626.1 460.4L626.7 460.4L627.4 460.5L628.1 460.5L628.8 460.5L629.4 460.6L630.1 460.6L630.8 460.6L631.5 460.7L632.1 460.7L632.8 460.7L633.5 460.7L634.1 460.8L634.8 460.8L635.5 460.8L636.2 460.8L636.8 460.8L637.5 460.8L638.2 460.9L638.8 460.9L639.5 460.9L640.2 460.9L640.9 460.9L641.5 460.9L642.2 460.9L642.9 460.9L643.5 461.0L644.2 461.0L644.9 461.0L645.6 461.0L646.2 461.0L646.9 461.0L647.6 461.0L648.3 461.0L648.9 461.0L649.6 461.0L650.3 461.0L650.9 461.0L651.6 461.0L652.3 461.0L653.0 461.0L653.6 461.0L654.3 461.0L655.0 461.0L655.6 461.1L656.3 461.1L657.0 461.1L657.7 461.1L658.3 461.1L659.0 461.1L659.7 461.1L660.3 461.1L661.0 461.1L661.7 461.1L662.4 461.1L663.0 461.1L663.7 461.1L664.4 461.1L665.1 461.1L665.7 461.1L666.4 461.1L667.1 461.1L667.7 461.1L668.4 461.1L669.1 461.1L669.8 461.1L670.4 461.1L671.1 461.1" fill="none" stroke="#000" stroke-width="2.2" stroke-dasharray="6.80 6.80"/>
<path d="M402.3 461.1L403.0 461.1L403.6 461.1L404.3 461.1L405.0 461.1L405.7 461.1L406.3 461.1L407.0 461.1L407.7 461.1L408.3 461.1L409.0 461.1L409.7 461.1L410.4 461.1L411.0 461.1L411.7 461.1L412.4 461.1L413.1 461.1L413.7 461.1L414.4 461.1L415.1 461.1L415.7 461.1L416.4 461.1L417.1 461.1L417.8 461.1L418.4 461.1L419.1 461.1L419.8 461.1L420.4 461.1L421.1 461.1L421.8 461.1L422.5 461.1L423.1 461.1L423.8 461.1L424.5 461.1L425.1 461.1L425.8 461.1L426.5 461.1L427.2 461.1L427.8 461.1L428.5 461.1L429.2 461.1L429.9 461.1L430.5 461.1L431.2 461.1L431.9 461.1L432.5 461.1L433.2 461.1L433.9 461.1L434.6 461.1L435.2 461.1L435.9 461.1L436.6 461.1L437.2 461.1L437.9 461.1L438.6 461.1L439.3 461.1L439.9 461.1L440.6 461.1L441.3 461.0L441.9 461.0L442.6 461.0L443.3 461.0L444.0 461.0L444.6 461.0L445.3 461.0L446.0 461.0L446.7 461.0L447.3 461.0L448.0 461.0L448.7 461.0L449.3 461.0L450.0 461.0L450.7 461.0L451.4 461.0L452.0 461.0L452.7 461.0L453.4 460.9L454.0 460.9L454.7 460.9L455.4 460.9L456.1 460.9L456.7 460.9L457.4 460.9L458.1 460.9L458.7 460.8L459.4 460.8L460.1 460.8L460.8 460.8L461.4 460.8L462.1 460.8L462.8 460.7L463.5 460.7L464.1 460.7L464.8 460.7L465.5 460.6L466.1 460.6L466.8 460.6L467.5 460.5L468.2 460.5L468.8 460.5L469.5 460.4L470.2 460.4L470.8 460.4L471.5 460.3L472.2 460.3L472.9 460.2L473.5 460.1L474.2 460.1L474.9 460.0L475.5 460.0L476.2 459.9L476.9 459.8L477.6 459.7L478.2 459.6L478.9 459.5L479.6 459.4L480.3 459.3L480.9 459.2L481.6 459.1L482.3 459.0L482.9 458.9L483.6 458.7L484.3 458.6L485.0 458.4L485.6 458.2L486.3 458.1L487.0 457.9L487.6 457.7L488.3 457.5L489.0 457.2L489.7 457.0L490.3 456.7L491.0 456.5L491.7 456.2L492.3 455.9L493.0 455.6L493.7 455.2L494.4 454.8L495.0 454.5L495.7 454.0L496.4 453.6L497.1 453.1L497.7 452.7L498.4 452.1L499.1 451.6L499.7 451.0L500.4 450.4L501.1 449.7L501.8 449.0L502.4 448.3L503.1 447.5L503.8 446.7L504.4 445.8L505.1 444.9L505.8 443.9L506.5 442.9L507.1 441.8L507.8 440.6L508.5 439.4L509.1 438.1L509.8 436.7L510.5 435.3L511.2 433.8L511.8 432.2L512.5 430.5L513.2 428.7L513.9 426.9L514.5 424.9L515.2 422.8L515.9 420.7L516.5 418.4L517.2 416.0L517.9 413.5L518.6 410.9L519.2 408.1L519.9 405.2L520.6 402.2L521.2 399.1L521.9 395.8L522.6 392.4L523.3 388.9L523.9 385.2L524.6 381.4L525.3 377.5L525.9 373.4L526.6 369.3L527.3 364.9L528.0 360.5L528.6 356.0L529.3 351.3L530.0 346.5L530.7 341.7L531.3 336.8L532.0 331.8L532.7 326.8L533.3 321.7L534.0 316.6L534.7 311.5L535.4 306.4L536.0 301.4L536.7 296.4L537.4 291.6L538.0 286.8L538.7 282.2L539.4 277.7L540.1 273.4L540.7 269.3L541.4 265.4L542.1 261.8L542.7 258.5L543.4 255.5L544.1 252.8L544.8 250.5L545.4 248.5L546.1 246.8L546.8 245.6L547.5 244.8L548.1 244.3L548.8 244.3L549.5 244.6L550.1 245.4L550.8 246.6L551.5 248.1L552.2 250.0L552.8 252.3L553.5 254.9L554.2 257.9L554.8 261.1L555.5 264.7L556.2 268.5L556.9 272.5L557.5 276.8L558.2 281.2L558.9 285.9L559.5 290.6L560.2 295.5L560.9 300.4L561.6 305.4L562.2 310.5L562.9 315.6L563.6 320.7L564.3 325.8L564.9 330.8L565.6 335.8L566.3 340.7L566.9 345.6L567.6 350.4L568.3 355.0L569.0 359.6L569.6 364.1L570.3 368.4L571.0 372.6L571.6 376.7L572.3 380.7L573.0 384.5L573.7 388.2L574.3 391.7L575.0 395.2L575.7 398.5L576.3 401.6L577.0 404.6L577.7 407.5L578.4 410.3L579.0 413.0L579.7 415.5L580.4 417.9L581.1 420.2L581.7 422.4L582.4 424.5L583.1 426.5L583.7 428.4L584.4 430.2L585.1 431.9L585.8 433.5L586.4 435.0L587.1 436.5L587.8 437.8L588.4 439.1L589.1 440.4L589.8 441.6L590.5 442.7L591.1 443.7L591.8 444.7L592.5 445.6L593.1 446.5L593.8 447.4L594.5 448.1L595.2 448.9L595.8 449.6L596.5 450.3L597.2 450.9L597.9 451.5L598.5 452.0L599.2 452.6L599.9 453.1L600.5 453.5L601.2 454.0L601.9 454.4L602.6 454.8L603.2 455.1L603.9 455.5L604.6 455.8L605.2 456.1L605.9 456.4L606.6 456.7L607.3 456.9L607.9 457.2L608.6 457.4L609.3 457.6L609.9 457.8L610.6 458.0L611.3 458.2L612.0 458.4L612.6 458.5L613.3 458.7L614.0 458.8L614.7 459.0L615.3 459.1L616.0 459.2L616.7 459.3L617.3 459.4L618.0 459.5L618.7 459.6L619.4 459.7L620.0 459.8L620.7 459.9L621.4 459.9L622.0 460.0L622.7 460.1L623.4 460.1L624.1 460.2L624.7 460.2L625.4 460.3L626.1 460.3L626.7 460.4L627.4 460.4L628.1 460.5L628.8 460.5L629.4 460.5L630.1 460.6L630.8 460.6L631.5 460.6L632.1 460.7L632.8 460.7L633.5 460.7L634.1 460.7L634.8 460.8L635.5 460.8L636.2 460.8L636.8 460.8L637.5 460.8L638.2 460.8L638.8 460.9L639.5 460.9L640.2 460.9L640.9 460.9L641.5 460.9L642.2 460.9L642.9 460.9L643.5 460.9L644.2 461.0L644.9 461.0L645.6 461.0L646.2 461.0L646.9 461.0L647.6 461.0L648.3 461.0L648.9 461.0L649.6 461.0L650.3 461.0L650.9 461.0L651.6 461.0L652.3 461.0L653.0 461.0L653.6 461.0L654.3 461.0L655.0 461.0L655.6 461.0L656.3 461.1L657.0 461.1L657.7 461.1L658.3 461.1L659.0 461.1L659.7 461.1L660.3 461.1L661.0 461.1L661.7 461.1L662.4 461.1L663.0 461.1L663.7 461.1L664.4 461.1L665.1 461.1L665.7 461.1L666.4 461.1L667.1 461.1L667.7 461.1L668.4 461.1L669.1 461.1L669.8 461.1L670.4 461.1L671.1 461.1" fill="none" stroke="#000" stroke-width="2.2" stroke-dasharray="6.80 6.80"/>
<path d="M402.3 461.1L403.0 461.1L403.6 461.1L404.3 461.1L405.0 461.1L405.7 461.1L406.3 461.1L407.0 461.1L407.7 461.1L408.3 461.1L409.0 461.1L409.7 461.1L410.4 461.1L411.0 461.1L411.7 461.1L412.4 461.1L413.1 461.1L413.7 461.1L414.4 461.1L415.1 461.1L415.7 461.1L416.4 461.1L417.1 461.1L417.8 461.1L418.4 461.1L419.1 461.1L419.8 461.1L420.4 461.1L421.1 461.1L421.8 461.1L422.5 461.1L423.1 461.1L423.8 461.1L424.5 461.1L425.1 461.1L425.8 461.1L426.5 461.1L427.2 461.1L427.8 461.1L428.5 461.1L429.2 461.1L429.9 461.1L430.5 461.1L431.2 461.1L431.9 461.1L432.5 461.1L433.2 461.1L433.9 461.1L434.6 461.1L435.2 461.1L435.9 461.1L436.6 461.1L437.2 461.0L437.9 461.0L438.6 461.0L439.3 461.0L439.9 461.0L440.6 461.0L441.3 461.0L441.9 461.0L442.6 461.0L443.3 461.0L444.0 461.0L444.6 461.0L445.3 461.0L446.0 461.0L446.7 461.0L447.3 461.0L448.0 461.0L448.7 461.0L449.3 460.9L450.0 460.9L450.7 460.9L451.4 460.9L452.0 460.9L452.7 460.9L453.4 460.9L454.0 460.9L454.7 460.8L455.4 460.8L456.1 460.8L456.7 460.8L457.4 460.8L458.1 460.8L458.7 460.7L459.4 460.7L460.1 460.7L460.8 460.7L461.4 460.6L462.1 460.6L462.8 460.6L463.5 460.5L464.1 460.5L464.8 460.5L465.5 460.4L466.1 460.4L466.8 460.3L467.5 460.3L468.2 460.2L468.8 460.2L469.5 460.1L470.2 460.0L470.8 460.0L471.5 459.9L472.2 459.8L472.9 459.8L473.5 459.7L474.2 459.6L474.9 459.5L475.5 459.4L476.2 459.3L476.9 459.2L477.6 459.0L478.2 458.9L478.9 458.8L479.6 458.6L480.3 458.5L480.9 458.3L481.6 458.1L482.3 457.9L482.9 457.7L483.6 457.5L484.3 457.3L485.0 457.0L485.6 456.8L486.3 456.5L487.0 456.2L487.6 455.9L488.3 455.6L489.0 455.2L489.7 454.9L490.3 454.5L491.0 454.1L491.7 453.6L492.3 453.2L493.0 452.7L493.7 452.1L494.4 451.6L495.0 451.0L495.7 450.4L496.4 449.7L497.1 449.0L497.7 448.2L498.4 447.4L499.1 446.6L499.7 445.7L500.4 444.8L501.1 443.8L501.8 442.7L502.4 441.6L503.1 440.4L503.8 439.1L504.4 437.8L505.1 436.4L505.8 434.9L506.5 433.4L507.1 431.7L507.8 430.0L508.5 428.1L509.1 426.2L509.8 424.1L510.5 422.0L511.2 419.7L511.8 417.3L512.5 414.8L513.2 412.2L513.9 409.4L514.5 406.5L515.2 403.5L515.9 400.3L516.5 396.9L517.2 393.5L517.9 389.8L518.6 386.1L519.2 382.1L519.9 378.0L520.6 373.8L521.2 369.4L521.9 364.8L522.6 360.1L523.3 355.3L523.9 350.3L524.6 345.2L525.3 339.9L525.9 334.5L526.6 329.0L527.3 323.4L528.0 317.7L528.6 312.0L529.3 306.2L530.0 300.4L530.7 294.5L531.3 288.7L532.0 282.9L532.7 277.1L533.3 271.4L534.0 265.9L534.7 260.5L535.4 255.2L536.0 250.2L536.7 245.3L537.4 240.8L538.0 236.5L538.7 232.5L539.4 228.9L540.1 225.6L540.7 222.7L541.4 220.2L542.1 218.2L542.7 216.6L543.4 215.4L544.1 214.7L544.8 214.5L545.4 214.7L546.1 215.4L546.8 216.6L547.5 218.2L548.1 220.2L548.8 222.7L549.5 225.6L550.1 228.9L550.8 232.5L551.5 236.5L552.2 240.8L552.8 245.3L553.5 250.2L554.2 255.2L554.8 260.5L555.5 265.9L556.2 271.4L556.9 277.1L557.5 282.9L558.2 288.7L558.9 294.5L559.5 300.4L560.2 306.2L560.9 312.0L561.6 317.7L562.2 323.4L562.9 329.0L563.6 334.5L564.3 339.9L564.9 345.2L565.6 350.3L566.3 355.3L566.9 360.1L567.6 364.8L568.3 369.4L569.0 373.8L569.6 378.0L570.3 382.1L571.0 386.1L571.6 389.8L572.3 393.5L573.0 396.9L573.7 400.3L574.3 403.5L575.0 406.5L575.7 409.4L576.3 412.2L577.0 414.8L577.7 417.3L578.4 419.7L579.0 422.0L579.7 424.1L580.4 426.2L581.1 428.1L581.7 430.0L582.4 431.7L583.1 433.4L583.7 434.9L584.4 436.4L585.1 437.8L585.8 439.1L586.4 440.4L587.1 441.6L587.8 442.7L588.4 443.8L589.1 444.8L589.8 445.7L590.5 446.6L591.1 447.4L591.8 448.2L592.5 449.0L593.1 449.7L593.8 450.4L594.5 451.0L595.2 451.6L595.8 452.1L596.5 452.7L597.2 453.2L597.9 453.6L598.5 454.1L599.2 454.5L599.9 454.9L600.5 455.2L601.2 455.6L601.9 455.9L602.6 456.2L603.2 456.5L603.9 456.8L604.6 457.0L605.2 457.3L605.9 457.5L606.6 457.7L607.3 457.9L607.9 458.1L608.6 458.3L609.3 458.5L609.9 458.6L610.6 458.8L611.3 458.9L612.0 459.0L612.6 459.2L613.3 459.3L614.0 459.4L614.7 459.5L615.3 459.6L616.0 459.7L616.7 459.8L617.3 459.8L618.0 459.9L618.7 460.0L619.4 460.0L620.0 460.1L620.7 460.2L621.4 460.2L622.0 460.3L622.7 460.3L623.4 460.4L624.1 460.4L624.7 460.5L625.4 460.5L626.1 460.5L626.7 460.6L627.4 460.6L628.1 460.6L628.8 460.7L629.4 460.7L630.1 460.7L630.8 460.7L631.5 460.8L632.1 460.8L632.8 460.8L633.5 460.8L634.1 460.8L634.8 460.8L635.5 460.9L636.2 460.9L636.8 460.9L637.5 460.9L638.2 460.9L638.8 460.9L639.5 460.9L640.2 460.9L640.9 461.0L641.5 461.0L642.2 461.0L642.9 461.0L643.5 461.0L644.2 461.0L644.9 461.0L645.6 461.0L646.2 461.0L646.9 461.0L647.6 461.0L648.3 461.0L648.9 461.0L649.6 461.0L650.3 461.0L650.9 461.0L651.6 461.0L652.3 461.0L653.0 461.1L653.6 461.1L654.3 461.1L655.0 461.1L655.6 461.1L656.3 461.1L657.0 461.1L657.7 461.1L658.3 461.1L659.0 461.1L659.7 461.1L660.3 461.1L661.0 461.1L661.7 461.1L662.4 461.1L663.0 461.1L663.7 461.1L664.4 461.1L665.1 461.1L665.7 461.1L666.4 461.1L667.1 461.1L667.7 461.1L668.4 461.1L669.1 461.1L669.8 461.1L670.4 461.1L671.1 461.1" fill="none" stroke="#000" stroke-width="2.2" stroke-dasharray="6.80 6.80"/>
<path d="M402.3 461.1L403.0 461.1L403.6 461.1L404.3 461.1L405.0 461.1L405.7 461.1L406.3 461.1L407.0 461.1L407.7 461.1L408.3 461.1L409.0 461.1L409.7 461.1L410.4 461.1L411.0 461.1L411.7 461.1L412.4 461.1L413.1 461.1L413.7 461.1L414.4 461.1L415.1 461.1L415.7 461.1L416.4 461.1L417.1 461.1L417.8 461.1L418.4 461.1L419.1 461.1L419.8 461.1L420.4 461.1L421.1 461.1L421.8 461.1L422.5 461.1L423.1 461.1L423.8 461.1L424.5 461.1L425.1 461.1L425.8 461.1L426.5 461.1L427.2 461.1L427.8 461.1L428.5 461.1L429.2 461.1L429.9 461.1L430.5 461.1L431.2 461.1L431.9 461.1L432.5 461.1L433.2 461.1L433.9 461.1L434.6 461.1L435.2 461.1L435.9 461.1L436.6 461.1L437.2 461.1L437.9 461.1L438.6 461.1L439.3 461.1L439.9 461.1L440.6 461.1L441.3 461.1L441.9 461.1L442.6 461.0L443.3 461.0L444.0 461.0L444.6 461.0L445.3 461.0L446.0 461.0L446.7 461.0L447.3 461.0L448.0 461.0L448.7 461.0L449.3 461.0L450.0 461.0L450.7 461.0L451.4 461.0L452.0 461.0L452.7 461.0L453.4 461.0L454.0 460.9L454.7 460.9L455.4 460.9L456.1 460.9L456.7 460.9L457.4 460.9L458.1 460.9L458.7 460.9L459.4 460.9L460.1 460.8L460.8 460.8L461.4 460.8L462.1 460.8L462.8 460.8L463.5 460.7L464.1 460.7L464.8 460.7L465.5 460.7L466.1 460.6L466.8 460.6L467.5 460.6L468.2 460.6L468.8 460.5L469.5 460.5L470.2 460.4L470.8 460.4L471.5 460.4L472.2 460.3L472.9 460.3L473.5 460.2L474.2 460.2L474.9 460.1L475.5 460.0L476.2 460.0L476.9 459.9L477.6 459.8L478.2 459.7L478.9 459.7L479.6 459.6L480.3 459.5L480.9 459.4L481.6 459.3L482.3 459.1L482.9 459.0L483.6 458.9L484.3 458.8L485.0 458.6L485.6 458.5L486.3 458.3L487.0 458.1L487.6 457.9L488.3 457.7L489.0 457.5L489.7 457.3L490.3 457.1L491.0 456.8L491.7 456.5L492.3 456.2L493.0 455.9L493.7 455.6L494.4 455.3L495.0 454.9L495.7 454.5L496.4 454.1L497.1 453.7L497.7 453.2L498.4 452.7L499.1 452.2L499.7 451.7L500.4 451.1L501.1 450.5L501.8 449.8L502.4 449.1L503.1 448.4L503.8 447.6L504.4 446.8L505.1 445.9L505.8 445.0L506.5 444.0L507.1 443.0L507.8 441.9L508.5 440.8L509.1 439.5L509.8 438.2L510.5 436.9L511.2 435.4L511.8 433.9L512.5 432.3L513.2 430.6L513.9 428.9L514.5 427.0L515.2 425.0L515.9 422.9L516.5 420.7L517.2 418.5L517.9 416.1L518.6 413.5L519.2 410.9L519.9 408.1L520.6 405.2L521.2 402.2L521.9 399.0L522.6 395.7L523.3 392.3L523.9 388.7L524.6 385.0L525.3 381.1L525.9 377.1L526.6 373.0L527.3 368.7L528.0 364.3L528.6 359.7L529.3 355.1L530.0 350.3L530.7 345.4L531.3 340.4L532.0 335.4L532.7 330.2L533.3 325.0L534.0 319.7L534.7 314.4L535.4 309.1L536.0 303.8L536.7 298.6L537.4 293.3L538.0 288.2L538.7 283.1L539.4 278.2L540.1 273.4L540.7 268.8L541.4 264.4L542.1 260.3L542.7 256.3L543.4 252.7L544.1 249.4L544.8 246.3L545.4 243.7L546.1 241.4L546.8 239.4L547.5 237.9L548.1 236.8L548.8 236.0L549.5 235.8L550.1 235.9L550.8 236.4L551.5 237.4L552.2 238.8L552.8 240.5L553.5 242.7L554.2 245.2L554.8 248.1L555.5 251.3L556.2 254.8L556.9 258.7L557.5 262.7L558.2 267.0L558.9 271.6L559.5 276.3L560.2 281.2L560.9 286.2L561.6 291.3L562.2 296.5L562.9 301.7L563.6 307.0L564.3 312.3L564.9 317.6L565.6 322.9L566.3 328.1L566.9 333.3L567.6 338.4L568.3 343.4L569.0 348.4L569.6 353.2L570.3 357.9L571.0 362.5L571.6 366.9L572.3 371.3L573.0 375.5L573.7 379.5L574.3 383.4L575.0 387.2L575.7 390.9L576.3 394.3L577.0 397.7L577.7 400.9L578.4 404.0L579.0 407.0L579.7 409.8L580.4 412.5L581.1 415.1L581.7 417.5L582.4 419.8L583.1 422.1L583.7 424.2L584.4 426.2L585.1 428.1L585.8 429.9L586.4 431.7L587.1 433.3L587.8 434.8L588.4 436.3L589.1 437.7L589.8 439.0L590.5 440.3L591.1 441.5L591.8 442.6L592.5 443.6L593.1 444.6L593.8 445.6L594.5 446.5L595.2 447.3L595.8 448.1L596.5 448.8L597.2 449.6L597.9 450.2L598.5 450.9L599.2 451.4L599.9 452.0L600.5 452.5L601.2 453.0L601.9 453.5L602.6 454.0L603.2 454.4L603.9 454.8L604.6 455.1L605.2 455.5L605.9 455.8L606.6 456.1L607.3 456.4L607.9 456.7L608.6 457.0L609.3 457.2L609.9 457.4L610.6 457.6L611.3 457.8L612.0 458.0L612.6 458.2L613.3 458.4L614.0 458.5L614.7 458.7L615.3 458.8L616.0 459.0L616.7 459.1L617.3 459.2L618.0 459.3L618.7 459.4L619.4 459.5L620.0 459.6L620.7 459.7L621.4 459.8L622.0 459.9L622.7 459.9L623.4 460.0L624.1 460.1L624.7 460.1L625.4 460.2L626.1 460.2L626.7 460.3L627.4 460.3L628.1 460.4L628.8 460.4L629.4 460.5L630.1 460.5L630.8 460.5L631.5 460.6L632.1 460.6L632.8 460.6L633.5 460.7L634.1 460.7L634.8 460.7L635.5 460.7L636.2 460.8L636.8 460.8L637.5 460.8L638.2 460.8L638.8 460.8L639.5 460.8L640.2 460.9L640.9 460.9L641.5 460.9L642.2 460.9L642.9 460.9L643.5 460.9L644.2 460.9L644.9 460.9L645.6 461.0L646.2 461.0L646.9 461.0L647.6 461.0L648.3 461.0L648.9 461.0L649.6 461.0L650.3 461.0L650.9 461.0L651.6 461.0L652.3 461.0L653.0 461.0L653.6 461.0L654.3 461.0L655.0 461.0L655.6 461.0L656.3 461.0L657.0 461.0L657.7 461.1L658.3 461.1L659.0 461.1L659.7 461.1L660.3 461.1L661.0 461.1L661.7 461.1L662.4 461.1L663.0 461.1L663.7 461.1L664.4 461.1L665.1 461.1L665.7 461.1L666.4 461.1L667.1 461.1L667.7 461.1L668.4 461.1L669.1 461.1L669.8 461.1L670.4 461.1L671.1 461.1" fill="none" stroke="#000" stroke-width="2.2" stroke-dasharray="6.80 6.80"/>
<path d="M402.3 461.1L403.0 461.1L403.6 461.1L404.3 461.1L405.0 461.1L405.7 461.1L406.3 461.1L407.0 461.1L407.7 461.1L408.3 461.1L409.0 461.1L409.7 461.1L410.4 461.1L411.0 461.1L411.7 461.1L412.4 461.1L413.1 461.1L413.7 461.1L414.4 461.1L415.1 461.1L415.7 461.1L416.4 461.1L417.1 461.1L417.8 461.1L418.4 461.1L419.1 461.1L419.8 461.1L420.4 461.1L421.1 461.1L421.8 461.1L422.5 461.1L423.1 461.1L423.8 461.1L424.5 461.1L425.1 461.1L425.8 461.1L426.5 461.0L427.2 461.0L427.8 461.0L428.5 461.0L429.2 461.0L429.9 461.0L430.5 461.0L431.2 461.0L431.9 461.0L432.5 461.0L433.2 461.0L433.9 461.0L434.6 461.0L435.2 461.0L435.9 461.0L436.6 461.0L437.2 461.0L437.9 461.0L438.6 461.0L439.3 461.0L439.9 460.9L440.6 460.9L441.3 460.9L441.9 460.9L442.6 460.9L443.3 460.9L444.0 460.9L444.6 460.9L445.3 460.9L446.0 460.8L446.7 460.8L447.3 460.8L448.0 460.8L448.7 460.8L449.3 460.8L450.0 460.7L450.7 460.7L451.4 460.7L452.0 460.7L452.7 460.6L453.4 460.6L454.0 460.6L454.7 460.6L455.4 460.5L456.1 460.5L456.7 460.5L457.4 460.4L458.1 460.4L458.7 460.4L459.4 460.3L460.1 460.3L460.8 460.2L461.4 460.2L462.1 460.1L462.8 460.1L463.5 460.0L464.1 459.9L464.8 459.9L465.5 459.8L466.1 459.7L466.8 459.7L467.5 459.6L468.2 459.5L468.8 459.4L469.5 459.3L470.2 459.2L470.8 459.1L471.5 459.0L472.2 458.9L472.9 458.7L473.5 458.6L474.2 458.5L474.9 458.3L475.5 458.1L476.2 458.0L476.9 457.8L477.6 457.6L478.2 457.4L478.9 457.2L479.6 457.0L480.3 456.8L480.9 456.5L481.6 456.3L482.3 456.0L482.9 455.7L483.6 455.4L484.3 455.1L485.0 454.8L485.6 454.4L486.3 454.1L487.0 453.7L487.6 453.3L488.3 452.9L489.0 452.4L489.7 452.0L490.3 451.5L491.0 450.9L491.7 450.4L492.3 449.8L493.0 449.2L493.7 448.6L494.4 447.9L495.0 447.2L495.7 446.5L496.4 445.8L497.1 445.0L497.7 444.1L498.4 443.3L499.1 442.4L499.7 441.4L500.4 440.4L501.1 439.4L501.8 438.3L502.4 437.2L503.1 436.0L503.8 434.8L504.4 433.6L505.1 432.3L505.8 430.9L506.5 429.6L507.1 428.1L507.8 426.6L508.5 425.1L509.1 423.5L509.8 421.9L510.5 420.2L511.2 418.5L511.8 416.8L512.5 415.0L513.2 413.2L513.9 411.4L514.5 409.5L515.2 407.6L515.9 405.6L516.5 403.7L517.2 401.7L517.9 399.8L518.6 397.8L519.2 395.8L519.9 393.9L520.6 391.9L521.2 390.0L521.9 388.1L522.6 386.2L523.3 384.3L523.9 382.5L524.6 380.8L525.3 379.1L525.9 377.4L526.6 375.8L527.3 374.3L528.0 372.9L528.6 371.5L529.3 370.2L530.0 368.9L530.7 367.8L531.3 366.7L532.0 365.7L532.7 364.8L533.3 364.0L534.0 363.2L534.7 362.5L535.4 361.9L536.0 361.3L536.7 360.8L537.4 360.4L538.0 360.0L538.7 359.6L539.4 359.3L540.1 359.0L540.7 358.7L541.4 358.5L542.1 358.2L542.7 358.0L543.4 357.8L544.1 357.6L544.8 357.4L545.4 357.2L546.1 357.0L546.8 356.8L547.5 356.5L548.1 356.3L548.8 356.1L549.5 355.8L550.1 355.6L550.8 355.4L551.5 355.2L552.2 354.9L552.8 354.7L553.5 354.5L554.2 354.4L554.8 354.2L555.5 354.1L556.2 354.1L556.9 354.0L557.5 354.1L558.2 354.1L558.9 354.2L559.5 354.4L560.2 354.7L560.9 355.0L561.6 355.4L562.2 355.8L562.9 356.3L563.6 356.9L564.3 357.6L564.9 358.4L565.6 359.3L566.3 360.2L566.9 361.2L567.6 362.3L568.3 363.5L569.0 364.8L569.6 366.1L570.3 367.5L571.0 369.0L571.6 370.6L572.3 372.2L573.0 373.9L573.7 375.7L574.3 377.5L575.0 379.3L575.7 381.2L576.3 383.2L577.0 385.1L577.7 387.1L578.4 389.1L579.0 391.2L579.7 393.2L580.4 395.2L581.1 397.3L581.7 399.3L582.4 401.3L583.1 403.3L583.7 405.3L584.4 407.3L585.1 409.2L585.8 411.1L586.4 413.0L587.1 414.9L587.8 416.7L588.4 418.4L589.1 420.1L589.8 421.8L590.5 423.4L591.1 425.0L591.8 426.6L592.5 428.1L593.1 429.5L593.8 430.9L594.5 432.3L595.2 433.6L595.8 434.8L596.5 436.0L597.2 437.2L597.9 438.3L598.5 439.4L599.2 440.4L599.9 441.4L600.5 442.3L601.2 443.3L601.9 444.1L602.6 445.0L603.2 445.8L603.9 446.5L604.6 447.2L605.2 447.9L605.9 448.6L606.6 449.2L607.3 449.8L607.9 450.4L608.6 450.9L609.3 451.5L609.9 452.0L610.6 452.4L611.3 452.9L612.0 453.3L612.6 453.7L613.3 454.1L614.0 454.4L614.7 454.8L615.3 455.1L616.0 455.4L616.7 455.7L617.3 456.0L618.0 456.3L618.7 456.5L619.4 456.8L620.0 457.0L620.7 457.2L621.4 457.4L622.0 457.6L622.7 457.8L623.4 458.0L624.1 458.1L624.7 458.3L625.4 458.5L626.1 458.6L626.7 458.7L627.4 458.9L628.1 459.0L628.8 459.1L629.4 459.2L630.1 459.3L630.8 459.4L631.5 459.5L632.1 459.6L632.8 459.7L633.5 459.7L634.1 459.8L634.8 459.9L635.5 459.9L636.2 460.0L636.8 460.1L637.5 460.1L638.2 460.2L638.8 460.2L639.5 460.3L640.2 460.3L640.9 460.4L641.5 460.4L642.2 460.4L642.9 460.5L643.5 460.5L644.2 460.5L644.9 460.6L645.6 460.6L646.2 460.6L646.9 460.6L647.6 460.7L648.3 460.7L648.9 460.7L649.6 460.7L650.3 460.8L650.9 460.8L651.6 460.8L652.3 460.8L653.0 460.8L653.6 460.8L654.3 460.9L655.0 460.9L655.6 460.9L656.3 460.9L657.0 460.9L657.7 460.9L658.3 460.9L659.0 460.9L659.7 460.9L660.3 461.0L661.0 461.0L661.7 461.0L662.4 461.0L663.0 461.0L663.7 461.0L664.4 461.0L665.1 461.0L665.7 461.0L666.4 461.0L667.1 461.0L667.7 461.0L668.4 461.0L669.1 461.0L669.8 461.0L670.4 461.0L671.1 461.0" fill="none" stroke="#000" stroke-width="2.2" stroke-dasharray="6.80 6.80"/>
<path d="M402.3 460.7L403.0 460.7L403.6 460.7L404.3 460.7L405.0 460.7L405.7 460.6L406.3 460.6L407.0 460.6L407.7 460.6L408.3 460.6L409.0 460.6L409.7 460.5L410.4 460.5L411.0 460.5L411.7 460.5L412.4 460.5L413.1 460.4L413.7 460.4L414.4 460.4L415.1 460.4L415.7 460.3L416.4 460.3L417.1 460.3L417.8 460.3L418.4 460.2L419.1 460.2L419.8 460.2L420.4 460.2L421.1 460.1L421.8 460.1L422.5 460.1L423.1 460.0L423.8 460.0L424.5 460.0L425.1 459.9L425.8 459.9L426.5 459.8L427.2 459.8L427.8 459.7L428.5 459.7L429.2 459.7L429.9 459.6L430.5 459.6L431.2 459.5L431.9 459.5L432.5 459.4L433.2 459.4L433.9 459.3L434.6 459.2L435.2 459.2L435.9 459.1L436.6 459.1L437.2 459.0L437.9 458.9L438.6 458.8L439.3 458.8L439.9 458.7L440.6 458.6L441.3 458.5L441.9 458.5L442.6 458.4L443.3 458.3L444.0 458.2L444.6 458.1L445.3 458.0L446.0 457.9L446.7 457.8L447.3 457.7L448.0 457.6L448.7 457.5L449.3 457.4L450.0 457.2L450.7 457.1L451.4 457.0L452.0 456.9L452.7 456.7L453.4 456.6L454.0 456.4L454.7 456.3L455.4 456.1L456.1 456.0L456.7 455.8L457.4 455.7L458.1 455.5L458.7 455.3L459.4 455.1L460.1 455.0L460.8 454.8L461.4 454.6L462.1 454.4L462.8 454.2L463.5 453.9L464.1 453.7L464.8 453.5L465.5 453.3L466.1 453.0L466.8 452.8L467.5 452.5L468.2 452.3L468.8 452.0L469.5 451.7L470.2 451.5L470.8 451.2L471.5 450.9L472.2 450.6L472.9 450.3L473.5 449.9L474.2 449.6L474.9 449.3L475.5 448.9L476.2 448.6L476.9 448.2L477.6 447.9L478.2 447.5L478.9 447.1L479.6 446.7L480.3 446.3L480.9 445.9L481.6 445.5L482.3 445.0L482.9 444.6L483.6 444.2L484.3 443.7L485.0 443.2L485.6 442.8L486.3 442.3L487.0 441.8L487.6 441.3L488.3 440.8L489.0 440.3L489.7 439.7L490.3 439.2L491.0 438.6L491.7 438.1L492.3 437.5L493.0 436.9L493.7 436.4L494.4 435.8L495.0 435.2L495.7 434.6L496.4 434.0L497.1 433.4L497.7 432.7L498.4 432.1L499.1 431.5L499.7 430.8L500.4 430.2L501.1 429.5L501.8 428.9L502.4 428.2L503.1 427.6L503.8 426.9L504.4 426.3L505.1 425.6L505.8 424.9L506.5 424.3L507.1 423.6L507.8 422.9L508.5 422.3L509.1 421.6L509.8 421.0L510.5 420.3L511.2 419.7L511.8 419.0L512.5 418.4L513.2 417.8L513.9 417.1L514.5 416.5L515.2 415.9L515.9 415.3L516.5 414.7L517.2 414.2L517.9 413.6L518.6 413.1L519.2 412.5L519.9 412.0L520.6 411.5L521.2 411.0L521.9 410.5L522.6 410.1L523.3 409.6L523.9 409.2L524.6 408.8L525.3 408.4L525.9 408.0L526.6 407.7L527.3 407.3L528.0 407.0L528.6 406.7L529.3 406.4L530.0 406.2L530.7 405.9L531.3 405.7L532.0 405.5L532.7 405.3L533.3 405.1L534.0 404.9L534.7 404.8L535.4 404.7L536.0 404.6L536.7 404.5L537.4 404.4L538.0 404.4L538.7 404.3L539.4 404.3L540.1 404.3L540.7 404.3L541.4 404.3L542.1 404.3L542.7 404.4L543.4 404.4L544.1 404.5L544.8 404.5L545.4 404.6L546.1 404.7L546.8 404.7L547.5 404.8L548.1 404.9L548.8 405.0L549.5 405.1L550.1 405.2L550.8 405.3L551.5 405.4L552.2 405.5L552.8 405.6L553.5 405.7L554.2 405.7L554.8 405.8L555.5 405.9L556.2 406.0L556.9 406.1L557.5 406.1L558.2 406.2L558.9 406.2L559.5 406.3L560.2 406.3L560.9 406.4L561.6 406.4L562.2 406.4L562.9 406.5L563.6 406.5L564.3 406.5L564.9 406.5L565.6 406.5L566.3 406.5L566.9 406.5L567.6 406.4L568.3 406.4L569.0 406.4L569.6 406.4L570.3 406.3L571.0 406.3L571.6 406.3L572.3 406.3L573.0 406.2L573.7 406.2L574.3 406.2L575.0 406.2L575.7 406.2L576.3 406.2L577.0 406.2L577.7 406.2L578.4 406.2L579.0 406.2L579.7 406.3L580.4 406.3L581.1 406.4L581.7 406.4L582.4 406.5L583.1 406.6L583.7 406.7L584.4 406.8L585.1 407.0L585.8 407.1L586.4 407.3L587.1 407.5L587.8 407.7L588.4 407.9L589.1 408.1L589.8 408.4L590.5 408.7L591.1 408.9L591.8 409.3L592.5 409.6L593.1 409.9L593.8 410.3L594.5 410.7L595.2 411.1L595.8 411.5L596.5 411.9L597.2 412.3L597.9 412.8L598.5 413.3L599.2 413.8L599.9 414.3L600.5 414.8L601.2 415.3L601.9 415.9L602.6 416.4L603.2 417.0L603.9 417.6L604.6 418.1L605.2 418.7L605.9 419.3L606.6 419.9L607.3 420.6L607.9 421.2L608.6 421.8L609.3 422.4L609.9 423.1L610.6 423.7L611.3 424.4L612.0 425.0L612.6 425.7L613.3 426.3L614.0 427.0L614.7 427.6L615.3 428.2L616.0 428.9L616.7 429.5L617.3 430.2L618.0 430.8L618.7 431.4L619.4 432.1L620.0 432.7L620.7 433.3L621.4 433.9L622.0 434.5L622.7 435.1L623.4 435.7L624.1 436.3L624.7 436.9L625.4 437.4L626.1 438.0L626.7 438.5L627.4 439.1L628.1 439.6L628.8 440.1L629.4 440.7L630.1 441.2L630.8 441.7L631.5 442.2L632.1 442.7L632.8 443.1L633.5 443.6L634.1 444.1L634.8 444.5L635.5 444.9L636.2 445.4L636.8 445.8L637.5 446.2L638.2 446.6L638.8 447.0L639.5 447.4L640.2 447.8L640.9 448.1L641.5 448.5L642.2 448.9L642.9 449.2L643.5 449.5L644.2 449.9L644.9 450.2L645.6 450.5L646.2 450.8L646.9 451.1L647.6 451.4L648.3 451.7L648.9 451.9L649.6 452.2L650.3 452.5L650.9 452.7L651.6 453.0L652.3 453.2L653.0 453.4L653.6 453.7L654.3 453.9L655.0 454.1L655.6 454.3L656.3 454.5L657.0 454.7L657.7 454.9L658.3 455.1L659.0 455.3L659.7 455.4L660.3 455.6L661.0 455.8L661.7 455.9L662.4 456.1L663.0 456.3L663.7 456.4L664.4 456.5L665.1 456.7L665.7 456.8L666.4 457.0L667.1 457.1L667.7 457.2L668.4 457.3L669.1 457.4L669.8 457.6L670.4 457.7L671.1 457.8" fill="none" stroke="#000" stroke-width="2.2" stroke-dasharray="6.80 6.80"/>
<path d="M402.3 461.1L403.0 461.1L403.6 461.1L404.3 461.1L405.0 461.1L405.7 461.1L406.3 461.1L407.0 461.1L407.7 461.1L408.3 461.1L409.0 461.1L409.7 461.1L410.4 461.1L411.0 461.1L411.7 461.1L412.4 461.1L413.1 461.1L413.7 461.1L414.4 461.1L415.1 461.1L415.7 461.1L416.4 461.1L417.1 461.1L417.8 461.1L418.4 461.1L419.1 461.1L419.8 461.1L420.4 461.1L421.1 461.1L421.8 461.1L422.5 461.1L423.1 461.1L423.8 461.1L424.5 461.1L425.1 461.1L425.8 461.1L426.5 461.1L427.2 461.1L427.8 461.1L428.5 461.1L429.2 461.1L429.9 461.1L430.5 461.1L431.2 461.1L431.9 461.1L432.5 461.1L433.2 461.1L433.9 461.1L434.6 461.1L435.2 461.1L435.9 461.1L436.6 461.1L437.2 461.1L437.9 461.1L438.6 461.1L439.3 461.1L439.9 461.1L440.6 461.1L441.3 461.1L441.9 461.1L442.6 461.1L443.3 461.1L444.0 461.1L444.6 461.1L445.3 461.1L446.0 461.1L446.7 461.1L447.3 461.1L448.0 461.1L448.7 461.1L449.3 461.1L450.0 461.1L450.7 461.1L451.4 461.1L452.0 461.1L452.7 461.1L453.4 461.1L454.0 461.1L454.7 461.1L455.4 461.1L456.1 461.1L456.7 461.1L457.4 461.1L458.1 461.1L458.7 461.1L459.4 461.0L460.1 461.0L460.8 461.0L461.4 461.0L462.1 461.0L462.8 461.0L463.5 461.0L464.1 461.0L464.8 461.0L465.5 461.0L466.1 461.0L466.8 461.0L467.5 461.0L468.2 460.9L468.8 460.9L469.5 460.9L470.2 460.9L470.8 460.9L471.5 460.9L472.2 460.8L472.9 460.8L473.5 460.8L474.2 460.7L474.9 460.7L475.5 460.7L476.2 460.6L476.9 460.6L477.6 460.5L478.2 460.5L478.9 460.4L479.6 460.4L480.3 460.3L480.9 460.2L481.6 460.2L482.3 460.1L482.9 460.0L483.6 459.9L484.3 459.8L485.0 459.6L485.6 459.5L486.3 459.4L487.0 459.2L487.6 459.0L488.3 458.8L489.0 458.6L489.7 458.4L490.3 458.2L491.0 457.9L491.7 457.6L492.3 457.3L493.0 456.9L493.7 456.6L494.4 456.1L495.0 455.7L495.7 455.2L496.4 454.7L497.1 454.1L497.7 453.5L498.4 452.8L499.1 452.1L499.7 451.3L500.4 450.4L501.1 449.5L501.8 448.4L502.4 447.3L503.1 446.2L503.8 444.9L504.4 443.5L505.1 442.0L505.8 440.4L506.5 438.7L507.1 436.9L507.8 434.9L508.5 432.8L509.1 430.5L509.8 428.1L510.5 425.6L511.2 422.9L511.8 420.0L512.5 417.0L513.2 413.8L513.9 410.5L514.5 407.0L515.2 403.3L515.9 399.5L516.5 395.6L517.2 391.5L517.9 387.3L518.6 383.0L519.2 378.6L519.9 374.1L520.6 369.5L521.2 364.8L521.9 360.2L522.6 355.5L523.3 350.8L523.9 346.1L524.6 341.5L525.3 336.9L525.9 332.4L526.6 328.0L527.3 323.7L528.0 319.5L528.6 315.4L529.3 311.5L530.0 307.7L530.7 304.1L531.3 300.6L532.0 297.3L532.7 294.2L533.3 291.2L534.0 288.4L534.7 285.8L535.4 283.3L536.0 281.0L536.7 278.9L537.4 276.9L538.0 275.1L538.7 273.4L539.4 271.9L540.1 270.5L540.7 269.2L541.4 268.1L542.1 267.1L542.7 266.2L543.4 265.5L544.1 264.8L544.8 264.3L545.4 263.9L546.1 263.6L546.8 263.5L547.5 263.4L548.1 263.5L548.8 263.6L549.5 263.9L550.1 264.4L550.8 264.9L551.5 265.6L552.2 266.4L552.8 267.3L553.5 268.4L554.2 269.6L554.8 271.0L555.5 272.5L556.2 274.2L556.9 276.1L557.5 278.2L558.2 280.4L558.9 282.9L559.5 285.5L560.2 288.4L560.9 291.4L561.6 294.6L562.2 298.1L562.9 301.8L563.6 305.6L564.3 309.7L564.9 313.9L565.6 318.3L566.3 322.9L566.9 327.6L567.6 332.5L568.3 337.4L569.0 342.5L569.6 347.6L570.3 352.7L571.0 357.9L571.6 363.0L572.3 368.2L573.0 373.2L573.7 378.2L574.3 383.1L575.0 387.8L575.7 392.5L576.3 396.9L577.0 401.2L577.7 405.3L578.4 409.2L579.0 413.0L579.7 416.5L580.4 419.9L581.1 423.0L581.7 426.0L582.4 428.8L583.1 431.3L583.7 433.8L584.4 436.0L585.1 438.1L585.8 440.0L586.4 441.8L587.1 443.5L587.8 445.0L588.4 446.4L589.1 447.7L589.8 448.8L590.5 449.9L591.1 450.9L591.8 451.8L592.5 452.7L593.1 453.4L593.8 454.1L594.5 454.7L595.2 455.3L595.8 455.8L596.5 456.3L597.2 456.8L597.9 457.2L598.5 457.5L599.2 457.8L599.9 458.1L600.5 458.4L601.2 458.7L601.9 458.9L602.6 459.1L603.2 459.3L603.9 459.4L604.6 459.6L605.2 459.7L605.9 459.9L606.6 460.0L607.3 460.1L607.9 460.2L608.6 460.3L609.3 460.3L609.9 460.4L610.6 460.5L611.3 460.5L612.0 460.6L612.6 460.6L613.3 460.7L614.0 460.7L614.7 460.8L615.3 460.8L616.0 460.8L616.7 460.8L617.3 460.9L618.0 460.9L618.7 460.9L619.4 460.9L620.0 460.9L620.7 461.0L621.4 461.0L622.0 461.0L622.7 461.0L623.4 461.0L624.1 461.0L624.7 461.0L625.4 461.0L626.1 461.0L626.7 461.0L627.4 461.0L628.1 461.1L628.8 461.1L629.4 461.1L630.1 461.1L630.8 461.1L631.5 461.1L632.1 461.1L632.8 461.1L633.5 461.1L634.1 461.1L634.8 461.1L635.5 461.1L636.2 461.1L636.8 461.1L637.5 461.1L638.2 461.1L638.8 461.1L639.5 461.1L640.2 461.1L640.9 461.1L641.5 461.1L642.2 461.1L642.9 461.1L643.5 461.1L644.2 461.1L644.9 461.1L645.6 461.1L646.2 461.1L646.9 461.1L647.6 461.1L648.3 461.1L648.9 461.1L649.6 461.1L650.3 461.1L650.9 461.1L651.6 461.1L652.3 461.1L653.0 461.1L653.6 461.1L654.3 461.1L655.0 461.1L655.6 461.1L656.3 461.1L657.0 461.1L657.7 461.1L658.3 461.1L659.0 461.1L659.7 461.1L660.3 461.1L661.0 461.1L661.7 461.1L662.4 461.1L663.0 461.1L663.7 461.1L664.4 461.1L665.1 461.1L665.7 461.1L666.4 461.1L667.1 461.1L667.7 461.1L668.4 461.1L669.1 461.1L669.8 461.1L670.4 461.1L671.1 461.1" fill="none" stroke="#0000ff" stroke-width="2.2" stroke-dasharray="1.70 5.10 6.80 5.10"/>
<path d="M402.3 461.1L403.0 461.1L403.6 461.1L404.3 461.1L405.0 461.1L405.7 461.1L406.3 461.1L407.0 461.1L407.7 461.1L408.3 461.1L409.0 461.1L409.7 461.1L410.4 461.1L411.0 461.1L411.7 461.1L412.4 461.1L413.1 461.1L413.7 461.1L414.4 461.1L415.1 461.1L415.7 461.1L416.4 461.1L417.1 461.1L417.8 461.1L418.4 461.1L419.1 461.1L419.8 461.1L420.4 461.1L421.1 461.1L421.8 461.1L422.5 461.1L423.1 461.1L423.8 461.1L424.5 461.1L425.1 461.1L425.8 461.1L426.5 461.1L427.2 461.1L427.8 461.1L428.5 461.1L429.2 461.1L429.9 461.1L430.5 461.1L431.2 461.1L431.9 461.1L432.5 461.1L433.2 461.1L433.9 461.1L434.6 461.1L435.2 461.1L435.9 461.1L436.6 461.1L437.2 461.1L437.9 461.1L438.6 461.1L439.3 461.1L439.9 461.1L440.6 461.1L441.3 461.1L441.9 461.1L442.6 461.1L443.3 461.1L444.0 461.1L444.6 461.1L445.3 461.1L446.0 461.1L446.7 461.1L447.3 461.1L448.0 461.1L448.7 461.1L449.3 461.1L450.0 461.1L450.7 461.0L451.4 461.0L452.0 461.0L452.7 461.0L453.4 461.0L454.0 461.0L454.7 461.0L455.4 461.0L456.1 461.0L456.7 461.0L457.4 461.0L458.1 461.0L458.7 461.0L459.4 461.0L460.1 461.0L460.8 460.9L461.4 460.9L462.1 460.9L462.8 460.9L463.5 460.9L464.1 460.9L464.8 460.9L465.5 460.8L466.1 460.8L466.8 460.8L467.5 460.8L468.2 460.7L468.8 460.7L469.5 460.7L470.2 460.7L470.8 460.6L471.5 460.6L472.2 460.5L472.9 460.5L473.5 460.5L474.2 460.4L474.9 460.4L475.5 460.3L476.2 460.2L476.9 460.2L477.6 460.1L478.2 460.0L478.9 459.9L479.6 459.9L480.3 459.8L480.9 459.7L481.6 459.5L482.3 459.4L482.9 459.3L483.6 459.2L484.3 459.0L485.0 458.9L485.6 458.7L486.3 458.5L487.0 458.3L487.6 458.1L488.3 457.9L489.0 457.6L489.7 457.4L490.3 457.1L491.0 456.8L491.7 456.5L492.3 456.1L493.0 455.8L493.7 455.4L494.4 454.9L495.0 454.5L495.7 454.0L496.4 453.5L497.1 452.9L497.7 452.3L498.4 451.7L499.1 451.0L499.7 450.3L500.4 449.5L501.1 448.7L501.8 447.9L502.4 446.9L503.1 446.0L503.8 444.9L504.4 443.8L505.1 442.6L505.8 441.4L506.5 440.1L507.1 438.7L507.8 437.3L508.5 435.8L509.1 434.2L509.8 432.5L510.5 430.8L511.2 428.9L511.8 427.0L512.5 425.0L513.2 423.0L513.9 420.8L514.5 418.6L515.2 416.3L515.9 414.0L516.5 411.6L517.2 409.1L517.9 406.5L518.6 404.0L519.2 401.3L519.9 398.7L520.6 396.0L521.2 393.2L521.9 390.5L522.6 387.8L523.3 385.0L523.9 382.3L524.6 379.6L525.3 376.8L525.9 374.2L526.6 371.5L527.3 368.9L528.0 366.4L528.6 363.9L529.3 361.5L530.0 359.1L530.7 356.8L531.3 354.6L532.0 352.4L532.7 350.4L533.3 348.4L534.0 346.5L534.7 344.7L535.4 342.9L536.0 341.3L536.7 339.7L537.4 338.2L538.0 336.8L538.7 335.5L539.4 334.3L540.1 333.1L540.7 332.0L541.4 331.0L542.1 330.0L542.7 329.2L543.4 328.3L544.1 327.6L544.8 326.9L545.4 326.3L546.1 325.7L546.8 325.2L547.5 324.8L548.1 324.4L548.8 324.0L549.5 323.7L550.1 323.4L550.8 323.2L551.5 323.0L552.2 322.9L552.8 322.8L553.5 322.8L554.2 322.8L554.8 322.8L555.5 322.9L556.2 323.0L556.9 323.1L557.5 323.2L558.2 323.4L558.9 323.7L559.5 323.9L560.2 324.2L560.9 324.6L561.6 324.9L562.2 325.3L562.9 325.7L563.6 326.2L564.3 326.7L564.9 327.2L565.6 327.7L566.3 328.3L566.9 328.9L567.6 329.6L568.3 330.2L569.0 331.0L569.6 331.7L570.3 332.5L571.0 333.3L571.6 334.1L572.3 335.0L573.0 335.9L573.7 336.8L574.3 337.8L575.0 338.8L575.7 339.8L576.3 340.9L577.0 342.0L577.7 343.2L578.4 344.3L579.0 345.6L579.7 346.8L580.4 348.1L581.1 349.4L581.7 350.7L582.4 352.1L583.1 353.5L583.7 354.9L584.4 356.4L585.1 357.9L585.8 359.4L586.4 360.9L587.1 362.5L587.8 364.1L588.4 365.7L589.1 367.4L589.8 369.0L590.5 370.7L591.1 372.4L591.8 374.1L592.5 375.8L593.1 377.5L593.8 379.3L594.5 381.0L595.2 382.8L595.8 384.6L596.5 386.3L597.2 388.1L597.9 389.8L598.5 391.6L599.2 393.3L599.9 395.1L600.5 396.8L601.2 398.5L601.9 400.2L602.6 401.9L603.2 403.6L603.9 405.3L604.6 406.9L605.2 408.5L605.9 410.1L606.6 411.7L607.3 413.2L607.9 414.7L608.6 416.2L609.3 417.7L609.9 419.1L610.6 420.5L611.3 421.9L612.0 423.3L612.6 424.6L613.3 425.9L614.0 427.1L614.7 428.3L615.3 429.5L616.0 430.7L616.7 431.8L617.3 432.9L618.0 433.9L618.7 435.0L619.4 436.0L620.0 436.9L620.7 437.9L621.4 438.8L622.0 439.7L622.7 440.5L623.4 441.3L624.1 442.1L624.7 442.9L625.4 443.6L626.1 444.3L626.7 445.0L627.4 445.7L628.1 446.3L628.8 446.9L629.4 447.5L630.1 448.1L630.8 448.6L631.5 449.2L632.1 449.7L632.8 450.2L633.5 450.6L634.1 451.1L634.8 451.5L635.5 451.9L636.2 452.3L636.8 452.7L637.5 453.1L638.2 453.4L638.8 453.7L639.5 454.1L640.2 454.4L640.9 454.7L641.5 455.0L642.2 455.2L642.9 455.5L643.5 455.7L644.2 456.0L644.9 456.2L645.6 456.4L646.2 456.6L646.9 456.8L647.6 457.0L648.3 457.2L648.9 457.4L649.6 457.5L650.3 457.7L650.9 457.9L651.6 458.0L652.3 458.1L653.0 458.3L653.6 458.4L654.3 458.5L655.0 458.6L655.6 458.7L656.3 458.9L657.0 459.0L657.7 459.1L658.3 459.1L659.0 459.2L659.7 459.3L660.3 459.4L661.0 459.5L661.7 459.6L662.4 459.6L663.0 459.7L663.7 459.8L664.4 459.8L665.1 459.9L665.7 459.9L666.4 460.0L667.1 460.0L667.7 460.1L668.4 460.1L669.1 460.2L669.8 460.2L670.4 460.3L671.1 460.3" fill="none" stroke="#0000ff" stroke-width="2.2" stroke-dasharray="1.70 5.10 6.80 5.10"/>
<path d="M402.3 461.1L403.0 461.1L403.6 461.1L404.3 461.1L405.0 461.1L405.7 461.1L406.3 461.1L407.0 461.1L407.7 461.1L408.3 461.1L409.0 461.1L409.7 461.1L410.4 461.1L411.0 461.1L411.7 461.1L412.4 461.1L413.1 461.1L413.7 461.1L414.4 461.1L415.1 461.1L415.7 461.1L416.4 461.1L417.1 461.1L417.8 461.1L418.4 461.1L419.1 461.1L419.8 461.1L420.4 461.1L421.1 461.1L421.8 461.1L422.5 461.1L423.1 461.1L423.8 461.1L424.5 461.1L425.1 461.1L425.8 461.1L426.5 461.1L427.2 461.1L427.8 461.1L428.5 461.1L429.2 461.1L429.9 461.1L430.5 461.1L431.2 461.1L431.9 461.1L432.5 461.1L433.2 461.1L433.9 461.1L434.6 461.1L435.2 461.1L435.9 461.1L436.6 461.1L437.2 461.1L437.9 461.1L438.6 461.1L439.3 461.1L439.9 461.1L440.6 461.1L441.3 461.1L441.9 461.1L442.6 461.1L443.3 461.1L444.0 461.1L444.6 461.1L445.3 461.1L446.0 461.1L446.7 461.1L447.3 461.1L448.0 461.1L448.7 461.1L449.3 461.1L450.0 461.1L450.7 461.1L451.4 461.1L452.0 461.1L452.7 461.1L453.4 461.0L454.0 461.0L454.7 461.0L455.4 461.0L456.1 461.0L456.7 461.0L457.4 461.0L458.1 461.0L458.7 461.0L459.4 461.0L460.1 461.0L460.8 461.0L461.4 461.0L462.1 461.0L462.8 460.9L463.5 460.9L464.1 460.9L464.8 460.9L465.5 460.9L466.1 460.9L466.8 460.9L467.5 460.8L468.2 460.8L468.8 460.8L469.5 460.8L470.2 460.7L470.8 460.7L471.5 460.7L472.2 460.6L472.9 460.6L473.5 460.6L474.2 460.5L474.9 460.5L475.5 460.4L476.2 460.4L476.9 460.3L477.6 460.3L478.2 460.2L478.9 460.1L479.6 460.0L480.3 459.9L480.9 459.8L481.6 459.7L482.3 459.6L482.9 459.5L483.6 459.4L484.3 459.3L485.0 459.1L485.6 459.0L486.3 458.8L487.0 458.6L487.6 458.4L488.3 458.2L489.0 457.9L489.7 457.7L490.3 457.4L491.0 457.1L491.7 456.8L492.3 456.5L493.0 456.1L493.7 455.7L494.4 455.3L495.0 454.9L495.7 454.4L496.4 453.9L497.1 453.3L497.7 452.7L498.4 452.1L499.1 451.4L499.7 450.7L500.4 449.9L501.1 449.1L501.8 448.2L502.4 447.2L503.1 446.2L503.8 445.2L504.4 444.1L505.1 442.9L505.8 441.6L506.5 440.3L507.1 438.8L507.8 437.4L508.5 435.8L509.1 434.2L509.8 432.4L510.5 430.7L511.2 428.8L511.8 426.8L512.5 424.8L513.2 422.7L513.9 420.6L514.5 418.4L515.2 416.1L515.9 413.8L516.5 411.4L517.2 408.9L517.9 406.5L518.6 404.0L519.2 401.4L519.9 398.9L520.6 396.3L521.2 393.8L521.9 391.2L522.6 388.7L523.3 386.2L523.9 383.7L524.6 381.3L525.3 378.9L525.9 376.5L526.6 374.2L527.3 372.0L528.0 369.8L528.6 367.7L529.3 365.7L530.0 363.7L530.7 361.9L531.3 360.1L532.0 358.3L532.7 356.7L533.3 355.1L534.0 353.6L534.7 352.2L535.4 350.9L536.0 349.6L536.7 348.4L537.4 347.3L538.0 346.3L538.7 345.3L539.4 344.4L540.1 343.5L540.7 342.7L541.4 341.9L542.1 341.2L542.7 340.6L543.4 340.0L544.1 339.5L544.8 338.9L545.4 338.5L546.1 338.1L546.8 337.7L547.5 337.3L548.1 337.0L548.8 336.7L549.5 336.5L550.1 336.3L550.8 336.1L551.5 335.9L552.2 335.7L552.8 335.6L553.5 335.5L554.2 335.5L554.8 335.4L555.5 335.4L556.2 335.4L556.9 335.4L557.5 335.4L558.2 335.5L558.9 335.6L559.5 335.7L560.2 335.8L560.9 335.9L561.6 336.1L562.2 336.3L562.9 336.5L563.6 336.7L564.3 336.9L564.9 337.2L565.6 337.4L566.3 337.7L566.9 338.1L567.6 338.4L568.3 338.8L569.0 339.2L569.6 339.6L570.3 340.0L571.0 340.5L571.6 341.0L572.3 341.5L573.0 342.0L573.7 342.6L574.3 343.2L575.0 343.8L575.7 344.5L576.3 345.2L577.0 345.9L577.7 346.7L578.4 347.5L579.0 348.3L579.7 349.2L580.4 350.1L581.1 351.0L581.7 352.0L582.4 353.0L583.1 354.1L583.7 355.2L584.4 356.3L585.1 357.5L585.8 358.7L586.4 360.0L587.1 361.3L587.8 362.6L588.4 364.0L589.1 365.4L589.8 366.9L590.5 368.3L591.1 369.9L591.8 371.4L592.5 373.0L593.1 374.6L593.8 376.3L594.5 378.0L595.2 379.7L595.8 381.4L596.5 383.2L597.2 384.9L597.9 386.7L598.5 388.5L599.2 390.3L599.9 392.2L600.5 394.0L601.2 395.8L601.9 397.7L602.6 399.5L603.2 401.3L603.9 403.1L604.6 404.9L605.2 406.7L605.9 408.5L606.6 410.2L607.3 412.0L607.9 413.7L608.6 415.3L609.3 417.0L609.9 418.6L610.6 420.2L611.3 421.8L612.0 423.3L612.6 424.8L613.3 426.2L614.0 427.6L614.7 429.0L615.3 430.4L616.0 431.7L616.7 432.9L617.3 434.1L618.0 435.3L618.7 436.5L619.4 437.6L620.0 438.6L620.7 439.6L621.4 440.6L622.0 441.6L622.7 442.5L623.4 443.4L624.1 444.2L624.7 445.0L625.4 445.8L626.1 446.5L626.7 447.2L627.4 447.9L628.1 448.6L628.8 449.2L629.4 449.8L630.1 450.4L630.8 450.9L631.5 451.4L632.1 451.9L632.8 452.4L633.5 452.8L634.1 453.2L634.8 453.6L635.5 454.0L636.2 454.4L636.8 454.7L637.5 455.1L638.2 455.4L638.8 455.7L639.5 456.0L640.2 456.2L640.9 456.5L641.5 456.7L642.2 457.0L642.9 457.2L643.5 457.4L644.2 457.6L644.9 457.8L645.6 458.0L646.2 458.1L646.9 458.3L647.6 458.4L648.3 458.6L648.9 458.7L649.6 458.8L650.3 459.0L650.9 459.1L651.6 459.2L652.3 459.3L653.0 459.4L653.6 459.5L654.3 459.6L655.0 459.6L655.6 459.7L656.3 459.8L657.0 459.9L657.7 459.9L658.3 460.0L659.0 460.1L659.7 460.1L660.3 460.2L661.0 460.2L661.7 460.3L662.4 460.3L663.0 460.4L663.7 460.4L664.4 460.4L665.1 460.5L665.7 460.5L666.4 460.5L667.1 460.6L667.7 460.6L668.4 460.6L669.1 460.6L669.8 460.7L670.4 460.7L671.1 460.7" fill="none" stroke="#0000ff" stroke-width="2.2" stroke-dasharray="1.70 5.10 6.80 5.10"/>
<path d="M402.3 461.1L403.0 461.1L403.6 461.1L404.3 461.1L405.0 461.1L405.7 461.1L406.3 461.1L407.0 461.1L407.7 461.1L408.3 461.1L409.0 461.1L409.7 461.1L410.4 461.1L411.0 461.1L411.7 461.1L412.4 461.1L413.1 461.1L413.7 461.1L414.4 461.1L415.1 461.1L415.7 461.1L416.4 461.1L417.1 461.1L417.8 461.1L418.4 461.1L419.1 461.1L419.8 461.1L420.4 461.1L421.1 461.1L421.8 461.1L422.5 461.1L423.1 461.1L423.8 461.1L424.5 461.1L425.1 461.1L425.8 461.1L426.5 461.1L427.2 461.1L427.8 461.1L428.5 461.1L429.2 461.1L429.9 461.1L430.5 461.1L431.2 461.1L431.9 461.1L432.5 461.1L433.2 461.1L433.9 461.1L434.6 461.0L435.2 461.0L435.9 461.0L436.6 461.0L437.2 461.0L437.9 461.0L438.6 461.0L439.3 461.0L439.9 461.0L440.6 461.0L441.3 461.0L441.9 461.0L442.6 461.0L443.3 461.0L444.0 461.0L444.6 461.0L445.3 461.0L446.0 461.0L446.7 461.0L447.3 461.0L448.0 461.0L448.7 460.9L449.3 460.9L450.0 460.9L450.7 460.9L451.4 460.9L452.0 460.9L452.7 460.9L453.4 460.9L454.0 460.9L454.7 460.8L455.4 460.8L456.1 460.8L456.7 460.8L457.4 460.8L458.1 460.8L458.7 460.8L459.4 460.7L460.1 460.7L460.8 460.7L461.4 460.7L462.1 460.7L462.8 460.6L463.5 460.6L464.1 460.6L464.8 460.5L465.5 460.5L466.1 460.5L466.8 460.5L467.5 460.4L468.2 460.4L468.8 460.3L469.5 460.3L470.2 460.3L470.8 460.2L471.5 460.2L472.2 460.1L472.9 460.1L473.5 460.0L474.2 460.0L474.9 459.9L475.5 459.8L476.2 459.8L476.9 459.7L477.6 459.6L478.2 459.5L478.9 459.5L479.6 459.4L480.3 459.3L480.9 459.2L481.6 459.1L482.3 459.0L482.9 458.9L483.6 458.7L484.3 458.6L485.0 458.5L485.6 458.4L486.3 458.2L487.0 458.1L487.6 457.9L488.3 457.7L489.0 457.6L489.7 457.4L490.3 457.2L491.0 457.0L491.7 456.8L492.3 456.5L493.0 456.3L493.7 456.1L494.4 455.8L495.0 455.5L495.7 455.2L496.4 454.9L497.1 454.6L497.7 454.3L498.4 454.0L499.1 453.6L499.7 453.2L500.4 452.8L501.1 452.4L501.8 452.0L502.4 451.5L503.1 451.0L503.8 450.5L504.4 450.0L505.1 449.5L505.8 448.9L506.5 448.3L507.1 447.7L507.8 447.0L508.5 446.4L509.1 445.7L509.8 444.9L510.5 444.2L511.2 443.4L511.8 442.6L512.5 441.7L513.2 440.8L513.9 439.9L514.5 438.9L515.2 438.0L515.9 436.9L516.5 435.9L517.2 434.8L517.9 433.6L518.6 432.5L519.2 431.2L519.9 430.0L520.6 428.7L521.2 427.4L521.9 426.0L522.6 424.6L523.3 423.2L523.9 421.7L524.6 420.2L525.3 418.7L525.9 417.2L526.6 415.6L527.3 414.0L528.0 412.3L528.6 410.7L529.3 409.0L530.0 407.3L530.7 405.6L531.3 403.9L532.0 402.2L532.7 400.4L533.3 398.7L534.0 397.0L534.7 395.3L535.4 393.6L536.0 391.9L536.7 390.3L537.4 388.6L538.0 387.0L538.7 385.5L539.4 384.0L540.1 382.5L540.7 381.1L541.4 379.8L542.1 378.5L542.7 377.3L543.4 376.1L544.1 375.0L544.8 374.1L545.4 373.1L546.1 372.3L546.8 371.6L547.5 370.9L548.1 370.4L548.8 369.9L549.5 369.6L550.1 369.3L550.8 369.2L551.5 369.1L552.2 369.1L552.8 369.3L553.5 369.5L554.2 369.8L554.8 370.2L555.5 370.7L556.2 371.3L556.9 372.0L557.5 372.7L558.2 373.6L558.9 374.5L559.5 375.4L560.2 376.5L560.9 377.6L561.6 378.7L562.2 379.9L562.9 381.2L563.6 382.5L564.3 383.8L564.9 385.2L565.6 386.6L566.3 388.0L566.9 389.5L567.6 391.0L568.3 392.5L569.0 394.0L569.6 395.5L570.3 397.0L571.0 398.5L571.6 400.0L572.3 401.6L573.0 403.1L573.7 404.6L574.3 406.1L575.0 407.5L575.7 409.0L576.3 410.5L577.0 411.9L577.7 413.3L578.4 414.7L579.0 416.0L579.7 417.4L580.4 418.7L581.1 420.0L581.7 421.3L582.4 422.5L583.1 423.7L583.7 424.9L584.4 426.1L585.1 427.2L585.8 428.3L586.4 429.4L587.1 430.4L587.8 431.5L588.4 432.4L589.1 433.4L589.8 434.4L590.5 435.3L591.1 436.2L591.8 437.0L592.5 437.9L593.1 438.7L593.8 439.5L594.5 440.2L595.2 441.0L595.8 441.7L596.5 442.4L597.2 443.0L597.9 443.7L598.5 444.3L599.2 444.9L599.9 445.5L600.5 446.1L601.2 446.6L601.9 447.1L602.6 447.7L603.2 448.2L603.9 448.6L604.6 449.1L605.2 449.5L605.9 450.0L606.6 450.4L607.3 450.8L607.9 451.2L608.6 451.5L609.3 451.9L609.9 452.2L610.6 452.6L611.3 452.9L612.0 453.2L612.6 453.5L613.3 453.8L614.0 454.1L614.7 454.3L615.3 454.6L616.0 454.8L616.7 455.1L617.3 455.3L618.0 455.5L618.7 455.7L619.4 455.9L620.0 456.1L620.7 456.3L621.4 456.5L622.0 456.7L622.7 456.8L623.4 457.0L624.1 457.2L624.7 457.3L625.4 457.5L626.1 457.6L626.7 457.7L627.4 457.9L628.1 458.0L628.8 458.1L629.4 458.2L630.1 458.3L630.8 458.4L631.5 458.5L632.1 458.6L632.8 458.7L633.5 458.8L634.1 458.9L634.8 459.0L635.5 459.1L636.2 459.2L636.8 459.2L637.5 459.3L638.2 459.4L638.8 459.4L639.5 459.5L640.2 459.6L640.9 459.6L641.5 459.7L642.2 459.7L642.9 459.8L643.5 459.8L644.2 459.9L644.9 459.9L645.6 460.0L646.2 460.0L646.9 460.1L647.6 460.1L648.3 460.1L648.9 460.2L649.6 460.2L650.3 460.3L650.9 460.3L651.6 460.3L652.3 460.3L653.0 460.4L653.6 460.4L654.3 460.4L655.0 460.5L655.6 460.5L656.3 460.5L657.0 460.5L657.7 460.6L658.3 460.6L659.0 460.6L659.7 460.6L660.3 460.6L661.0 460.7L661.7 460.7L662.4 460.7L663.0 460.7L663.7 460.7L664.4 460.7L665.1 460.7L665.7 460.8L666.4 460.8L667.1 460.8L667.7 460.8L668.4 460.8L669.1 460.8L669.8 460.8L670.4 460.8L671.1 460.9" fill="none" stroke="#0000ff" stroke-width="2.2" stroke-dasharray="1.70 5.10 6.80 5.10"/>
<path d="M402.3 461.1L403.0 461.1L403.6 461.1L404.3 461.1L405.0 461.1L405.7 461.1L406.3 461.1L407.0 461.1L407.7 461.1L408.3 461.1L409.0 461.1L409.7 461.1L410.4 461.1L411.0 461.1L411.7 461.1L412.4 461.1L413.1 461.1L413.7 461.1L414.4 461.1L415.1 461.1L415.7 461.1L416.4 461.1L417.1 461.1L417.8 461.1L418.4 461.1L419.1 461.1L419.8 461.1L420.4 461.1L421.1 461.1L421.8 461.1L422.5 461.1L423.1 461.1L423.8 461.1L424.5 461.1L425.1 461.1L425.8 461.1L426.5 461.1L427.2 461.1L427.8 461.1L428.5 461.1L429.2 461.1L429.9 461.1L430.5 461.1L431.2 461.1L431.9 461.1L432.5 461.1L433.2 461.1L433.9 461.1L434.6 461.1L435.2 461.1L435.9 461.1L436.6 461.1L437.2 461.1L437.9 461.1L438.6 461.1L439.3 461.1L439.9 461.1L440.6 461.1L441.3 461.1L441.9 461.1L442.6 461.1L443.3 461.1L444.0 461.1L444.6 461.1L445.3 461.1L446.0 461.1L446.7 461.1L447.3 461.1L448.0 461.1L448.7 461.1L449.3 461.1L450.0 461.1L450.7 461.1L451.4 461.1L452.0 461.0L452.7 461.0L453.4 461.0L454.0 461.0L454.7 461.0L455.4 461.0L456.1 461.0L456.7 461.0L457.4 461.0L458.1 461.0L458.7 461.0L459.4 461.0L460.1 461.0L460.8 461.0L461.4 461.0L462.1 461.0L462.8 461.0L463.5 461.0L464.1 460.9L464.8 460.9L465.5 460.9L466.1 460.9L466.8 460.9L467.5 460.9L468.2 460.9L468.8 460.9L469.5 460.8L470.2 460.8L470.8 460.8L471.5 460.8L472.2 460.8L472.9 460.8L473.5 460.7L474.2 460.7L474.9 460.7L475.5 460.7L476.2 460.6L476.9 460.6L477.6 460.6L478.2 460.5L478.9 460.5L479.6 460.5L480.3 460.4L480.9 460.4L481.6 460.4L482.3 460.3L482.9 460.3L483.6 460.2L484.3 460.1L485.0 460.1L485.6 460.0L486.3 460.0L487.0 459.9L487.6 459.8L488.3 459.7L489.0 459.7L489.7 459.6L490.3 459.5L491.0 459.4L491.7 459.3L492.3 459.2L493.0 459.0L493.7 458.9L494.4 458.8L495.0 458.7L495.7 458.5L496.4 458.4L497.1 458.2L497.7 458.0L498.4 457.8L499.1 457.6L499.7 457.4L500.4 457.2L501.1 457.0L501.8 456.8L502.4 456.5L503.1 456.3L503.8 456.0L504.4 455.7L505.1 455.4L505.8 455.1L506.5 454.8L507.1 454.4L507.8 454.0L508.5 453.7L509.1 453.3L509.8 452.9L510.5 452.4L511.2 452.0L511.8 451.5L512.5 451.0L513.2 450.5L513.9 450.0L514.5 449.5L515.2 448.9L515.9 448.3L516.5 447.7L517.2 447.1L517.9 446.5L518.6 445.8L519.2 445.2L519.9 444.5L520.6 443.8L521.2 443.1L521.9 442.4L522.6 441.6L523.3 440.9L523.9 440.1L524.6 439.4L525.3 438.6L525.9 437.8L526.6 437.0L527.3 436.2L528.0 435.4L528.6 434.6L529.3 433.9L530.0 433.1L530.7 432.3L531.3 431.5L532.0 430.7L532.7 430.0L533.3 429.2L534.0 428.5L534.7 427.7L535.4 427.0L536.0 426.3L536.7 425.6L537.4 424.9L538.0 424.3L538.7 423.6L539.4 423.0L540.1 422.4L540.7 421.8L541.4 421.2L542.1 420.7L542.7 420.1L543.4 419.6L544.1 419.1L544.8 418.6L545.4 418.2L546.1 417.7L546.8 417.3L547.5 416.9L548.1 416.5L548.8 416.2L549.5 415.8L550.1 415.5L550.8 415.1L551.5 414.8L552.2 414.5L552.8 414.3L553.5 414.0L554.2 413.7L554.8 413.5L555.5 413.3L556.2 413.1L556.9 412.9L557.5 412.7L558.2 412.5L558.9 412.3L559.5 412.2L560.2 412.0L560.9 411.9L561.6 411.8L562.2 411.6L562.9 411.5L563.6 411.4L564.3 411.3L564.9 411.2L565.6 411.1L566.3 411.1L566.9 411.0L567.6 410.9L568.3 410.9L569.0 410.8L569.6 410.7L570.3 410.7L571.0 410.7L571.6 410.6L572.3 410.6L573.0 410.6L573.7 410.6L574.3 410.5L575.0 410.5L575.7 410.5L576.3 410.5L577.0 410.5L577.7 410.5L578.4 410.5L579.0 410.5L579.7 410.5L580.4 410.5L581.1 410.6L581.7 410.6L582.4 410.6L583.1 410.6L583.7 410.7L584.4 410.7L585.1 410.8L585.8 410.8L586.4 410.8L587.1 410.9L587.8 410.9L588.4 411.0L589.1 411.1L589.8 411.1L590.5 411.2L591.1 411.3L591.8 411.3L592.5 411.4L593.1 411.5L593.8 411.6L594.5 411.7L595.2 411.8L595.8 411.9L596.5 412.0L597.2 412.1L597.9 412.2L598.5 412.3L599.2 412.4L599.9 412.6L600.5 412.7L601.2 412.8L601.9 413.0L602.6 413.1L603.2 413.3L603.9 413.4L604.6 413.6L605.2 413.8L605.9 414.0L606.6 414.2L607.3 414.3L607.9 414.5L608.6 414.7L609.3 415.0L609.9 415.2L610.6 415.4L611.3 415.6L612.0 415.9L612.6 416.1L613.3 416.4L614.0 416.6L614.7 416.9L615.3 417.2L616.0 417.5L616.7 417.8L617.3 418.1L618.0 418.4L618.7 418.7L619.4 419.0L620.0 419.4L620.7 419.7L621.4 420.1L622.0 420.4L622.7 420.8L623.4 421.2L624.1 421.6L624.7 422.0L625.4 422.4L626.1 422.8L626.7 423.2L627.4 423.6L628.1 424.1L628.8 424.5L629.4 425.0L630.1 425.4L630.8 425.9L631.5 426.4L632.1 426.9L632.8 427.3L633.5 427.8L634.1 428.3L634.8 428.8L635.5 429.3L636.2 429.9L636.8 430.4L637.5 430.9L638.2 431.4L638.8 431.9L639.5 432.5L640.2 433.0L640.9 433.5L641.5 434.1L642.2 434.6L642.9 435.1L643.5 435.7L644.2 436.2L644.9 436.7L645.6 437.3L646.2 437.8L646.9 438.3L647.6 438.9L648.3 439.4L648.9 439.9L649.6 440.4L650.3 440.9L650.9 441.4L651.6 441.9L652.3 442.4L653.0 442.9L653.6 443.4L654.3 443.9L655.0 444.4L655.6 444.8L656.3 445.3L657.0 445.7L657.7 446.2L658.3 446.6L659.0 447.0L659.7 447.4L660.3 447.9L661.0 448.3L661.7 448.7L662.4 449.0L663.0 449.4L663.7 449.8L664.4 450.1L665.1 450.5L665.7 450.8L666.4 451.2L667.1 451.5L667.7 451.8L668.4 452.1L669.1 452.4L669.8 452.7L670.4 453.0L671.1 453.3" fill="none" stroke="#0000ff" stroke-width="2.2" stroke-dasharray="1.70 5.10 6.80 5.10"/>
<path d="M402.3 461.1L403.0 461.1L403.6 461.1L404.3 461.1L405.0 461.1L405.7 461.1L406.3 461.1L407.0 461.1L407.7 461.1L408.3 461.1L409.0 461.1L409.7 461.1L410.4 461.1L411.0 461.1L411.7 461.1L412.4 461.1L413.1 461.1L413.7 461.1L414.4 461.1L415.1 461.1L415.7 461.1L416.4 461.1L417.1 461.1L417.8 461.1L418.4 461.1L419.1 461.1L419.8 461.1L420.4 461.1L421.1 461.1L421.8 461.1L422.5 461.1L423.1 461.1L423.8 461.1L424.5 461.1L425.1 461.1L425.8 461.1L426.5 461.1L427.2 461.1L427.8 461.1L428.5 461.1L429.2 461.1L429.9 461.1L430.5 461.1L431.2 461.1L431.9 461.1L432.5 461.1L433.2 461.1L433.9 461.1L434.6 461.1L435.2 461.1L435.9 461.1L436.6 461.1L437.2 461.1L437.9 461.1L438.6 461.1L439.3 461.1L439.9 461.1L440.6 461.1L441.3 461.1L441.9 461.1L442.6 461.1L443.3 461.1L444.0 461.1L444.6 461.1L445.3 461.1L446.0 461.1L446.7 461.1L447.3 461.1L448.0 461.1L448.7 461.1L449.3 461.1L450.0 461.1L450.7 461.1L451.4 461.1L452.0 461.1L452.7 461.1L453.4 461.1L454.0 461.1L454.7 461.1L455.4 461.1L456.1 461.1L456.7 461.1L457.4 461.1L458.1 461.1L458.7 461.0L459.4 461.0L460.1 461.0L460.8 461.0L461.4 461.0L462.1 461.0L462.8 461.0L463.5 461.0L464.1 461.0L464.8 461.0L465.5 461.0L466.1 461.0L466.8 461.0L467.5 461.0L468.2 461.0L468.8 461.0L469.5 461.0L470.2 461.0L470.8 460.9L471.5 460.9L472.2 460.9L472.9 460.9L473.5 460.9L474.2 460.9L474.9 460.9L475.5 460.9L476.2 460.8L476.9 460.8L477.6 460.8L478.2 460.8L478.9 460.8L479.6 460.8L480.3 460.7L480.9 460.7L481.6 460.7L482.3 460.7L482.9 460.6L483.6 460.6L484.3 460.6L485.0 460.5L485.6 460.5L486.3 460.5L487.0 460.4L487.6 460.4L488.3 460.3L489.0 460.3L489.7 460.2L490.3 460.2L491.0 460.1L491.7 460.0L492.3 460.0L493.0 459.9L493.7 459.8L494.4 459.8L495.0 459.7L495.7 459.6L496.4 459.5L497.1 459.4L497.7 459.3L498.4 459.2L499.1 459.1L499.7 458.9L500.4 458.8L501.1 458.7L501.8 458.5L502.4 458.4L503.1 458.2L503.8 458.0L504.4 457.8L505.1 457.7L505.8 457.4L506.5 457.2L507.1 457.0L507.8 456.8L508.5 456.5L509.1 456.3L509.8 456.0L510.5 455.7L511.2 455.4L511.8 455.1L512.5 454.8L513.2 454.4L513.9 454.1L514.5 453.7L515.2 453.3L515.9 452.9L516.5 452.5L517.2 452.1L517.9 451.6L518.6 451.2L519.2 450.7L519.9 450.2L520.6 449.7L521.2 449.2L521.9 448.7L522.6 448.1L523.3 447.6L523.9 447.0L524.6 446.4L525.3 445.8L525.9 445.2L526.6 444.6L527.3 444.0L528.0 443.4L528.6 442.8L529.3 442.2L530.0 441.5L530.7 440.9L531.3 440.3L532.0 439.6L532.7 439.0L533.3 438.4L534.0 437.8L534.7 437.2L535.4 436.6L536.0 436.0L536.7 435.4L537.4 434.8L538.0 434.2L538.7 433.7L539.4 433.1L540.1 432.6L540.7 432.1L541.4 431.6L542.1 431.1L542.7 430.6L543.4 430.2L544.1 429.7L544.8 429.3L545.4 428.9L546.1 428.5L546.8 428.1L547.5 427.8L548.1 427.4L548.8 427.1L549.5 426.8L550.1 426.4L550.8 426.1L551.5 425.9L552.2 425.6L552.8 425.3L553.5 425.1L554.2 424.9L554.8 424.6L555.5 424.4L556.2 424.2L556.9 424.1L557.5 423.9L558.2 423.7L558.9 423.5L559.5 423.4L560.2 423.3L560.9 423.1L561.6 423.0L562.2 422.9L562.9 422.8L563.6 422.7L564.3 422.6L564.9 422.5L565.6 422.4L566.3 422.3L566.9 422.2L567.6 422.1L568.3 422.1L569.0 422.0L569.6 422.0L570.3 421.9L571.0 421.8L571.6 421.8L572.3 421.8L573.0 421.7L573.7 421.7L574.3 421.7L575.0 421.6L575.7 421.6L576.3 421.6L577.0 421.6L577.7 421.5L578.4 421.5L579.0 421.5L579.7 421.5L580.4 421.5L581.1 421.5L581.7 421.5L582.4 421.5L583.1 421.5L583.7 421.5L584.4 421.5L585.1 421.5L585.8 421.5L586.4 421.6L587.1 421.6L587.8 421.6L588.4 421.6L589.1 421.7L589.8 421.7L590.5 421.7L591.1 421.8L591.8 421.8L592.5 421.9L593.1 421.9L593.8 422.0L594.5 422.0L595.2 422.1L595.8 422.2L596.5 422.3L597.2 422.3L597.9 422.4L598.5 422.5L599.2 422.6L599.9 422.7L600.5 422.8L601.2 422.9L601.9 423.1L602.6 423.2L603.2 423.3L603.9 423.5L604.6 423.6L605.2 423.8L605.9 423.9L606.6 424.1L607.3 424.3L607.9 424.5L608.6 424.7L609.3 425.0L609.9 425.2L610.6 425.4L611.3 425.7L612.0 426.0L612.6 426.2L613.3 426.5L614.0 426.8L614.7 427.2L615.3 427.5L616.0 427.9L616.7 428.2L617.3 428.6L618.0 429.0L618.7 429.4L619.4 429.8L620.0 430.3L620.7 430.7L621.4 431.2L622.0 431.7L622.7 432.2L623.4 432.7L624.1 433.2L624.7 433.8L625.4 434.3L626.1 434.9L626.7 435.4L627.4 436.0L628.1 436.6L628.8 437.2L629.4 437.8L630.1 438.4L630.8 439.0L631.5 439.7L632.1 440.3L632.8 440.9L633.5 441.5L634.1 442.1L634.8 442.8L635.5 443.4L636.2 444.0L636.8 444.6L637.5 445.2L638.2 445.8L638.8 446.4L639.5 446.9L640.2 447.5L640.9 448.1L641.5 448.6L642.2 449.1L642.9 449.6L643.5 450.1L644.2 450.6L644.9 451.1L645.6 451.5L646.2 452.0L646.9 452.4L647.6 452.8L648.3 453.2L648.9 453.6L649.6 454.0L650.3 454.3L650.9 454.7L651.6 455.0L652.3 455.3L653.0 455.6L653.6 455.9L654.3 456.2L655.0 456.4L655.6 456.7L656.3 456.9L657.0 457.2L657.7 457.4L658.3 457.6L659.0 457.8L659.7 457.9L660.3 458.1L661.0 458.3L661.7 458.4L662.4 458.6L663.0 458.7L663.7 458.9L664.4 459.0L665.1 459.1L665.7 459.2L666.4 459.3L667.1 459.4L667.7 459.5L668.4 459.6L669.1 459.7L669.8 459.8L670.4 459.9L671.1 459.9" fill="none" stroke="#0000ff" stroke-width="2.2" stroke-dasharray="1.70 5.10 6.80 5.10"/>
<path d="M402.3 461.1L403.0 461.1L403.6 461.1L404.3 461.1L405.0 461.1L405.7 461.1L406.3 461.1L407.0 461.1L407.7 461.1L408.3 461.1L409.0 461.1L409.7 461.1L410.4 461.1L411.0 461.1L411.7 461.1L412.4 461.1L413.1 461.1L413.7 461.1L414.4 461.1L415.1 461.1L415.7 461.1L416.4 461.1L417.1 461.1L417.8 461.1L418.4 461.1L419.1 461.1L419.8 461.1L420.4 461.1L421.1 461.1L421.8 461.1L422.5 461.1L423.1 461.1L423.8 461.1L424.5 461.1L425.1 461.1L425.8 461.1L426.5 461.1L427.2 461.1L427.8 461.1L428.5 461.1L429.2 461.1L429.9 461.1L430.5 461.1L431.2 461.1L431.9 461.1L432.5 461.1L433.2 461.1L433.9 461.1L434.6 461.1L435.2 461.1L435.9 461.1L436.6 461.1L437.2 461.1L437.9 461.1L438.6 461.1L439.3 461.1L439.9 461.1L440.6 461.1L441.3 461.1L441.9 461.1L442.6 461.1L443.3 461.1L444.0 461.1L444.6 461.1L445.3 461.1L446.0 461.1L446.7 461.1L447.3 461.1L448.0 461.1L448.7 461.1L449.3 461.1L450.0 461.0L450.7 461.0L451.4 461.0L452.0 461.0L452.7 461.0L453.4 461.0L454.0 461.0L454.7 461.0L455.4 461.0L456.1 461.0L456.7 461.0L457.4 461.0L458.1 461.0L458.7 461.0L459.4 461.0L460.1 461.0L460.8 461.0L461.4 461.0L462.1 461.0L462.8 460.9L463.5 460.9L464.1 460.9L464.8 460.9L465.5 460.9L466.1 460.9L466.8 460.9L467.5 460.9L468.2 460.9L468.8 460.8L469.5 460.8L470.2 460.8L470.8 460.8L471.5 460.8L472.2 460.8L472.9 460.7L473.5 460.7L474.2 460.7L474.9 460.7L475.5 460.6L476.2 460.6L476.9 460.6L477.6 460.5L478.2 460.5L478.9 460.5L479.6 460.4L480.3 460.4L480.9 460.4L481.6 460.3L482.3 460.3L482.9 460.2L483.6 460.2L484.3 460.1L485.0 460.1L485.6 460.0L486.3 459.9L487.0 459.9L487.6 459.8L488.3 459.7L489.0 459.6L489.7 459.5L490.3 459.4L491.0 459.4L491.7 459.2L492.3 459.1L493.0 459.0L493.7 458.9L494.4 458.8L495.0 458.6L495.7 458.5L496.4 458.4L497.1 458.2L497.7 458.0L498.4 457.9L499.1 457.7L499.7 457.5L500.4 457.3L501.1 457.1L501.8 456.9L502.4 456.6L503.1 456.4L503.8 456.1L504.4 455.8L505.1 455.6L505.8 455.3L506.5 455.0L507.1 454.6L507.8 454.3L508.5 453.9L509.1 453.6L509.8 453.2L510.5 452.8L511.2 452.4L511.8 451.9L512.5 451.5L513.2 451.0L513.9 450.5L514.5 450.0L515.2 449.5L515.9 449.0L516.5 448.4L517.2 447.9L517.9 447.3L518.6 446.7L519.2 446.1L519.9 445.5L520.6 444.8L521.2 444.2L521.9 443.5L522.6 442.8L523.3 442.1L523.9 441.4L524.6 440.7L525.3 440.0L525.9 439.3L526.6 438.5L527.3 437.8L528.0 437.1L528.6 436.3L529.3 435.6L530.0 434.9L530.7 434.1L531.3 433.4L532.0 432.6L532.7 431.9L533.3 431.2L534.0 430.5L534.7 429.8L535.4 429.1L536.0 428.4L536.7 427.7L537.4 427.1L538.0 426.4L538.7 425.8L539.4 425.2L540.1 424.6L540.7 424.0L541.4 423.5L542.1 422.9L542.7 422.4L543.4 421.8L544.1 421.3L544.8 420.9L545.4 420.4L546.1 419.9L546.8 419.5L547.5 419.1L548.1 418.7L548.8 418.3L549.5 417.9L550.1 417.6L550.8 417.2L551.5 416.9L552.2 416.6L552.8 416.3L553.5 416.0L554.2 415.8L554.8 415.5L555.5 415.3L556.2 415.0L556.9 414.8L557.5 414.6L558.2 414.4L558.9 414.2L559.5 414.0L560.2 413.9L560.9 413.7L561.6 413.6L562.2 413.4L562.9 413.3L563.6 413.2L564.3 413.0L564.9 412.9L565.6 412.8L566.3 412.7L566.9 412.6L567.6 412.6L568.3 412.5L569.0 412.4L569.6 412.4L570.3 412.3L571.0 412.3L571.6 412.2L572.3 412.2L573.0 412.1L573.7 412.1L574.3 412.1L575.0 412.1L575.7 412.1L576.3 412.0L577.0 412.0L577.7 412.0L578.4 412.1L579.0 412.1L579.7 412.1L580.4 412.1L581.1 412.2L581.7 412.2L582.4 412.3L583.1 412.3L583.7 412.4L584.4 412.4L585.1 412.5L585.8 412.6L586.4 412.7L587.1 412.8L587.8 412.9L588.4 413.0L589.1 413.2L589.8 413.3L590.5 413.5L591.1 413.7L591.8 413.8L592.5 414.0L593.1 414.2L593.8 414.5L594.5 414.7L595.2 415.0L595.8 415.2L596.5 415.5L597.2 415.9L597.9 416.2L598.5 416.5L599.2 416.9L599.9 417.3L600.5 417.7L601.2 418.2L601.9 418.6L602.6 419.1L603.2 419.6L603.9 420.2L604.6 420.7L605.2 421.3L605.9 421.9L606.6 422.6L607.3 423.2L607.9 423.9L608.6 424.6L609.3 425.4L609.9 426.1L610.6 426.9L611.3 427.7L612.0 428.5L612.6 429.4L613.3 430.2L614.0 431.1L614.7 432.0L615.3 432.9L616.0 433.8L616.7 434.7L617.3 435.6L618.0 436.5L618.7 437.4L619.4 438.3L620.0 439.2L620.7 440.1L621.4 441.0L622.0 441.9L622.7 442.7L623.4 443.6L624.1 444.4L624.7 445.2L625.4 445.9L626.1 446.7L626.7 447.4L627.4 448.1L628.1 448.8L628.8 449.5L629.4 450.1L630.1 450.7L630.8 451.3L631.5 451.9L632.1 452.4L632.8 452.9L633.5 453.4L634.1 453.9L634.8 454.3L635.5 454.7L636.2 455.1L636.8 455.5L637.5 455.8L638.2 456.2L638.8 456.5L639.5 456.8L640.2 457.0L640.9 457.3L641.5 457.5L642.2 457.8L642.9 458.0L643.5 458.2L644.2 458.4L644.9 458.6L645.6 458.7L646.2 458.9L646.9 459.0L647.6 459.2L648.3 459.3L648.9 459.4L649.6 459.5L650.3 459.6L650.9 459.7L651.6 459.8L652.3 459.9L653.0 460.0L653.6 460.1L654.3 460.2L655.0 460.2L655.6 460.3L656.3 460.3L657.0 460.4L657.7 460.4L658.3 460.5L659.0 460.5L659.7 460.6L660.3 460.6L661.0 460.6L661.7 460.7L662.4 460.7L663.0 460.7L663.7 460.8L664.4 460.8L665.1 460.8L665.7 460.8L666.4 460.8L667.1 460.9L667.7 460.9L668.4 460.9L669.1 460.9L669.8 460.9L670.4 460.9L671.1 460.9" fill="none" stroke="#0000ff" stroke-width="2.2" stroke-dasharray="1.70 5.10 6.80 5.10"/>
<path d="M402.3 461.1L403.0 461.1L403.6 461.1L404.3 461.1L405.0 461.1L405.7 461.1L406.3 461.1L407.0 461.1L407.7 461.1L408.3 461.1L409.0 461.1L409.7 461.1L410.4 461.1L411.0 461.1L411.7 461.1L412.4 461.1L413.1 461.1L413.7 461.1L414.4 461.1L415.1 461.1L415.7 461.1L416.4 461.1L417.1 461.1L417.8 461.1L418.4 461.1L419.1 461.1L419.8 461.1L420.4 461.1L421.1 461.1L421.8 461.1L422.5 461.1L423.1 461.1L423.8 461.1L424.5 461.1L425.1 461.1L425.8 461.1L426.5 461.1L427.2 461.1L427.8 461.1L428.5 461.1L429.2 461.1L429.9 461.1L430.5 461.1L431.2 461.1L431.9 461.1L432.5 461.1L433.2 461.1L433.9 461.1L434.6 461.1L435.2 461.1L435.9 461.1L436.6 461.1L437.2 461.1L437.9 461.1L438.6 461.1L439.3 461.1L439.9 461.1L440.6 461.1L441.3 461.1L441.9 461.1L442.6 461.1L443.3 461.1L444.0 461.1L444.6 461.1L445.3 461.1L446.0 461.1L446.7 461.1L447.3 461.1L448.0 461.1L448.7 461.1L449.3 461.1L450.0 461.1L450.7 461.1L451.4 461.1L452.0 461.1L452.7 461.1L453.4 461.1L454.0 461.1L454.7 461.1L455.4 461.1L456.1 461.1L456.7 461.1L457.4 461.1L458.1 461.1L458.7 461.1L459.4 461.1L460.1 461.1L460.8 461.1L461.4 461.1L462.1 461.1L462.8 461.1L463.5 461.0L464.1 461.0L464.8 461.0L465.5 461.0L466.1 461.0L466.8 461.0L467.5 461.0L468.2 461.0L468.8 461.0L469.5 461.0L470.2 461.0L470.8 461.0L471.5 461.0L472.2 461.0L472.9 461.0L473.5 461.0L474.2 461.0L474.9 461.0L475.5 461.0L476.2 460.9L476.9 460.9L477.6 460.9L478.2 460.9L478.9 460.9L479.6 460.9L480.3 460.9L480.9 460.9L481.6 460.8L482.3 460.8L482.9 460.8L483.6 460.8L484.3 460.8L485.0 460.8L485.6 460.7L486.3 460.7L487.0 460.7L487.6 460.7L488.3 460.6L489.0 460.6L489.7 460.6L490.3 460.6L491.0 460.5L491.7 460.5L492.3 460.4L493.0 460.4L493.7 460.4L494.4 460.3L495.0 460.3L495.7 460.2L496.4 460.2L497.1 460.1L497.7 460.1L498.4 460.0L499.1 459.9L499.7 459.9L500.4 459.8L501.1 459.7L501.8 459.6L502.4 459.5L503.1 459.4L503.8 459.3L504.4 459.2L505.1 459.1L505.8 459.0L506.5 458.9L507.1 458.7L507.8 458.6L508.5 458.5L509.1 458.3L509.8 458.2L510.5 458.0L511.2 457.8L511.8 457.6L512.5 457.4L513.2 457.2L513.9 457.0L514.5 456.8L515.2 456.5L515.9 456.3L516.5 456.0L517.2 455.7L517.9 455.4L518.6 455.1L519.2 454.8L519.9 454.5L520.6 454.2L521.2 453.8L521.9 453.4L522.6 453.0L523.3 452.6L523.9 452.2L524.6 451.8L525.3 451.3L525.9 450.9L526.6 450.4L527.3 449.9L528.0 449.4L528.6 448.9L529.3 448.3L530.0 447.8L530.7 447.2L531.3 446.6L532.0 446.0L532.7 445.4L533.3 444.8L534.0 444.2L534.7 443.6L535.4 442.9L536.0 442.3L536.7 441.7L537.4 441.0L538.0 440.3L538.7 439.7L539.4 439.0L540.1 438.4L540.7 437.7L541.4 437.1L542.1 436.4L542.7 435.8L543.4 435.1L544.1 434.5L544.8 433.9L545.4 433.2L546.1 432.6L546.8 432.0L547.5 431.4L548.1 430.9L548.8 430.3L549.5 429.8L550.1 429.2L550.8 428.7L551.5 428.2L552.2 427.7L552.8 427.3L553.5 426.8L554.2 426.4L554.8 426.0L555.5 425.5L556.2 425.2L556.9 424.8L557.5 424.4L558.2 424.1L558.9 423.7L559.5 423.4L560.2 423.1L560.9 422.8L561.6 422.6L562.2 422.3L562.9 422.1L563.6 421.8L564.3 421.6L564.9 421.4L565.6 421.2L566.3 421.0L566.9 420.9L567.6 420.7L568.3 420.6L569.0 420.4L569.6 420.3L570.3 420.2L571.0 420.1L571.6 420.0L572.3 419.9L573.0 419.8L573.7 419.7L574.3 419.7L575.0 419.6L575.7 419.6L576.3 419.5L577.0 419.5L577.7 419.5L578.4 419.5L579.0 419.4L579.7 419.4L580.4 419.4L581.1 419.5L581.7 419.5L582.4 419.5L583.1 419.5L583.7 419.6L584.4 419.6L585.1 419.7L585.8 419.7L586.4 419.8L587.1 419.9L587.8 420.0L588.4 420.1L589.1 420.1L589.8 420.3L590.5 420.4L591.1 420.5L591.8 420.6L592.5 420.7L593.1 420.9L593.8 421.0L594.5 421.2L595.2 421.4L595.8 421.5L596.5 421.7L597.2 421.9L597.9 422.1L598.5 422.3L599.2 422.6L599.9 422.8L600.5 423.0L601.2 423.3L601.9 423.6L602.6 423.8L603.2 424.1L603.9 424.4L604.6 424.7L605.2 425.0L605.9 425.4L606.6 425.7L607.3 426.1L607.9 426.4L608.6 426.8L609.3 427.2L609.9 427.6L610.6 428.0L611.3 428.4L612.0 428.8L612.6 429.3L613.3 429.7L614.0 430.2L614.7 430.6L615.3 431.1L616.0 431.6L616.7 432.1L617.3 432.6L618.0 433.1L618.7 433.6L619.4 434.1L620.0 434.6L620.7 435.2L621.4 435.7L622.0 436.3L622.7 436.8L623.4 437.3L624.1 437.9L624.7 438.4L625.4 439.0L626.1 439.6L626.7 440.1L627.4 440.7L628.1 441.2L628.8 441.7L629.4 442.3L630.1 442.8L630.8 443.4L631.5 443.9L632.1 444.4L632.8 444.9L633.5 445.4L634.1 445.9L634.8 446.4L635.5 446.9L636.2 447.4L636.8 447.9L637.5 448.3L638.2 448.8L638.8 449.2L639.5 449.6L640.2 450.1L640.9 450.5L641.5 450.9L642.2 451.3L642.9 451.6L643.5 452.0L644.2 452.4L644.9 452.7L645.6 453.0L646.2 453.4L646.9 453.7L647.6 454.0L648.3 454.3L648.9 454.6L649.6 454.8L650.3 455.1L650.9 455.3L651.6 455.6L652.3 455.8L653.0 456.1L653.6 456.3L654.3 456.5L655.0 456.7L655.6 456.9L656.3 457.1L657.0 457.2L657.7 457.4L658.3 457.6L659.0 457.7L659.7 457.9L660.3 458.0L661.0 458.2L661.7 458.3L662.4 458.4L663.0 458.6L663.7 458.7L664.4 458.8L665.1 458.9L665.7 459.0L666.4 459.1L667.1 459.2L667.7 459.3L668.4 459.4L669.1 459.4L669.8 459.5L670.4 459.6L671.1 459.7" fill="none" stroke="#0000ff" stroke-width="2.2" stroke-dasharray="1.70 5.10 6.80 5.10"/>
<path d="M402.3 461.1L403.0 461.1L403.6 461.1L404.3 461.1L405.0 461.1L405.7 461.1L406.3 461.1L407.0 461.1L407.7 461.1L408.3 461.1L409.0 461.1L409.7 461.1L410.4 461.1L411.0 461.1L411.7 461.1L412.4 461.1L413.1 461.1L413.7 461.1L414.4 461.1L415.1 461.1L415.7 461.1L416.4 461.1L417.1 461.1L417.8 461.1L418.4 461.1L419.1 461.1L419.8 461.1L420.4 461.1L421.1 461.1L421.8 461.1L422.5 461.1L423.1 461.1L423.8 461.1L424.5 461.1L425.1 461.1L425.8 461.1L426.5 461.1L427.2 461.1L427.8 461.1L428.5 461.1L429.2 461.1L429.9 461.1L430.5 461.1L431.2 461.1L431.9 461.1L432.5 461.1L433.2 461.1L433.9 461.1L434.6 461.1L435.2 461.1L435.9 461.1L436.6 461.1L437.2 461.1L437.9 461.1L438.6 461.1L439.3 461.1L439.9 461.1L440.6 461.1L441.3 461.1L441.9 461.1L442.6 461.1L443.3 461.1L444.0 461.1L444.6 461.1L445.3 461.1L446.0 461.1L446.7 461.1L447.3 461.1L448.0 461.1L448.7 461.1L449.3 461.1L450.0 461.1L450.7 461.1L451.4 461.1L452.0 461.1L452.7 461.1L453.4 461.1L454.0 461.1L454.7 461.1L455.4 461.1L456.1 461.1L456.7 461.1L457.4 461.1L458.1 461.1L458.7 461.1L459.4 461.1L460.1 461.1L460.8 461.1L461.4 461.1L462.1 461.1L462.8 461.1L463.5 461.1L464.1 461.1L464.8 461.1L465.5 461.1L466.1 461.1L466.8 461.1L467.5 461.1L468.2 461.1L468.8 461.1L469.5 461.1L470.2 461.1L470.8 461.1L471.5 461.1L472.2 461.1L472.9 461.1L473.5 461.1L474.2 461.1L474.9 461.1L475.5 461.1L476.2 461.1L476.9 461.0L477.6 461.0L478.2 461.0L478.9 461.0L479.6 461.0L480.3 461.0L480.9 461.0L481.6 461.0L482.3 461.0L482.9 461.0L483.6 461.0L484.3 461.0L485.0 461.0L485.6 461.0L486.3 461.0L487.0 461.0L487.6 461.0L488.3 461.0L489.0 460.9L489.7 460.9L490.3 460.9L491.0 460.9L491.7 460.9L492.3 460.9L493.0 460.9L493.7 460.9L494.4 460.9L495.0 460.8L495.7 460.8L496.4 460.8L497.1 460.8L497.7 460.8L498.4 460.8L499.1 460.7L499.7 460.7L500.4 460.7L501.1 460.7L501.8 460.6L502.4 460.6L503.1 460.6L503.8 460.5L504.4 460.5L505.1 460.5L505.8 460.4L506.5 460.4L507.1 460.3L507.8 460.3L508.5 460.3L509.1 460.2L509.8 460.2L510.5 460.1L511.2 460.0L511.8 460.0L512.5 459.9L513.2 459.8L513.9 459.8L514.5 459.7L515.2 459.6L515.9 459.5L516.5 459.4L517.2 459.3L517.9 459.2L518.6 459.1L519.2 459.0L519.9 458.9L520.6 458.7L521.2 458.6L521.9 458.4L522.6 458.3L523.3 458.1L523.9 458.0L524.6 457.8L525.3 457.6L525.9 457.4L526.6 457.2L527.3 457.0L528.0 456.8L528.6 456.5L529.3 456.3L530.0 456.0L530.7 455.8L531.3 455.5L532.0 455.2L532.7 454.9L533.3 454.6L534.0 454.3L534.7 453.9L535.4 453.6L536.0 453.2L536.7 452.8L537.4 452.4L538.0 452.0L538.7 451.6L539.4 451.2L540.1 450.8L540.7 450.3L541.4 449.9L542.1 449.4L542.7 448.9L543.4 448.5L544.1 448.0L544.8 447.5L545.4 446.9L546.1 446.4L546.8 445.9L547.5 445.4L548.1 444.9L548.8 444.3L549.5 443.8L550.1 443.3L550.8 442.7L551.5 442.2L552.2 441.7L552.8 441.1L553.5 440.6L554.2 440.1L554.8 439.6L555.5 439.1L556.2 438.6L556.9 438.1L557.5 437.6L558.2 437.1L558.9 436.7L559.5 436.2L560.2 435.8L560.9 435.3L561.6 434.9L562.2 434.5L562.9 434.1L563.6 433.7L564.3 433.3L564.9 433.0L565.6 432.6L566.3 432.3L566.9 432.0L567.6 431.7L568.3 431.4L569.0 431.1L569.6 430.8L570.3 430.6L571.0 430.3L571.6 430.1L572.3 429.9L573.0 429.7L573.7 429.4L574.3 429.3L575.0 429.1L575.7 428.9L576.3 428.7L577.0 428.6L577.7 428.4L578.4 428.3L579.0 428.2L579.7 428.0L580.4 427.9L581.1 427.8L581.7 427.7L582.4 427.6L583.1 427.5L583.7 427.5L584.4 427.4L585.1 427.3L585.8 427.2L586.4 427.2L587.1 427.1L587.8 427.1L588.4 427.1L589.1 427.0L589.8 427.0L590.5 427.0L591.1 426.9L591.8 426.9L592.5 426.9L593.1 426.9L593.8 426.9L594.5 426.9L595.2 426.9L595.8 426.9L596.5 426.9L597.2 426.9L597.9 427.0L598.5 427.0L599.2 427.0L599.9 427.1L600.5 427.1L601.2 427.1L601.9 427.2L602.6 427.2L603.2 427.3L603.9 427.4L604.6 427.4L605.2 427.5L605.9 427.6L606.6 427.6L607.3 427.7L607.9 427.8L608.6 427.9L609.3 428.0L609.9 428.1L610.6 428.2L611.3 428.4L612.0 428.5L612.6 428.6L613.3 428.8L614.0 428.9L614.7 429.0L615.3 429.2L616.0 429.4L616.7 429.5L617.3 429.7L618.0 429.9L618.7 430.1L619.4 430.3L620.0 430.5L620.7 430.7L621.4 431.0L622.0 431.2L622.7 431.4L623.4 431.7L624.1 431.9L624.7 432.2L625.4 432.5L626.1 432.8L626.7 433.1L627.4 433.4L628.1 433.7L628.8 434.0L629.4 434.3L630.1 434.7L630.8 435.0L631.5 435.4L632.1 435.7L632.8 436.1L633.5 436.5L634.1 436.9L634.8 437.2L635.5 437.6L636.2 438.0L636.8 438.5L637.5 438.9L638.2 439.3L638.8 439.7L639.5 440.2L640.2 440.6L640.9 441.0L641.5 441.5L642.2 441.9L642.9 442.4L643.5 442.8L644.2 443.2L644.9 443.7L645.6 444.1L646.2 444.6L646.9 445.0L647.6 445.5L648.3 445.9L648.9 446.3L649.6 446.8L650.3 447.2L650.9 447.6L651.6 448.0L652.3 448.4L653.0 448.9L653.6 449.2L654.3 449.6L655.0 450.0L655.6 450.4L656.3 450.8L657.0 451.1L657.7 451.5L658.3 451.8L659.0 452.2L659.7 452.5L660.3 452.8L661.0 453.1L661.7 453.5L662.4 453.7L663.0 454.0L663.7 454.3L664.4 454.6L665.1 454.8L665.7 455.1L666.4 455.3L667.1 455.6L667.7 455.8L668.4 456.0L669.1 456.2L669.8 456.5L670.4 456.7L671.1 456.8" fill="none" stroke="#0000ff" stroke-width="2.2" stroke-dasharray="1.70 5.10 6.80 5.10"/>
<path d="M402.3 461.1L403.0 461.1L403.6 461.1L404.3 461.1L405.0 461.1L405.7 461.1L406.3 461.1L407.0 461.1L407.7 461.1L408.3 461.1L409.0 461.1L409.7 461.1L410.4 461.1L411.0 461.1L411.7 461.1L412.4 461.1L413.1 461.1L413.7 461.1L414.4 461.1L415.1 461.1L415.7 461.1L416.4 461.1L417.1 461.1L417.8 461.1L418.4 461.1L419.1 461.1L419.8 461.1L420.4 461.1L421.1 461.1L421.8 461.1L422.5 461.1L423.1 461.1L423.8 461.1L424.5 461.1L425.1 461.1L425.8 461.1L426.5 461.1L427.2 461.1L427.8 461.1L428.5 461.1L429.2 461.1L429.9 461.1L430.5 461.1L431.2 461.1L431.9 461.1L432.5 461.1L433.2 461.1L433.9 461.1L434.6 461.1L435.2 461.1L435.9 461.1L436.6 461.1L437.2 461.1L437.9 461.1L438.6 461.1L439.3 461.1L439.9 461.1L440.6 461.1L441.3 461.1L441.9 461.1L442.6 461.1L443.3 461.1L444.0 461.1L444.6 461.1L445.3 461.1L446.0 461.1L446.7 461.1L447.3 461.1L448.0 461.1L448.7 461.1L449.3 461.1L450.0 461.1L450.7 461.1L451.4 461.1L452.0 461.1L452.7 461.1L453.4 461.1L454.0 461.1L454.7 461.1L455.4 461.1L456.1 461.1L456.7 461.1L457.4 461.1L458.1 461.1L458.7 461.1L459.4 461.1L460.1 461.1L460.8 461.1L461.4 461.1L462.1 461.1L462.8 461.1L463.5 461.1L464.1 461.1L464.8 461.1L465.5 461.1L466.1 461.1L466.8 461.0L467.5 461.0L468.2 461.0L468.8 461.0L469.5 461.0L470.2 461.0L470.8 461.0L471.5 461.0L472.2 461.0L472.9 460.9L473.5 460.9L474.2 460.9L474.9 460.9L475.5 460.8L476.2 460.8L476.9 460.8L477.6 460.7L478.2 460.7L478.9 460.6L479.6 460.6L480.3 460.5L480.9 460.4L481.6 460.3L482.3 460.2L482.9 460.1L483.6 460.0L484.3 459.9L485.0 459.7L485.6 459.5L486.3 459.4L487.0 459.1L487.6 458.9L488.3 458.6L489.0 458.3L489.7 458.0L490.3 457.6L491.0 457.2L491.7 456.8L492.3 456.3L493.0 455.8L493.7 455.2L494.4 454.5L495.0 453.8L495.7 453.0L496.4 452.2L497.1 451.3L497.7 450.4L498.4 449.4L499.1 448.3L499.7 447.2L500.4 446.0L501.1 444.9L501.8 443.7L502.4 442.5L503.1 441.3L503.8 440.1L504.4 439.0L505.1 437.9L505.8 437.0L506.5 436.1L507.1 435.4L507.8 434.8L508.5 434.3L509.1 434.0L509.8 433.8L510.5 433.8L511.2 433.9L511.8 434.1L512.5 434.4L513.2 434.9L513.9 435.4L514.5 436.0L515.2 436.6L515.9 437.3L516.5 437.9L517.2 438.6L517.9 439.3L518.6 440.0L519.2 440.7L519.9 441.3L520.6 441.9L521.2 442.5L521.9 443.0L522.6 443.5L523.3 443.9L523.9 444.4L524.6 444.8L525.3 445.1L525.9 445.4L526.6 445.7L527.3 446.0L528.0 446.2L528.6 446.5L529.3 446.7L530.0 446.8L530.7 447.0L531.3 447.1L532.0 447.3L532.7 447.4L533.3 447.5L534.0 447.6L534.7 447.7L535.4 447.7L536.0 447.8L536.7 447.9L537.4 447.9L538.0 448.0L538.7 448.0L539.4 448.0L540.1 448.1L540.7 448.1L541.4 448.1L542.1 448.2L542.7 448.2L543.4 448.2L544.1 448.2L544.8 448.2L545.4 448.2L546.1 448.3L546.8 448.3L547.5 448.3L548.1 448.3L548.8 448.3L549.5 448.3L550.1 448.3L550.8 448.3L551.5 448.3L552.2 448.3L552.8 448.3L553.5 448.3L554.2 448.3L554.8 448.3L555.5 448.3L556.2 448.3L556.9 448.3L557.5 448.3L558.2 448.3L558.9 448.3L559.5 448.3L560.2 448.3L560.9 448.3L561.6 448.3L562.2 448.3L562.9 448.3L563.6 448.3L564.3 448.3L564.9 448.3L565.6 448.3L566.3 448.3L566.9 448.3L567.6 448.3L568.3 448.3L569.0 448.3L569.6 448.3L570.3 448.3L571.0 448.3L571.6 448.3L572.3 448.3L573.0 448.3L573.7 448.3L574.3 448.3L575.0 448.3L575.7 448.3L576.3 448.3L577.0 448.3L577.7 448.3L578.4 448.3L579.0 448.3L579.7 448.3L580.4 448.3L581.1 448.3L581.7 448.3L582.4 448.3L583.1 448.3L583.7 448.3L584.4 448.3L585.1 448.3L585.8 448.3L586.4 448.3L587.1 448.3L587.8 448.3L588.4 448.3L589.1 448.3L589.8 448.3L590.5 448.3L591.1 448.3L591.8 448.3L592.5 448.3L593.1 448.3L593.8 448.3L594.5 448.3L595.2 448.3L595.8 448.3L596.5 448.3L597.2 448.3L597.9 448.3L598.5 448.3L599.2 448.3L599.9 448.3L600.5 448.3L601.2 448.3L601.9 448.3L602.6 448.3L603.2 448.3L603.9 448.3L604.6 448.3L605.2 448.3L605.9 448.3L606.6 448.3L607.3 448.3L607.9 448.3L608.6 448.3L609.3 448.3L609.9 448.3L610.6 448.3L611.3 448.3L612.0 448.3L612.6 448.3L613.3 448.3L614.0 448.3L614.7 448.3L615.3 448.3L616.0 448.3L616.7 448.3L617.3 448.3L618.0 448.3L618.7 448.3L619.4 448.3L620.0 448.3L620.7 448.3L621.4 448.3L622.0 448.3L622.7 448.3L623.4 448.3L624.1 448.3L624.7 448.3L625.4 448.3L626.1 448.3L626.7 448.3L627.4 448.3L628.1 448.3L628.8 448.3L629.4 448.3L630.1 448.3L630.8 448.3L631.5 448.3L632.1 448.3L632.8 448.3L633.5 448.3L634.1 448.3L634.8 448.3L635.5 448.3L636.2 448.3L636.8 448.3L637.5 448.3L638.2 448.3L638.8 448.3L639.5 448.3L640.2 448.3L640.9 448.3L641.5 448.3L642.2 448.3L642.9 448.3L643.5 448.3L644.2 448.3L644.9 448.3L645.6 448.3L646.2 448.3L646.9 448.3L647.6 448.3L648.3 448.3L648.9 448.3L649.6 448.3L650.3 448.3L650.9 448.2L651.6 448.2L652.3 448.2L653.0 448.1L653.6 448.1L654.3 448.0L655.0 447.9L655.6 447.8L656.3 447.6L657.0 447.5L657.7 447.3L658.3 447.0L659.0 446.7L659.7 446.4L660.3 446.0L661.0 445.6L661.7 445.2L662.4 444.8L663.0 444.4L663.7 444.1L664.4 443.8L665.1 443.6L665.7 443.6L666.4 443.7L667.1 444.0L667.7 444.3L668.4 444.8L669.1 445.3L669.8 445.8L670.4 446.3L671.1 446.9" fill="none" stroke="#0000ff" stroke-width="2.2" stroke-dasharray="1.70 5.10 6.80 5.10"/>
<path d="M402.3 461.1L403.0 461.1L403.6 461.1L404.3 461.1L405.0 461.1L405.7 461.1L406.3 461.1L407.0 461.1L407.7 461.1L408.3 461.1L409.0 461.1L409.7 461.1L410.4 461.1L411.0 461.1L411.7 461.1L412.4 461.1L413.1 461.1L413.7 461.1L414.4 461.1L415.1 461.1L415.7 461.1L416.4 461.1L417.1 461.1L417.8 461.1L418.4 461.1L419.1 461.1L419.8 461.1L420.4 461.1L421.1 461.1L421.8 461.1L422.5 461.1L423.1 461.1L423.8 461.1L424.5 461.1L425.1 461.1L425.8 461.1L426.5 461.1L427.2 461.1L427.8 461.1L428.5 461.1L429.2 461.1L429.9 461.1L430.5 461.1L431.2 461.1L431.9 461.1L432.5 461.1L433.2 461.1L433.9 461.1L434.6 461.1L435.2 461.1L435.9 461.1L436.6 461.1L437.2 461.1L437.9 461.1L438.6 461.1L439.3 461.1L439.9 461.1L440.6 461.1L441.3 461.1L441.9 461.1L442.6 461.1L443.3 461.1L444.0 461.1L444.6 461.1L445.3 461.1L446.0 461.1L446.7 461.1L447.3 461.1L448.0 461.1L448.7 461.1L449.3 461.1L450.0 461.1L450.7 461.1L451.4 461.1L452.0 461.1L452.7 461.1L453.4 461.1L454.0 461.1L454.7 461.1L455.4 461.1L456.1 461.1L456.7 461.1L457.4 461.1L458.1 461.1L458.7 461.1L459.4 461.1L460.1 461.1L460.8 461.1L461.4 461.1L462.1 461.1L462.8 461.0L463.5 461.0L464.1 461.0L464.8 461.0L465.5 461.0L466.1 461.0L466.8 461.0L467.5 461.0L468.2 461.0L468.8 461.0L469.5 460.9L470.2 460.9L470.8 460.9L471.5 460.9L472.2 460.9L472.9 460.8L473.5 460.8L474.2 460.8L474.9 460.7L475.5 460.7L476.2 460.6L476.9 460.6L477.6 460.5L478.2 460.4L478.9 460.4L479.6 460.3L480.3 460.2L480.9 460.1L481.6 459.9L482.3 459.8L482.9 459.7L483.6 459.5L484.3 459.3L485.0 459.1L485.6 458.9L486.3 458.6L487.0 458.4L487.6 458.1L488.3 457.7L489.0 457.4L489.7 457.0L490.3 456.5L491.0 456.0L491.7 455.5L492.3 454.9L493.0 454.3L493.7 453.7L494.4 452.9L495.0 452.2L495.7 451.4L496.4 450.5L497.1 449.6L497.7 448.7L498.4 447.7L499.1 446.7L499.7 445.7L500.4 444.7L501.1 443.7L501.8 442.7L502.4 441.7L503.1 440.8L503.8 439.9L504.4 439.1L505.1 438.4L505.8 437.8L506.5 437.3L507.1 436.9L507.8 436.6L508.5 436.4L509.1 436.3L509.8 436.4L510.5 436.6L511.2 436.8L511.8 437.2L512.5 437.6L513.2 438.0L513.9 438.6L514.5 439.1L515.2 439.7L515.9 440.3L516.5 440.9L517.2 441.5L517.9 442.1L518.6 442.7L519.2 443.2L519.9 443.8L520.6 444.3L521.2 444.8L521.9 445.2L522.6 445.6L523.3 446.0L523.9 446.4L524.6 446.7L525.3 447.0L525.9 447.3L526.6 447.6L527.3 447.8L528.0 448.0L528.6 448.2L529.3 448.4L530.0 448.6L530.7 448.7L531.3 448.8L532.0 449.0L532.7 449.1L533.3 449.2L534.0 449.3L534.7 449.3L535.4 449.4L536.0 449.5L536.7 449.5L537.4 449.6L538.0 449.6L538.7 449.7L539.4 449.7L540.1 449.7L540.7 449.8L541.4 449.8L542.1 449.8L542.7 449.9L543.4 449.9L544.1 449.9L544.8 449.9L545.4 449.9L546.1 449.9L546.8 449.9L547.5 450.0L548.1 450.0L548.8 450.0L549.5 450.0L550.1 450.0L550.8 450.0L551.5 450.0L552.2 450.0L552.8 450.0L553.5 450.0L554.2 450.0L554.8 450.0L555.5 450.0L556.2 450.0L556.9 450.0L557.5 450.0L558.2 450.0L558.9 450.0L559.5 450.0L560.2 450.0L560.9 450.0L561.6 450.0L562.2 450.0L562.9 450.0L563.6 450.0L564.3 450.0L564.9 450.0L565.6 450.0L566.3 450.0L566.9 450.0L567.6 450.0L568.3 450.0L569.0 450.0L569.6 450.0L570.3 450.0L571.0 450.0L571.6 450.0L572.3 450.0L573.0 450.0L573.7 450.0L574.3 450.0L575.0 450.0L575.7 450.0L576.3 450.0L577.0 450.0L577.7 450.0L578.4 450.0L579.0 450.0L579.7 450.0L580.4 450.0L581.1 450.0L581.7 450.0L582.4 450.0L583.1 450.0L583.7 450.0L584.4 450.0L585.1 450.0L585.8 450.0L586.4 450.0L587.1 450.0L587.8 450.0L588.4 450.0L589.1 450.0L589.8 450.0L590.5 450.0L591.1 450.0L591.8 450.0L592.5 450.0L593.1 450.0L593.8 450.0L594.5 450.0L595.2 450.0L595.8 450.0L596.5 450.0L597.2 450.0L597.9 450.0L598.5 450.0L599.2 450.0L599.9 450.0L600.5 450.0L601.2 450.0L601.9 450.0L602.6 450.0L603.2 450.0L603.9 450.0L604.6 450.0L605.2 450.0L605.9 450.0L606.6 450.0L607.3 450.0L607.9 450.0L608.6 450.0L609.3 450.0L609.9 450.0L610.6 450.0L611.3 450.0L612.0 450.0L612.6 450.0L613.3 450.0L614.0 450.0L614.7 450.0L615.3 450.0L616.0 450.0L616.7 450.0L617.3 450.0L618.0 450.0L618.7 450.0L619.4 450.0L620.0 450.0L620.7 450.0L621.4 450.0L622.0 450.0L622.7 450.0L623.4 450.0L624.1 450.0L624.7 450.0L625.4 450.0L626.1 450.0L626.7 450.0L627.4 450.0L628.1 450.0L628.8 450.0L629.4 450.0L630.1 450.0L630.8 450.0L631.5 450.0L632.1 450.0L632.8 450.0L633.5 450.0L634.1 450.0L634.8 450.0L635.5 450.0L636.2 450.0L636.8 450.0L637.5 450.0L638.2 450.0L638.8 450.0L639.5 450.0L640.2 450.0L640.9 450.0L641.5 450.0L642.2 450.0L642.9 450.0L643.5 450.0L644.2 450.0L644.9 449.9L645.6 449.9L646.2 449.9L646.9 449.9L647.6 449.8L648.3 449.8L648.9 449.7L649.6 449.6L650.3 449.5L650.9 449.4L651.6 449.3L652.3 449.2L653.0 449.0L653.6 448.8L654.3 448.6L655.0 448.3L655.6 448.0L656.3 447.7L657.0 447.4L657.7 447.1L658.3 446.8L659.0 446.5L659.7 446.3L660.3 446.1L661.0 446.0L661.7 445.9L662.4 446.0L663.0 446.2L663.7 446.4L664.4 446.7L665.1 447.0L665.7 447.3L666.4 447.7L667.1 448.1L667.7 448.4L668.4 448.8L669.1 449.1L669.8 449.4L670.4 449.7L671.1 450.0" fill="none" stroke="#0000ff" stroke-width="2.2" stroke-dasharray="1.70 5.10 6.80 5.10"/>
<path d="M402.3 461.1L403.0 461.1L403.6 461.1L404.3 461.1L405.0 461.1L405.7 461.1L406.3 461.1L407.0 461.1L407.7 461.1L408.3 461.1L409.0 461.1L409.7 461.1L410.4 461.1L411.0 461.1L411.7 461.1L412.4 461.1L413.1 461.1L413.7 461.1L414.4 461.1L415.1 461.1L415.7 461.1L416.4 461.1L417.1 461.1L417.8 461.1L418.4 461.1L419.1 461.1L419.8 461.1L420.4 461.1L421.1 461.1L421.8 461.1L422.5 461.1L423.1 461.1L423.8 461.1L424.5 461.1L425.1 461.1L425.8 461.1L426.5 461.1L427.2 461.1L427.8 461.1L428.5 461.1L429.2 461.1L429.9 461.1L430.5 461.1L431.2 461.1L431.9 461.1L432.5 461.1L433.2 461.1L433.9 461.1L434.6 461.1L435.2 461.1L435.9 461.1L436.6 461.1L437.2 461.1L437.9 461.1L438.6 461.1L439.3 461.1L439.9 461.1L440.6 461.1L441.3 461.1L441.9 461.1L442.6 461.1L443.3 461.1L444.0 461.1L444.6 461.1L445.3 461.1L446.0 461.1L446.7 461.1L447.3 461.1L448.0 461.1L448.7 461.1L449.3 461.1L450.0 461.1L450.7 461.1L451.4 461.1L452.0 461.1L452.7 461.1L453.4 461.1L454.0 461.1L454.7 461.1L455.4 461.1L456.1 461.1L456.7 461.1L457.4 461.1L458.1 461.1L458.7 461.1L459.4 461.1L460.1 461.1L460.8 461.1L461.4 461.1L462.1 461.0L462.8 461.0L463.5 461.0L464.1 461.0L464.8 461.0L465.5 461.0L466.1 461.0L466.8 461.0L467.5 461.0L468.2 461.0L468.8 460.9L469.5 460.9L470.2 460.9L470.8 460.9L471.5 460.9L472.2 460.8L472.9 460.8L473.5 460.8L474.2 460.7L474.9 460.7L475.5 460.6L476.2 460.6L476.9 460.5L477.6 460.4L478.2 460.3L478.9 460.3L479.6 460.2L480.3 460.1L480.9 459.9L481.6 459.8L482.3 459.6L482.9 459.5L483.6 459.3L484.3 459.1L485.0 458.9L485.6 458.6L486.3 458.3L487.0 458.0L487.6 457.7L488.3 457.4L489.0 457.0L489.7 456.5L490.3 456.1L491.0 455.5L491.7 455.0L492.3 454.4L493.0 453.7L493.7 453.1L494.4 452.3L495.0 451.6L495.7 450.8L496.4 449.9L497.1 449.1L497.7 448.2L498.4 447.3L499.1 446.3L499.7 445.4L500.4 444.5L501.1 443.7L501.8 442.8L502.4 442.1L503.1 441.4L503.8 440.7L504.4 440.2L505.1 439.8L505.8 439.4L506.5 439.2L507.1 439.0L507.8 439.0L508.5 439.1L509.1 439.2L509.8 439.5L510.5 439.8L511.2 440.2L511.8 440.7L512.5 441.2L513.2 441.7L513.9 442.2L514.5 442.8L515.2 443.3L515.9 443.9L516.5 444.4L517.2 445.0L517.9 445.5L518.6 446.0L519.2 446.5L519.9 446.9L520.6 447.3L521.2 447.7L521.9 448.1L522.6 448.4L523.3 448.7L523.9 449.0L524.6 449.2L525.3 449.5L525.9 449.7L526.6 449.9L527.3 450.1L528.0 450.2L528.6 450.4L529.3 450.5L530.0 450.6L530.7 450.8L531.3 450.9L532.0 450.9L532.7 451.0L533.3 451.1L534.0 451.2L534.7 451.2L535.4 451.3L536.0 451.3L536.7 451.4L537.4 451.4L538.0 451.4L538.7 451.5L539.4 451.5L540.1 451.5L540.7 451.6L541.4 451.6L542.1 451.6L542.7 451.6L543.4 451.6L544.1 451.6L544.8 451.6L545.4 451.7L546.1 451.7L546.8 451.7L547.5 451.7L548.1 451.7L548.8 451.7L549.5 451.7L550.1 451.7L550.8 451.7L551.5 451.7L552.2 451.7L552.8 451.7L553.5 451.7L554.2 451.7L554.8 451.7L555.5 451.7L556.2 451.7L556.9 451.7L557.5 451.7L558.2 451.7L558.9 451.7L559.5 451.7L560.2 451.7L560.9 451.7L561.6 451.7L562.2 451.7L562.9 451.7L563.6 451.7L564.3 451.7L564.9 451.7L565.6 451.7L566.3 451.7L566.9 451.7L567.6 451.7L568.3 451.7L569.0 451.7L569.6 451.7L570.3 451.7L571.0 451.7L571.6 451.7L572.3 451.7L573.0 451.7L573.7 451.7L574.3 451.7L575.0 451.7L575.7 451.7L576.3 451.7L577.0 451.7L577.7 451.7L578.4 451.7L579.0 451.7L579.7 451.7L580.4 451.7L581.1 451.7L581.7 451.7L582.4 451.7L583.1 451.7L583.7 451.7L584.4 451.7L585.1 451.7L585.8 451.7L586.4 451.7L587.1 451.7L587.8 451.7L588.4 451.7L589.1 451.7L589.8 451.7L590.5 451.7L591.1 451.7L591.8 451.7L592.5 451.7L593.1 451.7L593.8 451.7L594.5 451.7L595.2 451.7L595.8 451.7L596.5 451.7L597.2 451.7L597.9 451.7L598.5 451.7L599.2 451.7L599.9 451.7L600.5 451.7L601.2 451.7L601.9 451.7L602.6 451.7L603.2 451.7L603.9 451.7L604.6 451.7L605.2 451.7L605.9 451.7L606.6 451.7L607.3 451.7L607.9 451.7L608.6 451.7L609.3 451.7L609.9 451.7L610.6 451.7L611.3 451.7L612.0 451.7L612.6 451.7L613.3 451.7L614.0 451.7L614.7 451.7L615.3 451.7L616.0 451.7L616.7 451.7L617.3 451.7L618.0 451.7L618.7 451.7L619.4 451.7L620.0 451.7L620.7 451.7L621.4 451.7L622.0 451.7L622.7 451.7L623.4 451.7L624.1 451.7L624.7 451.7L625.4 451.7L626.1 451.7L626.7 451.7L627.4 451.7L628.1 451.7L628.8 451.7L629.4 451.7L630.1 451.7L630.8 451.7L631.5 451.7L632.1 451.7L632.8 451.7L633.5 451.7L634.1 451.7L634.8 451.7L635.5 451.7L636.2 451.7L636.8 451.7L637.5 451.7L638.2 451.7L638.8 451.7L639.5 451.7L640.2 451.7L640.9 451.7L641.5 451.7L642.2 451.7L642.9 451.7L643.5 451.7L644.2 451.7L644.9 451.7L645.6 451.7L646.2 451.7L646.9 451.7L647.6 451.7L648.3 451.7L648.9 451.7L649.6 451.7L650.3 451.7L650.9 451.7L651.6 451.7L652.3 451.7L653.0 451.7L653.6 451.7L654.3 451.7L655.0 451.7L655.6 451.7L656.3 451.6L657.0 451.6L657.7 451.6L658.3 451.5L659.0 451.4L659.7 451.3L660.3 451.2L661.0 451.1L661.7 450.9L662.4 450.7L663.0 450.5L663.7 450.2L664.4 449.9L665.1 449.6L665.7 449.3L666.4 449.1L667.1 448.9L667.7 448.8L668.4 448.8L669.1 448.9L669.8 449.1L670.4 449.4L671.1 449.8" fill="none" stroke="#0000ff" stroke-width="2.2" stroke-dasharray="1.70 5.10 6.80 5.10"/>
<path d="M402.3 461.1L403.0 461.1L403.6 461.1L404.3 461.1L405.0 461.1L405.7 461.1L406.3 461.1L407.0 461.1L407.7 461.1L408.3 461.1L409.0 461.1L409.7 461.1L410.4 461.1L411.0 461.1L411.7 461.1L412.4 461.1L413.1 461.1L413.7 461.1L414.4 461.1L415.1 461.1L415.7 461.1L416.4 461.1L417.1 461.1L417.8 461.1L418.4 461.1L419.1 461.1L419.8 461.1L420.4 461.1L421.1 461.1L421.8 461.1L422.5 461.1L423.1 461.1L423.8 461.1L424.5 461.1L425.1 461.1L425.8 461.1L426.5 461.1L427.2 461.1L427.8 461.1L428.5 461.1L429.2 461.1L429.9 461.1L430.5 461.1L431.2 461.1L431.9 461.1L432.5 461.1L433.2 461.1L433.9 461.1L434.6 461.1L435.2 461.1L435.9 461.1L436.6 461.1L437.2 461.1L437.9 461.1L438.6 461.1L439.3 461.1L439.9 461.1L440.6 461.1L441.3 461.1L441.9 461.1L442.6 461.1L443.3 461.1L444.0 461.1L444.6 461.1L445.3 461.1L446.0 461.1L446.7 461.1L447.3 461.1L448.0 461.1L448.7 461.1L449.3 461.1L450.0 461.1L450.7 461.1L451.4 461.1L452.0 461.1L452.7 461.1L453.4 461.1L454.0 461.1L454.7 461.1L455.4 461.1L456.1 461.1L456.7 461.1L457.4 461.1L458.1 461.1L458.7 461.1L459.4 461.1L460.1 461.1L460.8 461.1L461.4 461.1L462.1 461.0L462.8 461.0L463.5 461.0L464.1 461.0L464.8 461.0L465.5 461.0L466.1 461.0L466.8 461.0L467.5 461.0L468.2 461.0L468.8 460.9L469.5 460.9L470.2 460.9L470.8 460.9L471.5 460.8L472.2 460.8L472.9 460.8L473.5 460.7L474.2 460.7L474.9 460.7L475.5 460.6L476.2 460.5L476.9 460.5L477.6 460.4L478.2 460.3L478.9 460.2L479.6 460.1L480.3 460.0L480.9 459.9L481.6 459.8L482.3 459.6L482.9 459.5L483.6 459.3L484.3 459.1L485.0 458.9L485.6 458.6L486.3 458.3L487.0 458.1L487.6 457.7L488.3 457.4L489.0 457.0L489.7 456.6L490.3 456.2L491.0 455.7L491.7 455.2L492.3 454.6L493.0 454.0L493.7 453.4L494.4 452.8L495.0 452.1L495.7 451.5L496.4 450.8L497.1 450.1L497.7 449.4L498.4 448.7L499.1 448.0L499.7 447.4L500.4 446.8L501.1 446.2L501.8 445.7L502.4 445.3L503.1 445.0L503.8 444.7L504.4 444.5L505.1 444.4L505.8 444.4L506.5 444.5L507.1 444.7L507.8 444.9L508.5 445.2L509.1 445.6L509.8 446.1L510.5 446.5L511.2 447.0L511.8 447.5L512.5 448.1L513.2 448.6L513.9 449.2L514.5 449.7L515.2 450.2L515.9 450.7L516.5 451.2L517.2 451.6L517.9 452.1L518.6 452.5L519.2 452.9L519.9 453.2L520.6 453.5L521.2 453.8L521.9 454.1L522.6 454.4L523.3 454.6L523.9 454.8L524.6 455.0L525.3 455.2L525.9 455.4L526.6 455.5L527.3 455.6L528.0 455.8L528.6 455.9L529.3 456.0L530.0 456.1L530.7 456.1L531.3 456.2L532.0 456.3L532.7 456.3L533.3 456.4L534.0 456.4L534.7 456.5L535.4 456.5L536.0 456.6L536.7 456.6L537.4 456.6L538.0 456.6L538.7 456.7L539.4 456.7L540.1 456.7L540.7 456.7L541.4 456.7L542.1 456.7L542.7 456.7L543.4 456.8L544.1 456.8L544.8 456.8L545.4 456.8L546.1 456.8L546.8 456.8L547.5 456.8L548.1 456.8L548.8 456.8L549.5 456.8L550.1 456.8L550.8 456.8L551.5 456.8L552.2 456.8L552.8 456.8L553.5 456.8L554.2 456.8L554.8 456.8L555.5 456.8L556.2 456.8L556.9 456.8L557.5 456.8L558.2 456.8L558.9 456.8L559.5 456.8L560.2 456.8L560.9 456.8L561.6 456.8L562.2 456.8L562.9 456.8L563.6 456.8L564.3 456.8L564.9 456.8L565.6 456.8L566.3 456.8L566.9 456.8L567.6 456.8L568.3 456.8L569.0 456.8L569.6 456.8L570.3 456.8L571.0 456.8L571.6 456.8L572.3 456.8L573.0 456.8L573.7 456.8L574.3 456.8L575.0 456.8L575.7 456.8L576.3 456.8L577.0 456.8L577.7 456.8L578.4 456.8L579.0 456.8L579.7 456.8L580.4 456.8L581.1 456.8L581.7 456.8L582.4 456.8L583.1 456.8L583.7 456.8L584.4 456.8L585.1 456.8L585.8 456.8L586.4 456.8L587.1 456.8L587.8 456.8L588.4 456.8L589.1 456.8L589.8 456.8L590.5 456.8L591.1 456.8L591.8 456.8L592.5 456.8L593.1 456.8L593.8 456.8L594.5 456.8L595.2 456.8L595.8 456.8L596.5 456.8L597.2 456.8L597.9 456.8L598.5 456.8L599.2 456.8L599.9 456.8L600.5 456.8L601.2 456.8L601.9 456.8L602.6 456.8L603.2 456.8L603.9 456.8L604.6 456.8L605.2 456.8L605.9 456.8L606.6 456.8L607.3 456.8L607.9 456.8L608.6 456.8L609.3 456.8L609.9 456.8L610.6 456.8L611.3 456.8L612.0 456.8L612.6 456.8L613.3 456.8L614.0 456.8L614.7 456.8L615.3 456.8L616.0 456.8L616.7 456.8L617.3 456.8L618.0 456.8L618.7 456.8L619.4 456.8L620.0 456.8L620.7 456.8L621.4 456.8L622.0 456.8L622.7 456.8L623.4 456.8L624.1 456.8L624.7 456.8L625.4 456.8L626.1 456.8L626.7 456.8L627.4 456.8L628.1 456.8L628.8 456.8L629.4 456.8L630.1 456.8L630.8 456.8L631.5 456.8L632.1 456.8L632.8 456.8L633.5 456.8L634.1 456.8L634.8 456.8L635.5 456.8L636.2 456.8L636.8 456.8L637.5 456.8L638.2 456.8L638.8 456.8L639.5 456.8L640.2 456.8L640.9 456.8L641.5 456.8L642.2 456.8L642.9 456.8L643.5 456.9L644.2 456.9L644.9 456.9L645.6 456.9L646.2 456.9L646.9 456.9L647.6 456.9L648.3 456.9L648.9 456.9L649.6 456.9L650.3 456.9L650.9 456.9L651.6 456.9L652.3 456.9L653.0 456.9L653.6 456.9L654.3 456.9L655.0 456.9L655.6 456.9L656.3 456.9L657.0 456.9L657.7 456.9L658.3 456.9L659.0 456.9L659.7 456.9L660.3 456.9L661.0 456.9L661.7 456.9L662.4 456.9L663.0 456.9L663.7 456.9L664.4 456.9L665.1 457.0L665.7 457.0L666.4 457.0L667.1 457.0L667.7 457.0L668.4 457.0L669.1 457.1L669.8 457.1L670.4 457.1L671.1 457.2" fill="none" stroke="#0000ff" stroke-width="2.2" stroke-dasharray="1.70 5.10 6.80 5.10"/>
<path d="M402.3 461.1L403.0 461.1L403.6 461.1L404.3 461.1L405.0 461.1L405.7 461.1L406.3 461.1L407.0 461.1L407.7 461.1L408.3 461.1L409.0 461.1L409.7 461.1L410.4 461.1L411.0 461.1L411.7 461.1L412.4 461.1L413.1 461.1L413.7 461.1L414.4 461.1L415.1 461.1L415.7 461.1L416.4 461.1L417.1 461.1L417.8 461.1L418.4 461.1L419.1 461.1L419.8 461.1L420.4 461.1L421.1 461.1L421.8 461.1L422.5 461.1L423.1 461.1L423.8 461.1L424.5 461.1L425.1 461.1L425.8 461.1L426.5 461.1L427.2 461.1L427.8 461.1L428.5 461.1L429.2 461.1L429.9 461.1L430.5 461.1L431.2 461.1L431.9 461.1L432.5 461.1L433.2 461.1L433.9 461.1L434.6 461.1L435.2 461.1L435.9 461.1L436.6 461.1L437.2 461.1L437.9 461.1L438.6 461.1L439.3 461.1L439.9 461.1L440.6 461.1L441.3 461.1L441.9 461.1L442.6 461.1L443.3 461.1L444.0 461.1L444.6 461.1L445.3 461.1L446.0 461.1L446.7 461.1L447.3 461.1L448.0 461.1L448.7 461.1L449.3 461.1L450.0 461.1L450.7 461.1L451.4 461.1L452.0 461.1L452.7 461.1L453.4 461.1L454.0 461.1L454.7 461.1L455.4 461.1L456.1 461.1L456.7 461.1L457.4 461.1L458.1 461.1L458.7 461.1L459.4 461.1L460.1 461.1L460.8 461.1L461.4 461.1L462.1 461.1L462.8 461.1L463.5 461.1L464.1 461.1L464.8 461.1L465.5 461.1L466.1 461.1L466.8 461.1L467.5 461.1L468.2 461.1L468.8 461.1L469.5 461.1L470.2 461.1L470.8 461.1L471.5 461.1L472.2 461.1L472.9 461.1L473.5 461.1L474.2 461.1L474.9 461.1L475.5 461.1L476.2 461.0L476.9 461.0L477.6 461.0L478.2 461.0L478.9 461.0L479.6 461.0L480.3 461.0L480.9 460.9L481.6 460.9L482.3 460.9L482.9 460.8L483.6 460.8L484.3 460.7L485.0 460.7L485.6 460.6L486.3 460.5L487.0 460.4L487.6 460.3L488.3 460.1L489.0 459.9L489.7 459.7L490.3 459.5L491.0 459.2L491.7 458.9L492.3 458.5L493.0 458.1L493.7 457.6L494.4 457.1L495.0 456.4L495.7 455.7L496.4 454.9L497.1 454.0L497.7 453.1L498.4 452.0L499.1 450.9L499.7 449.7L500.4 448.5L501.1 447.2L501.8 446.1L502.4 444.9L503.1 443.9L503.8 443.1L504.4 442.5L505.1 442.0L505.8 441.9L506.5 442.0L507.1 442.3L507.8 442.9L508.5 443.7L509.1 444.6L509.8 445.7L510.5 446.8L511.2 448.0L511.8 449.2L512.5 450.3L513.2 451.4L513.9 452.4L514.5 453.3L515.2 454.2L515.9 455.0L516.5 455.7L517.2 456.3L517.9 456.8L518.6 457.3L519.2 457.7L519.9 458.0L520.6 458.3L521.2 458.6L521.9 458.8L522.6 459.0L523.3 459.2L523.9 459.3L524.6 459.4L525.3 459.5L525.9 459.6L526.6 459.7L527.3 459.7L528.0 459.8L528.6 459.8L529.3 459.9L530.0 459.9L530.7 459.9L531.3 460.0L532.0 460.0L532.7 460.0L533.3 460.0L534.0 460.0L534.7 460.0L535.4 460.0L536.0 460.0L536.7 460.0L537.4 460.1L538.0 460.1L538.7 460.1L539.4 460.1L540.1 460.1L540.7 460.1L541.4 460.1L542.1 460.1L542.7 460.1L543.4 460.1L544.1 460.1L544.8 460.1L545.4 460.1L546.1 460.1L546.8 460.1L547.5 460.1L548.1 460.1L548.8 460.1L549.5 460.1L550.1 460.1L550.8 460.1L551.5 460.1L552.2 460.1L552.8 460.1L553.5 460.1L554.2 460.1L554.8 460.1L555.5 460.1L556.2 460.1L556.9 460.1L557.5 460.1L558.2 460.1L558.9 460.1L559.5 460.1L560.2 460.1L560.9 460.1L561.6 460.1L562.2 460.1L562.9 460.1L563.6 460.1L564.3 460.1L564.9 460.1L565.6 460.1L566.3 460.1L566.9 460.1L567.6 460.1L568.3 460.1L569.0 460.1L569.6 460.1L570.3 460.1L571.0 460.1L571.6 460.1L572.3 460.1L573.0 460.1L573.7 460.1L574.3 460.1L575.0 460.1L575.7 460.1L576.3 460.1L577.0 460.1L577.7 460.1L578.4 460.1L579.0 460.1L579.7 460.1L580.4 460.1L581.1 460.1L581.7 460.1L582.4 460.1L583.1 460.1L583.7 460.1L584.4 460.1L585.1 460.1L585.8 460.1L586.4 460.1L587.1 460.1L587.8 460.1L588.4 460.1L589.1 460.1L589.8 460.1L590.5 460.1L591.1 460.1L591.8 460.1L592.5 460.1L593.1 460.1L593.8 460.1L594.5 460.1L595.2 460.1L595.8 460.1L596.5 460.1L597.2 460.1L597.9 460.1L598.5 460.1L599.2 460.1L599.9 460.1L600.5 460.1L601.2 460.1L601.9 460.1L602.6 460.1L603.2 460.1L603.9 460.1L604.6 460.1L605.2 460.1L605.9 460.1L606.6 460.1L607.3 460.1L607.9 460.1L608.6 460.1L609.3 460.1L609.9 460.1L610.6 460.1L611.3 460.1L612.0 460.1L612.6 460.1L613.3 460.1L614.0 460.1L614.7 460.1L615.3 460.1L616.0 460.1L616.7 460.1L617.3 460.1L618.0 460.1L618.7 460.1L619.4 460.1L620.0 460.1L620.7 460.1L621.4 460.1L622.0 460.1L622.7 460.1L623.4 460.1L624.1 460.1L624.7 460.1L625.4 460.1L626.1 460.1L626.7 460.1L627.4 460.1L628.1 460.1L628.8 460.1L629.4 460.1L630.1 460.1L630.8 460.1L631.5 460.1L632.1 460.1L632.8 460.1L633.5 460.1L634.1 460.1L634.8 460.1L635.5 460.1L636.2 460.1L636.8 460.1L637.5 460.1L638.2 460.1L638.8 460.1L639.5 460.1L640.2 460.1L640.9 460.1L641.5 460.1L642.2 460.1L642.9 460.1L643.5 460.1L644.2 460.1L644.9 460.1L645.6 460.1L646.2 460.1L646.9 460.1L647.6 460.1L648.3 460.1L648.9 460.1L649.6 460.1L650.3 460.1L650.9 460.1L651.6 460.1L652.3 460.1L653.0 460.1L653.6 460.1L654.3 460.1L655.0 460.1L655.6 460.1L656.3 460.1L657.0 460.1L657.7 460.1L658.3 460.1L659.0 460.1L659.7 460.1L660.3 460.1L661.0 460.1L661.7 460.1L662.4 460.1L663.0 460.1L663.7 460.1L664.4 460.1L665.1 460.1L665.7 460.1L666.4 460.1L667.1 460.1L667.7 460.1L668.4 460.1L669.1 460.1L669.8 460.1L670.4 460.1L671.1 460.2" fill="none" stroke="#0000ff" stroke-width="2.2" stroke-dasharray="1.70 5.10 6.80 5.10"/>
<path d="M402.3 461.1L403.0 461.1L403.6 461.1L404.3 461.1L405.0 461.1L405.7 461.1L406.3 461.1L407.0 461.1L407.7 461.1L408.3 461.1L409.0 461.1L409.7 461.1L410.4 461.1L411.0 461.1L411.7 461.1L412.4 461.1L413.1 461.1L413.7 461.1L414.4 461.1L415.1 461.1L415.7 461.1L416.4 461.1L417.1 461.1L417.8 461.1L418.4 461.1L419.1 461.1L419.8 461.1L420.4 461.1L421.1 461.1L421.8 461.1L422.5 461.1L423.1 461.1L423.8 461.1L424.5 461.1L425.1 461.1L425.8 461.1L426.5 461.1L427.2 461.1L427.8 461.1L428.5 461.1L429.2 461.1L429.9 461.1L430.5 461.1L431.2 461.1L431.9 461.1L432.5 461.1L433.2 461.1L433.9 461.1L434.6 461.1L435.2 461.1L435.9 461.1L436.6 461.1L437.2 461.1L437.9 461.1L438.6 461.1L439.3 461.1L439.9 461.1L440.6 461.1L441.3 461.1L441.9 461.1L442.6 461.1L443.3 461.1L444.0 461.1L444.6 461.1L445.3 461.1L446.0 461.1L446.7 461.1L447.3 461.1L448.0 461.1L448.7 461.1L449.3 461.1L450.0 461.1L450.7 461.1L451.4 461.1L452.0 461.1L452.7 461.0L453.4 461.0L454.0 461.0L454.7 461.0L455.4 461.0L456.1 461.0L456.7 461.0L457.4 461.0L458.1 461.0L458.7 461.0L459.4 461.0L460.1 460.9L460.8 460.9L461.4 460.9L462.1 460.9L462.8 460.9L463.5 460.8L464.1 460.8L464.8 460.8L465.5 460.7L466.1 460.7L466.8 460.7L467.5 460.6L468.2 460.6L468.8 460.5L469.5 460.5L470.2 460.4L470.8 460.3L471.5 460.2L472.2 460.2L472.9 460.1L473.5 460.0L474.2 459.8L474.9 459.7L475.5 459.6L476.2 459.4L476.9 459.3L477.6 459.1L478.2 458.9L478.9 458.7L479.6 458.5L480.3 458.3L480.9 458.1L481.6 457.8L482.3 457.5L482.9 457.2L483.6 456.9L484.3 456.6L485.0 456.3L485.6 455.9L486.3 455.6L487.0 455.2L487.6 454.8L488.3 454.5L489.0 454.1L489.7 453.7L490.3 453.4L491.0 453.0L491.7 452.7L492.3 452.4L493.0 452.1L493.7 451.9L494.4 451.7L495.0 451.5L495.7 451.4L496.4 451.3L497.1 451.3L497.7 451.3L498.4 451.3L499.1 451.4L499.7 451.5L500.4 451.7L501.1 451.9L501.8 452.1L502.4 452.3L503.1 452.5L503.8 452.8L504.4 453.1L505.1 453.4L505.8 453.7L506.5 453.9L507.1 454.2L507.8 454.5L508.5 454.8L509.1 455.0L509.8 455.3L510.5 455.5L511.2 455.7L511.8 456.0L512.5 456.2L513.2 456.4L513.9 456.5L514.5 456.7L515.2 456.9L515.9 457.0L516.5 457.1L517.2 457.3L517.9 457.4L518.6 457.5L519.2 457.6L519.9 457.7L520.6 457.7L521.2 457.8L521.9 457.9L522.6 457.9L523.3 458.0L523.9 458.0L524.6 458.1L525.3 458.1L525.9 458.2L526.6 458.2L527.3 458.2L528.0 458.3L528.6 458.3L529.3 458.3L530.0 458.3L530.7 458.4L531.3 458.4L532.0 458.4L532.7 458.4L533.3 458.4L534.0 458.4L534.7 458.4L535.4 458.5L536.0 458.5L536.7 458.5L537.4 458.5L538.0 458.5L538.7 458.5L539.4 458.5L540.1 458.5L540.7 458.5L541.4 458.5L542.1 458.5L542.7 458.5L543.4 458.5L544.1 458.5L544.8 458.5L545.4 458.5L546.1 458.5L546.8 458.5L547.5 458.5L548.1 458.5L548.8 458.5L549.5 458.5L550.1 458.5L550.8 458.5L551.5 458.5L552.2 458.5L552.8 458.5L553.5 458.5L554.2 458.5L554.8 458.5L555.5 458.5L556.2 458.5L556.9 458.5L557.5 458.5L558.2 458.5L558.9 458.5L559.5 458.5L560.2 458.5L560.9 458.5L561.6 458.5L562.2 458.5L562.9 458.5L563.6 458.5L564.3 458.5L564.9 458.5L565.6 458.5L566.3 458.5L566.9 458.5L567.6 458.5L568.3 458.5L569.0 458.5L569.6 458.5L570.3 458.5L571.0 458.5L571.6 458.5L572.3 458.5L573.0 458.5L573.7 458.5L574.3 458.5L575.0 458.5L575.7 458.5L576.3 458.5L577.0 458.5L577.7 458.5L578.4 458.5L579.0 458.5L579.7 458.5L580.4 458.5L581.1 458.5L581.7 458.5L582.4 458.5L583.1 458.5L583.7 458.5L584.4 458.5L585.1 458.5L585.8 458.5L586.4 458.5L587.1 458.5L587.8 458.5L588.4 458.5L589.1 458.5L589.8 458.5L590.5 458.5L591.1 458.5L591.8 458.5L592.5 458.5L593.1 458.5L593.8 458.5L594.5 458.5L595.2 458.5L595.8 458.5L596.5 458.5L597.2 458.5L597.9 458.5L598.5 458.5L599.2 458.5L599.9 458.5L600.5 458.5L601.2 458.5L601.9 458.5L602.6 458.5L603.2 458.5L603.9 458.5L604.6 458.5L605.2 458.5L605.9 458.5L606.6 458.5L607.3 458.5L607.9 458.5L608.6 458.5L609.3 458.5L609.9 458.5L610.6 458.5L611.3 458.5L612.0 458.5L612.6 458.5L613.3 458.5L614.0 458.5L614.7 458.5L615.3 458.5L616.0 458.5L616.7 458.5L617.3 458.5L618.0 458.5L618.7 458.5L619.4 458.5L620.0 458.5L620.7 458.5L621.4 458.5L622.0 458.5L622.7 458.5L623.4 458.5L624.1 458.5L624.7 458.5L625.4 458.5L626.1 458.5L626.7 458.5L627.4 458.5L628.1 458.5L628.8 458.5L629.4 458.5L630.1 458.5L630.8 458.5L631.5 458.5L632.1 458.5L632.8 458.5L633.5 458.6L634.1 458.6L634.8 458.6L635.5 458.6L636.2 458.6L636.8 458.6L637.5 458.6L638.2 458.6L638.8 458.6L639.5 458.6L640.2 458.6L640.9 458.6L641.5 458.6L642.2 458.6L642.9 458.6L643.5 458.6L644.2 458.6L644.9 458.6L645.6 458.6L646.2 458.6L646.9 458.6L647.6 458.6L648.3 458.6L648.9 458.6L649.6 458.6L650.3 458.6L650.9 458.6L651.6 458.6L652.3 458.6L653.0 458.6L653.6 458.6L654.3 458.6L655.0 458.6L655.6 458.6L656.3 458.6L657.0 458.6L657.7 458.6L658.3 458.6L659.0 458.6L659.7 458.6L660.3 458.6L661.0 458.6L661.7 458.6L662.4 458.6L663.0 458.6L663.7 458.7L664.4 458.7L665.1 458.7L665.7 458.7L666.4 458.7L667.1 458.7L667.7 458.7L668.4 458.8L669.1 458.8L669.8 458.8L670.4 458.8L671.1 458.9" fill="none" stroke="#0000ff" stroke-width="2.2" stroke-dasharray="1.70 5.10 6.80 5.10"/>
<text x="598.8" y="86.2" font-size="17.6" fill="#000" stroke="#000" text-anchor="start" >Scale</text>
<line x1="599.7" y1="97.8" x2="611.6" y2="97.8" stroke="#000" stroke-width="1.8"/>
<line x1="599.7" y1="113.4" x2="611.6" y2="113.4" stroke="#0000ff" stroke-width="1.8"/>
<text x="615.6" y="102.9" font-size="14.1" fill="#000" stroke="#000" text-anchor="start" >DASS</text>
<text x="615.0" y="118.4" font-size="14.1" fill="#000" stroke="#000" text-anchor="start" >QIDS</text>
</svg></body></html>
